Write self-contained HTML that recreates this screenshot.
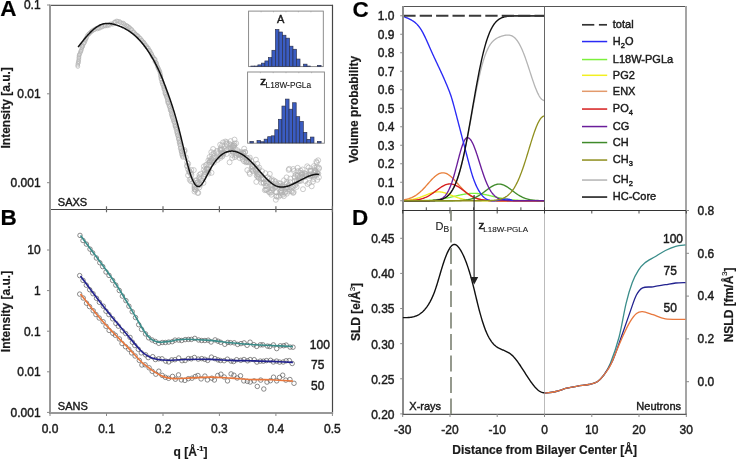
<!DOCTYPE html>
<html><head><meta charset="utf-8"><style>
html,body{margin:0;padding:0;background:#fff;width:736px;height:459px;overflow:hidden}
svg{display:block;font-family:"Liberation Sans",sans-serif}
text{stroke:#1a1a1a;stroke-width:0.42px}
text[font-weight="bold"]{stroke-width:0.2px}
.sm{stroke-width:0.12px}
</style></head><body>
<div style="will-change:transform;width:736px;height:459px"><svg width="736" height="459" viewBox="0 0 736 459">
<rect width="736" height="459" fill="#fff"/>
<circle cx="77.8" cy="66.5" r="1.9" fill="none" stroke="#b0b0b0" stroke-width="0.65"/>
<circle cx="77.7" cy="65.1" r="1.9" fill="none" stroke="#b0b0b0" stroke-width="0.65"/>
<circle cx="78.0" cy="63.4" r="1.9" fill="none" stroke="#b0b0b0" stroke-width="0.65"/>
<circle cx="78.6" cy="62.3" r="1.9" fill="none" stroke="#b0b0b0" stroke-width="0.65"/>
<circle cx="78.4" cy="61.2" r="1.9" fill="none" stroke="#b0b0b0" stroke-width="0.65"/>
<circle cx="78.8" cy="59.6" r="1.9" fill="none" stroke="#b0b0b0" stroke-width="0.65"/>
<circle cx="78.9" cy="58.0" r="1.9" fill="none" stroke="#b0b0b0" stroke-width="0.65"/>
<circle cx="79.0" cy="56.9" r="1.9" fill="none" stroke="#b0b0b0" stroke-width="0.65"/>
<circle cx="79.1" cy="55.3" r="1.9" fill="none" stroke="#b0b0b0" stroke-width="0.65"/>
<circle cx="79.4" cy="54.5" r="1.9" fill="none" stroke="#b0b0b0" stroke-width="0.65"/>
<circle cx="80.1" cy="53.2" r="1.9" fill="none" stroke="#b0b0b0" stroke-width="0.65"/>
<circle cx="80.6" cy="51.6" r="1.9" fill="none" stroke="#b0b0b0" stroke-width="0.65"/>
<circle cx="81.0" cy="51.0" r="1.9" fill="none" stroke="#b0b0b0" stroke-width="0.65"/>
<circle cx="81.6" cy="49.4" r="1.9" fill="none" stroke="#b0b0b0" stroke-width="0.65"/>
<circle cx="81.9" cy="47.7" r="1.9" fill="none" stroke="#b0b0b0" stroke-width="0.65"/>
<circle cx="82.3" cy="46.5" r="1.9" fill="none" stroke="#b0b0b0" stroke-width="0.65"/>
<circle cx="82.6" cy="46.4" r="1.9" fill="none" stroke="#b0b0b0" stroke-width="0.65"/>
<circle cx="82.9" cy="45.1" r="1.9" fill="none" stroke="#b0b0b0" stroke-width="0.65"/>
<circle cx="83.9" cy="43.5" r="1.9" fill="none" stroke="#b0b0b0" stroke-width="0.65"/>
<circle cx="84.4" cy="42.6" r="1.9" fill="none" stroke="#b0b0b0" stroke-width="0.65"/>
<circle cx="85.1" cy="41.1" r="1.9" fill="none" stroke="#b0b0b0" stroke-width="0.65"/>
<circle cx="85.3" cy="39.8" r="1.9" fill="none" stroke="#b0b0b0" stroke-width="0.65"/>
<circle cx="85.8" cy="38.9" r="1.9" fill="none" stroke="#b0b0b0" stroke-width="0.65"/>
<circle cx="86.5" cy="38.1" r="1.9" fill="none" stroke="#b0b0b0" stroke-width="0.65"/>
<circle cx="87.0" cy="36.3" r="1.9" fill="none" stroke="#b0b0b0" stroke-width="0.65"/>
<circle cx="87.9" cy="34.8" r="1.9" fill="none" stroke="#b0b0b0" stroke-width="0.65"/>
<circle cx="89.2" cy="33.7" r="1.9" fill="none" stroke="#b0b0b0" stroke-width="0.65"/>
<circle cx="89.6" cy="33.3" r="1.9" fill="none" stroke="#b0b0b0" stroke-width="0.65"/>
<circle cx="90.9" cy="31.9" r="1.9" fill="none" stroke="#b0b0b0" stroke-width="0.65"/>
<circle cx="91.7" cy="31.4" r="1.9" fill="none" stroke="#b0b0b0" stroke-width="0.65"/>
<circle cx="92.5" cy="30.7" r="1.9" fill="none" stroke="#b0b0b0" stroke-width="0.65"/>
<circle cx="93.7" cy="29.8" r="1.9" fill="none" stroke="#b0b0b0" stroke-width="0.65"/>
<circle cx="94.7" cy="29.7" r="1.9" fill="none" stroke="#b0b0b0" stroke-width="0.65"/>
<circle cx="96.3" cy="28.2" r="1.9" fill="none" stroke="#b0b0b0" stroke-width="0.65"/>
<circle cx="97.4" cy="28.9" r="1.9" fill="none" stroke="#b0b0b0" stroke-width="0.65"/>
<circle cx="98.3" cy="28.2" r="1.9" fill="none" stroke="#b0b0b0" stroke-width="0.65"/>
<circle cx="99.5" cy="28.3" r="1.9" fill="none" stroke="#b0b0b0" stroke-width="0.65"/>
<circle cx="100.9" cy="27.3" r="1.9" fill="none" stroke="#b0b0b0" stroke-width="0.65"/>
<circle cx="102.1" cy="27.0" r="1.9" fill="none" stroke="#b0b0b0" stroke-width="0.65"/>
<circle cx="103.4" cy="26.2" r="1.9" fill="none" stroke="#b0b0b0" stroke-width="0.65"/>
<circle cx="105.1" cy="25.3" r="1.9" fill="none" stroke="#b0b0b0" stroke-width="0.65"/>
<circle cx="105.2" cy="26.0" r="1.9" fill="none" stroke="#b0b0b0" stroke-width="0.65"/>
<circle cx="107.1" cy="25.9" r="1.9" fill="none" stroke="#b0b0b0" stroke-width="0.65"/>
<circle cx="108.3" cy="25.1" r="1.9" fill="none" stroke="#b0b0b0" stroke-width="0.65"/>
<circle cx="109.6" cy="25.3" r="1.9" fill="none" stroke="#b0b0b0" stroke-width="0.65"/>
<circle cx="110.6" cy="23.9" r="1.9" fill="none" stroke="#b0b0b0" stroke-width="0.65"/>
<circle cx="112.2" cy="23.8" r="1.9" fill="none" stroke="#b0b0b0" stroke-width="0.65"/>
<circle cx="112.8" cy="24.3" r="1.9" fill="none" stroke="#b0b0b0" stroke-width="0.65"/>
<circle cx="114.4" cy="22.0" r="1.9" fill="none" stroke="#b0b0b0" stroke-width="0.65"/>
<circle cx="115.2" cy="22.1" r="1.9" fill="none" stroke="#b0b0b0" stroke-width="0.65"/>
<circle cx="116.5" cy="21.0" r="1.9" fill="none" stroke="#b0b0b0" stroke-width="0.65"/>
<circle cx="117.7" cy="21.2" r="1.9" fill="none" stroke="#b0b0b0" stroke-width="0.65"/>
<circle cx="119.5" cy="21.4" r="1.9" fill="none" stroke="#b0b0b0" stroke-width="0.65"/>
<circle cx="120.2" cy="22.4" r="1.9" fill="none" stroke="#b0b0b0" stroke-width="0.65"/>
<circle cx="121.7" cy="23.0" r="1.9" fill="none" stroke="#b0b0b0" stroke-width="0.65"/>
<circle cx="123.1" cy="23.0" r="1.9" fill="none" stroke="#b0b0b0" stroke-width="0.65"/>
<circle cx="124.0" cy="23.7" r="1.9" fill="none" stroke="#b0b0b0" stroke-width="0.65"/>
<circle cx="124.8" cy="24.9" r="1.9" fill="none" stroke="#b0b0b0" stroke-width="0.65"/>
<circle cx="126.4" cy="25.4" r="1.9" fill="none" stroke="#b0b0b0" stroke-width="0.65"/>
<circle cx="127.1" cy="25.9" r="1.9" fill="none" stroke="#b0b0b0" stroke-width="0.65"/>
<circle cx="128.0" cy="26.4" r="1.9" fill="none" stroke="#b0b0b0" stroke-width="0.65"/>
<circle cx="129.0" cy="27.2" r="1.9" fill="none" stroke="#b0b0b0" stroke-width="0.65"/>
<circle cx="130.0" cy="28.0" r="1.9" fill="none" stroke="#b0b0b0" stroke-width="0.65"/>
<circle cx="131.1" cy="29.5" r="1.9" fill="none" stroke="#b0b0b0" stroke-width="0.65"/>
<circle cx="131.8" cy="29.5" r="1.9" fill="none" stroke="#b0b0b0" stroke-width="0.65"/>
<circle cx="133.0" cy="31.6" r="1.9" fill="none" stroke="#b0b0b0" stroke-width="0.65"/>
<circle cx="133.8" cy="31.9" r="1.9" fill="none" stroke="#b0b0b0" stroke-width="0.65"/>
<circle cx="134.8" cy="33.2" r="1.9" fill="none" stroke="#b0b0b0" stroke-width="0.65"/>
<circle cx="135.7" cy="34.2" r="1.9" fill="none" stroke="#b0b0b0" stroke-width="0.65"/>
<circle cx="136.7" cy="35.1" r="1.9" fill="none" stroke="#b0b0b0" stroke-width="0.65"/>
<circle cx="137.7" cy="35.6" r="1.9" fill="none" stroke="#b0b0b0" stroke-width="0.65"/>
<circle cx="138.3" cy="36.4" r="1.9" fill="none" stroke="#b0b0b0" stroke-width="0.65"/>
<circle cx="139.4" cy="37.8" r="1.9" fill="none" stroke="#b0b0b0" stroke-width="0.65"/>
<circle cx="140.4" cy="38.3" r="1.9" fill="none" stroke="#b0b0b0" stroke-width="0.65"/>
<circle cx="141.3" cy="39.9" r="1.9" fill="none" stroke="#b0b0b0" stroke-width="0.65"/>
<circle cx="142.0" cy="40.4" r="1.9" fill="none" stroke="#b0b0b0" stroke-width="0.65"/>
<circle cx="142.8" cy="41.8" r="1.9" fill="none" stroke="#b0b0b0" stroke-width="0.65"/>
<circle cx="143.8" cy="42.2" r="1.9" fill="none" stroke="#b0b0b0" stroke-width="0.65"/>
<circle cx="144.6" cy="43.4" r="1.9" fill="none" stroke="#b0b0b0" stroke-width="0.65"/>
<circle cx="145.1" cy="45.0" r="1.9" fill="none" stroke="#b0b0b0" stroke-width="0.65"/>
<circle cx="146.2" cy="45.4" r="1.9" fill="none" stroke="#b0b0b0" stroke-width="0.65"/>
<circle cx="146.8" cy="46.9" r="1.9" fill="none" stroke="#b0b0b0" stroke-width="0.65"/>
<circle cx="147.4" cy="47.7" r="1.9" fill="none" stroke="#b0b0b0" stroke-width="0.65"/>
<circle cx="148.4" cy="48.2" r="1.9" fill="none" stroke="#b0b0b0" stroke-width="0.65"/>
<circle cx="149.0" cy="50.2" r="1.9" fill="none" stroke="#b0b0b0" stroke-width="0.65"/>
<circle cx="149.8" cy="50.6" r="1.9" fill="none" stroke="#b0b0b0" stroke-width="0.65"/>
<circle cx="150.4" cy="51.9" r="1.9" fill="none" stroke="#b0b0b0" stroke-width="0.65"/>
<circle cx="151.1" cy="53.5" r="1.9" fill="none" stroke="#b0b0b0" stroke-width="0.65"/>
<circle cx="151.7" cy="54.1" r="1.9" fill="none" stroke="#b0b0b0" stroke-width="0.65"/>
<circle cx="152.2" cy="55.8" r="1.9" fill="none" stroke="#b0b0b0" stroke-width="0.65"/>
<circle cx="152.7" cy="56.8" r="1.9" fill="none" stroke="#b0b0b0" stroke-width="0.65"/>
<circle cx="153.6" cy="57.7" r="1.9" fill="none" stroke="#b0b0b0" stroke-width="0.65"/>
<circle cx="154.6" cy="59.0" r="1.9" fill="none" stroke="#b0b0b0" stroke-width="0.65"/>
<circle cx="155.2" cy="59.4" r="1.9" fill="none" stroke="#b0b0b0" stroke-width="0.65"/>
<circle cx="154.9" cy="61.6" r="1.9" fill="none" stroke="#b0b0b0" stroke-width="0.65"/>
<circle cx="156.0" cy="62.3" r="1.9" fill="none" stroke="#b0b0b0" stroke-width="0.65"/>
<circle cx="156.4" cy="63.0" r="1.9" fill="none" stroke="#b0b0b0" stroke-width="0.65"/>
<circle cx="156.8" cy="64.5" r="1.9" fill="none" stroke="#b0b0b0" stroke-width="0.65"/>
<circle cx="157.4" cy="66.3" r="1.9" fill="none" stroke="#b0b0b0" stroke-width="0.65"/>
<circle cx="157.9" cy="67.4" r="1.9" fill="none" stroke="#b0b0b0" stroke-width="0.65"/>
<circle cx="158.2" cy="68.3" r="1.9" fill="none" stroke="#b0b0b0" stroke-width="0.65"/>
<circle cx="158.8" cy="69.6" r="1.9" fill="none" stroke="#b0b0b0" stroke-width="0.65"/>
<circle cx="159.4" cy="70.6" r="1.9" fill="none" stroke="#b0b0b0" stroke-width="0.65"/>
<circle cx="159.9" cy="71.8" r="1.9" fill="none" stroke="#b0b0b0" stroke-width="0.65"/>
<circle cx="160.1" cy="73.2" r="1.9" fill="none" stroke="#b0b0b0" stroke-width="0.65"/>
<circle cx="160.6" cy="74.7" r="1.9" fill="none" stroke="#b0b0b0" stroke-width="0.65"/>
<circle cx="160.7" cy="76.2" r="1.9" fill="none" stroke="#b0b0b0" stroke-width="0.65"/>
<circle cx="160.8" cy="76.8" r="1.9" fill="none" stroke="#b0b0b0" stroke-width="0.65"/>
<circle cx="160.9" cy="78.9" r="1.9" fill="none" stroke="#b0b0b0" stroke-width="0.65"/>
<circle cx="161.4" cy="79.5" r="1.9" fill="none" stroke="#b0b0b0" stroke-width="0.65"/>
<circle cx="161.9" cy="81.7" r="1.9" fill="none" stroke="#b0b0b0" stroke-width="0.65"/>
<circle cx="161.9" cy="82.3" r="1.9" fill="none" stroke="#b0b0b0" stroke-width="0.65"/>
<circle cx="162.5" cy="83.7" r="1.9" fill="none" stroke="#b0b0b0" stroke-width="0.65"/>
<circle cx="162.5" cy="84.6" r="1.9" fill="none" stroke="#b0b0b0" stroke-width="0.65"/>
<circle cx="163.4" cy="86.5" r="1.9" fill="none" stroke="#b0b0b0" stroke-width="0.65"/>
<circle cx="163.9" cy="86.9" r="1.9" fill="none" stroke="#b0b0b0" stroke-width="0.65"/>
<circle cx="163.9" cy="88.5" r="1.9" fill="none" stroke="#b0b0b0" stroke-width="0.65"/>
<circle cx="164.0" cy="89.3" r="1.9" fill="none" stroke="#b0b0b0" stroke-width="0.65"/>
<circle cx="164.8" cy="91.1" r="1.9" fill="none" stroke="#b0b0b0" stroke-width="0.65"/>
<circle cx="164.9" cy="92.7" r="1.9" fill="none" stroke="#b0b0b0" stroke-width="0.65"/>
<circle cx="165.1" cy="93.7" r="1.9" fill="none" stroke="#b0b0b0" stroke-width="0.65"/>
<circle cx="165.7" cy="94.7" r="1.9" fill="none" stroke="#b0b0b0" stroke-width="0.65"/>
<circle cx="166.2" cy="96.1" r="1.9" fill="none" stroke="#b0b0b0" stroke-width="0.65"/>
<circle cx="166.5" cy="97.3" r="1.9" fill="none" stroke="#b0b0b0" stroke-width="0.65"/>
<circle cx="167.2" cy="98.4" r="1.9" fill="none" stroke="#b0b0b0" stroke-width="0.65"/>
<circle cx="167.4" cy="99.9" r="1.9" fill="none" stroke="#b0b0b0" stroke-width="0.65"/>
<circle cx="167.5" cy="101.3" r="1.9" fill="none" stroke="#b0b0b0" stroke-width="0.65"/>
<circle cx="167.8" cy="102.6" r="1.9" fill="none" stroke="#b0b0b0" stroke-width="0.65"/>
<circle cx="168.2" cy="103.3" r="1.9" fill="none" stroke="#b0b0b0" stroke-width="0.65"/>
<circle cx="168.8" cy="105.0" r="1.9" fill="none" stroke="#b0b0b0" stroke-width="0.65"/>
<circle cx="169.3" cy="106.3" r="1.9" fill="none" stroke="#b0b0b0" stroke-width="0.65"/>
<circle cx="169.5" cy="106.8" r="1.9" fill="none" stroke="#b0b0b0" stroke-width="0.65"/>
<circle cx="170.0" cy="108.5" r="1.9" fill="none" stroke="#b0b0b0" stroke-width="0.65"/>
<circle cx="170.1" cy="110.0" r="1.9" fill="none" stroke="#b0b0b0" stroke-width="0.65"/>
<circle cx="170.7" cy="110.6" r="1.9" fill="none" stroke="#b0b0b0" stroke-width="0.65"/>
<circle cx="171.1" cy="111.7" r="1.9" fill="none" stroke="#b0b0b0" stroke-width="0.65"/>
<circle cx="171.2" cy="113.5" r="1.9" fill="none" stroke="#b0b0b0" stroke-width="0.65"/>
<circle cx="171.5" cy="114.7" r="1.9" fill="none" stroke="#b0b0b0" stroke-width="0.65"/>
<circle cx="171.9" cy="116.1" r="1.9" fill="none" stroke="#b0b0b0" stroke-width="0.65"/>
<circle cx="172.4" cy="117.2" r="1.9" fill="none" stroke="#b0b0b0" stroke-width="0.65"/>
<circle cx="172.6" cy="118.3" r="1.9" fill="none" stroke="#b0b0b0" stroke-width="0.65"/>
<circle cx="173.5" cy="119.8" r="1.9" fill="none" stroke="#b0b0b0" stroke-width="0.65"/>
<circle cx="173.3" cy="121.2" r="1.9" fill="none" stroke="#b0b0b0" stroke-width="0.65"/>
<circle cx="174.2" cy="122.0" r="1.9" fill="none" stroke="#b0b0b0" stroke-width="0.65"/>
<circle cx="174.6" cy="123.0" r="1.9" fill="none" stroke="#b0b0b0" stroke-width="0.65"/>
<circle cx="174.7" cy="125.0" r="1.9" fill="none" stroke="#b0b0b0" stroke-width="0.65"/>
<circle cx="175.3" cy="126.3" r="1.9" fill="none" stroke="#b0b0b0" stroke-width="0.65"/>
<circle cx="175.2" cy="126.5" r="1.9" fill="none" stroke="#b0b0b0" stroke-width="0.65"/>
<circle cx="175.8" cy="127.9" r="1.9" fill="none" stroke="#b0b0b0" stroke-width="0.65"/>
<circle cx="176.0" cy="129.2" r="1.9" fill="none" stroke="#b0b0b0" stroke-width="0.65"/>
<circle cx="176.6" cy="131.2" r="1.9" fill="none" stroke="#b0b0b0" stroke-width="0.65"/>
<circle cx="176.8" cy="132.2" r="1.9" fill="none" stroke="#b0b0b0" stroke-width="0.65"/>
<circle cx="177.0" cy="133.3" r="1.9" fill="none" stroke="#b0b0b0" stroke-width="0.65"/>
<circle cx="177.4" cy="134.8" r="1.9" fill="none" stroke="#b0b0b0" stroke-width="0.65"/>
<circle cx="177.7" cy="135.8" r="1.9" fill="none" stroke="#b0b0b0" stroke-width="0.65"/>
<circle cx="178.3" cy="137.3" r="1.9" fill="none" stroke="#b0b0b0" stroke-width="0.65"/>
<circle cx="178.5" cy="138.9" r="1.9" fill="none" stroke="#b0b0b0" stroke-width="0.65"/>
<circle cx="178.4" cy="139.2" r="1.9" fill="none" stroke="#b0b0b0" stroke-width="0.65"/>
<circle cx="179.1" cy="140.9" r="1.9" fill="none" stroke="#b0b0b0" stroke-width="0.65"/>
<circle cx="179.1" cy="142.2" r="1.9" fill="none" stroke="#b0b0b0" stroke-width="0.65"/>
<circle cx="179.4" cy="143.1" r="1.9" fill="none" stroke="#b0b0b0" stroke-width="0.65"/>
<circle cx="179.7" cy="144.7" r="1.9" fill="none" stroke="#b0b0b0" stroke-width="0.65"/>
<circle cx="180.0" cy="145.3" r="1.9" fill="none" stroke="#b0b0b0" stroke-width="0.65"/>
<circle cx="180.4" cy="147.5" r="1.9" fill="none" stroke="#b0b0b0" stroke-width="0.65"/>
<circle cx="180.2" cy="148.4" r="1.9" fill="none" stroke="#b0b0b0" stroke-width="0.65"/>
<circle cx="180.9" cy="150.1" r="1.9" fill="none" stroke="#b0b0b0" stroke-width="0.65"/>
<circle cx="181.1" cy="151.6" r="1.9" fill="none" stroke="#b0b0b0" stroke-width="0.65"/>
<circle cx="181.4" cy="152.1" r="1.9" fill="none" stroke="#b0b0b0" stroke-width="0.65"/>
<circle cx="181.6" cy="153.9" r="1.9" fill="none" stroke="#b0b0b0" stroke-width="0.65"/>
<circle cx="181.9" cy="155.2" r="1.9" fill="none" stroke="#b0b0b0" stroke-width="0.65"/>
<circle cx="182.5" cy="156.4" r="1.9" fill="none" stroke="#b0b0b0" stroke-width="0.65"/>
<circle cx="182.8" cy="157.4" r="1.9" fill="none" stroke="#b0b0b0" stroke-width="0.65"/>
<circle cx="285.6" cy="191.6" r="2.5" fill="none" stroke="#b0b0b0" stroke-width="0.65"/>
<circle cx="286.8" cy="193.7" r="2.5" fill="none" stroke="#b0b0b0" stroke-width="0.65"/>
<circle cx="275.6" cy="181.6" r="2.5" fill="none" stroke="#b0b0b0" stroke-width="0.65"/>
<circle cx="271.4" cy="185.4" r="2.5" fill="none" stroke="#b0b0b0" stroke-width="0.65"/>
<circle cx="306.0" cy="175.9" r="2.5" fill="none" stroke="#b0b0b0" stroke-width="0.65"/>
<circle cx="285.7" cy="188.9" r="2.5" fill="none" stroke="#b0b0b0" stroke-width="0.65"/>
<circle cx="308.7" cy="167.6" r="2.5" fill="none" stroke="#b0b0b0" stroke-width="0.65"/>
<circle cx="281.8" cy="187.8" r="2.5" fill="none" stroke="#b0b0b0" stroke-width="0.65"/>
<circle cx="209.3" cy="162.6" r="2.5" fill="none" stroke="#b0b0b0" stroke-width="0.65"/>
<circle cx="263.6" cy="182.7" r="2.5" fill="none" stroke="#b0b0b0" stroke-width="0.65"/>
<circle cx="226.8" cy="150.2" r="2.5" fill="none" stroke="#b0b0b0" stroke-width="0.65"/>
<circle cx="313.7" cy="179.0" r="2.5" fill="none" stroke="#b0b0b0" stroke-width="0.65"/>
<circle cx="224.2" cy="148.7" r="2.5" fill="none" stroke="#b0b0b0" stroke-width="0.65"/>
<circle cx="300.1" cy="172.6" r="2.5" fill="none" stroke="#b0b0b0" stroke-width="0.65"/>
<circle cx="263.5" cy="178.5" r="2.5" fill="none" stroke="#b0b0b0" stroke-width="0.65"/>
<circle cx="187.1" cy="165.8" r="2.5" fill="none" stroke="#b0b0b0" stroke-width="0.65"/>
<circle cx="249.2" cy="161.5" r="2.5" fill="none" stroke="#b0b0b0" stroke-width="0.65"/>
<circle cx="233.0" cy="151.8" r="2.5" fill="none" stroke="#b0b0b0" stroke-width="0.65"/>
<circle cx="227.8" cy="149.4" r="2.5" fill="none" stroke="#b0b0b0" stroke-width="0.65"/>
<circle cx="318.8" cy="167.6" r="2.5" fill="none" stroke="#b0b0b0" stroke-width="0.65"/>
<circle cx="249.2" cy="159.2" r="2.5" fill="none" stroke="#b0b0b0" stroke-width="0.65"/>
<circle cx="297.5" cy="175.9" r="2.5" fill="none" stroke="#b0b0b0" stroke-width="0.65"/>
<circle cx="295.7" cy="174.7" r="2.5" fill="none" stroke="#b0b0b0" stroke-width="0.65"/>
<circle cx="282.0" cy="186.1" r="2.5" fill="none" stroke="#b0b0b0" stroke-width="0.65"/>
<circle cx="300.5" cy="170.6" r="2.5" fill="none" stroke="#b0b0b0" stroke-width="0.65"/>
<circle cx="314.6" cy="175.8" r="2.5" fill="none" stroke="#b0b0b0" stroke-width="0.65"/>
<circle cx="247.6" cy="162.2" r="2.5" fill="none" stroke="#b0b0b0" stroke-width="0.65"/>
<circle cx="281.6" cy="192.8" r="2.5" fill="none" stroke="#b0b0b0" stroke-width="0.65"/>
<circle cx="275.8" cy="199.8" r="2.5" fill="none" stroke="#b0b0b0" stroke-width="0.65"/>
<circle cx="216.9" cy="152.4" r="2.5" fill="none" stroke="#b0b0b0" stroke-width="0.65"/>
<circle cx="209.8" cy="162.2" r="2.5" fill="none" stroke="#b0b0b0" stroke-width="0.65"/>
<circle cx="279.8" cy="192.7" r="2.5" fill="none" stroke="#b0b0b0" stroke-width="0.65"/>
<circle cx="300.8" cy="180.9" r="2.5" fill="none" stroke="#b0b0b0" stroke-width="0.65"/>
<circle cx="301.7" cy="174.6" r="2.5" fill="none" stroke="#b0b0b0" stroke-width="0.65"/>
<circle cx="226.6" cy="142.2" r="2.5" fill="none" stroke="#b0b0b0" stroke-width="0.65"/>
<circle cx="195.7" cy="190.1" r="2.5" fill="none" stroke="#b0b0b0" stroke-width="0.65"/>
<circle cx="196.6" cy="187.7" r="2.5" fill="none" stroke="#b0b0b0" stroke-width="0.65"/>
<circle cx="232.5" cy="146.0" r="2.5" fill="none" stroke="#b0b0b0" stroke-width="0.65"/>
<circle cx="262.9" cy="177.9" r="2.5" fill="none" stroke="#b0b0b0" stroke-width="0.65"/>
<circle cx="229.5" cy="148.4" r="2.5" fill="none" stroke="#b0b0b0" stroke-width="0.65"/>
<circle cx="243.3" cy="153.6" r="2.5" fill="none" stroke="#b0b0b0" stroke-width="0.65"/>
<circle cx="263.6" cy="179.3" r="2.5" fill="none" stroke="#b0b0b0" stroke-width="0.65"/>
<circle cx="313.9" cy="166.1" r="2.5" fill="none" stroke="#b0b0b0" stroke-width="0.65"/>
<circle cx="200.2" cy="184.9" r="2.5" fill="none" stroke="#b0b0b0" stroke-width="0.65"/>
<circle cx="221.4" cy="150.2" r="2.5" fill="none" stroke="#b0b0b0" stroke-width="0.65"/>
<circle cx="304.7" cy="173.0" r="2.5" fill="none" stroke="#b0b0b0" stroke-width="0.65"/>
<circle cx="307.6" cy="184.0" r="2.5" fill="none" stroke="#b0b0b0" stroke-width="0.65"/>
<circle cx="234.9" cy="157.2" r="2.5" fill="none" stroke="#b0b0b0" stroke-width="0.65"/>
<circle cx="289.0" cy="185.3" r="2.5" fill="none" stroke="#b0b0b0" stroke-width="0.65"/>
<circle cx="275.9" cy="183.5" r="2.5" fill="none" stroke="#b0b0b0" stroke-width="0.65"/>
<circle cx="273.0" cy="188.7" r="2.5" fill="none" stroke="#b0b0b0" stroke-width="0.65"/>
<circle cx="286.6" cy="182.2" r="2.5" fill="none" stroke="#b0b0b0" stroke-width="0.65"/>
<circle cx="314.7" cy="167.9" r="2.5" fill="none" stroke="#b0b0b0" stroke-width="0.65"/>
<circle cx="199.4" cy="175.0" r="2.5" fill="none" stroke="#b0b0b0" stroke-width="0.65"/>
<circle cx="251.2" cy="161.0" r="2.5" fill="none" stroke="#b0b0b0" stroke-width="0.65"/>
<circle cx="276.3" cy="196.2" r="2.5" fill="none" stroke="#b0b0b0" stroke-width="0.65"/>
<circle cx="261.0" cy="179.4" r="2.5" fill="none" stroke="#b0b0b0" stroke-width="0.65"/>
<circle cx="269.8" cy="192.6" r="2.5" fill="none" stroke="#b0b0b0" stroke-width="0.65"/>
<circle cx="208.4" cy="169.3" r="2.5" fill="none" stroke="#b0b0b0" stroke-width="0.65"/>
<circle cx="200.7" cy="173.8" r="2.5" fill="none" stroke="#b0b0b0" stroke-width="0.65"/>
<circle cx="310.7" cy="175.2" r="2.5" fill="none" stroke="#b0b0b0" stroke-width="0.65"/>
<circle cx="282.0" cy="192.5" r="2.5" fill="none" stroke="#b0b0b0" stroke-width="0.65"/>
<circle cx="265.3" cy="173.2" r="2.5" fill="none" stroke="#b0b0b0" stroke-width="0.65"/>
<circle cx="246.2" cy="157.7" r="2.5" fill="none" stroke="#b0b0b0" stroke-width="0.65"/>
<circle cx="226.5" cy="150.2" r="2.5" fill="none" stroke="#b0b0b0" stroke-width="0.65"/>
<circle cx="281.4" cy="190.6" r="2.5" fill="none" stroke="#b0b0b0" stroke-width="0.65"/>
<circle cx="286.6" cy="177.4" r="2.5" fill="none" stroke="#b0b0b0" stroke-width="0.65"/>
<circle cx="232.9" cy="147.5" r="2.5" fill="none" stroke="#b0b0b0" stroke-width="0.65"/>
<circle cx="220.2" cy="144.7" r="2.5" fill="none" stroke="#b0b0b0" stroke-width="0.65"/>
<circle cx="189.7" cy="179.8" r="2.5" fill="none" stroke="#b0b0b0" stroke-width="0.65"/>
<circle cx="252.6" cy="167.4" r="2.5" fill="none" stroke="#b0b0b0" stroke-width="0.65"/>
<circle cx="232.2" cy="158.0" r="2.5" fill="none" stroke="#b0b0b0" stroke-width="0.65"/>
<circle cx="229.3" cy="143.8" r="2.5" fill="none" stroke="#b0b0b0" stroke-width="0.65"/>
<circle cx="289.0" cy="189.1" r="2.5" fill="none" stroke="#b0b0b0" stroke-width="0.65"/>
<circle cx="232.0" cy="150.8" r="2.5" fill="none" stroke="#b0b0b0" stroke-width="0.65"/>
<circle cx="220.8" cy="149.8" r="2.5" fill="none" stroke="#b0b0b0" stroke-width="0.65"/>
<circle cx="197.6" cy="192.8" r="2.5" fill="none" stroke="#b0b0b0" stroke-width="0.65"/>
<circle cx="282.9" cy="194.7" r="2.5" fill="none" stroke="#b0b0b0" stroke-width="0.65"/>
<circle cx="209.1" cy="164.9" r="2.5" fill="none" stroke="#b0b0b0" stroke-width="0.65"/>
<circle cx="285.1" cy="192.7" r="2.5" fill="none" stroke="#b0b0b0" stroke-width="0.65"/>
<circle cx="294.9" cy="181.0" r="2.5" fill="none" stroke="#b0b0b0" stroke-width="0.65"/>
<circle cx="203.9" cy="166.3" r="2.5" fill="none" stroke="#b0b0b0" stroke-width="0.65"/>
<circle cx="238.2" cy="154.5" r="2.5" fill="none" stroke="#b0b0b0" stroke-width="0.65"/>
<circle cx="261.3" cy="182.7" r="2.5" fill="none" stroke="#b0b0b0" stroke-width="0.65"/>
<circle cx="211.5" cy="160.3" r="2.5" fill="none" stroke="#b0b0b0" stroke-width="0.65"/>
<circle cx="188.1" cy="175.3" r="2.5" fill="none" stroke="#b0b0b0" stroke-width="0.65"/>
<circle cx="293.2" cy="192.9" r="2.5" fill="none" stroke="#b0b0b0" stroke-width="0.65"/>
<circle cx="236.1" cy="143.3" r="2.5" fill="none" stroke="#b0b0b0" stroke-width="0.65"/>
<circle cx="259.2" cy="167.5" r="2.5" fill="none" stroke="#b0b0b0" stroke-width="0.65"/>
<circle cx="316.9" cy="167.0" r="2.5" fill="none" stroke="#b0b0b0" stroke-width="0.65"/>
<circle cx="277.4" cy="185.2" r="2.5" fill="none" stroke="#b0b0b0" stroke-width="0.65"/>
<circle cx="249.8" cy="174.0" r="2.5" fill="none" stroke="#b0b0b0" stroke-width="0.65"/>
<circle cx="265.8" cy="181.3" r="2.5" fill="none" stroke="#b0b0b0" stroke-width="0.65"/>
<circle cx="288.8" cy="184.8" r="2.5" fill="none" stroke="#b0b0b0" stroke-width="0.65"/>
<circle cx="274.0" cy="180.5" r="2.5" fill="none" stroke="#b0b0b0" stroke-width="0.65"/>
<circle cx="246.6" cy="160.9" r="2.5" fill="none" stroke="#b0b0b0" stroke-width="0.65"/>
<circle cx="210.3" cy="160.4" r="2.5" fill="none" stroke="#b0b0b0" stroke-width="0.65"/>
<circle cx="252.1" cy="166.4" r="2.5" fill="none" stroke="#b0b0b0" stroke-width="0.65"/>
<circle cx="271.9" cy="179.3" r="2.5" fill="none" stroke="#b0b0b0" stroke-width="0.65"/>
<circle cx="314.4" cy="173.2" r="2.5" fill="none" stroke="#b0b0b0" stroke-width="0.65"/>
<circle cx="305.3" cy="181.1" r="2.5" fill="none" stroke="#b0b0b0" stroke-width="0.65"/>
<circle cx="268.8" cy="191.8" r="2.5" fill="none" stroke="#b0b0b0" stroke-width="0.65"/>
<circle cx="190.9" cy="173.2" r="2.5" fill="none" stroke="#b0b0b0" stroke-width="0.65"/>
<circle cx="194.6" cy="188.6" r="2.5" fill="none" stroke="#b0b0b0" stroke-width="0.65"/>
<circle cx="257.3" cy="176.3" r="2.5" fill="none" stroke="#b0b0b0" stroke-width="0.65"/>
<circle cx="302.4" cy="174.6" r="2.5" fill="none" stroke="#b0b0b0" stroke-width="0.65"/>
<circle cx="278.5" cy="196.7" r="2.5" fill="none" stroke="#b0b0b0" stroke-width="0.65"/>
<circle cx="265.8" cy="189.6" r="2.5" fill="none" stroke="#b0b0b0" stroke-width="0.65"/>
<circle cx="310.1" cy="170.8" r="2.5" fill="none" stroke="#b0b0b0" stroke-width="0.65"/>
<circle cx="230.7" cy="141.1" r="2.5" fill="none" stroke="#b0b0b0" stroke-width="0.65"/>
<circle cx="293.7" cy="192.1" r="2.5" fill="none" stroke="#b0b0b0" stroke-width="0.65"/>
<circle cx="243.4" cy="153.0" r="2.5" fill="none" stroke="#b0b0b0" stroke-width="0.65"/>
<circle cx="286.9" cy="183.5" r="2.5" fill="none" stroke="#b0b0b0" stroke-width="0.65"/>
<circle cx="189.8" cy="172.7" r="2.5" fill="none" stroke="#b0b0b0" stroke-width="0.65"/>
<circle cx="194.6" cy="186.0" r="2.5" fill="none" stroke="#b0b0b0" stroke-width="0.65"/>
<circle cx="251.6" cy="169.1" r="2.5" fill="none" stroke="#b0b0b0" stroke-width="0.65"/>
<circle cx="279.1" cy="183.0" r="2.5" fill="none" stroke="#b0b0b0" stroke-width="0.65"/>
<circle cx="272.3" cy="185.3" r="2.5" fill="none" stroke="#b0b0b0" stroke-width="0.65"/>
<circle cx="225.4" cy="141.5" r="2.5" fill="none" stroke="#b0b0b0" stroke-width="0.65"/>
<circle cx="238.6" cy="154.6" r="2.5" fill="none" stroke="#b0b0b0" stroke-width="0.65"/>
<circle cx="208.6" cy="169.8" r="2.5" fill="none" stroke="#b0b0b0" stroke-width="0.65"/>
<circle cx="233.9" cy="145.3" r="2.5" fill="none" stroke="#b0b0b0" stroke-width="0.65"/>
<circle cx="234.5" cy="143.6" r="2.5" fill="none" stroke="#b0b0b0" stroke-width="0.65"/>
<circle cx="214.4" cy="156.1" r="2.5" fill="none" stroke="#b0b0b0" stroke-width="0.65"/>
<circle cx="184.4" cy="151.5" r="2.5" fill="none" stroke="#b0b0b0" stroke-width="0.65"/>
<circle cx="203.5" cy="182.9" r="2.5" fill="none" stroke="#b0b0b0" stroke-width="0.65"/>
<circle cx="246.6" cy="161.7" r="2.5" fill="none" stroke="#b0b0b0" stroke-width="0.65"/>
<circle cx="207.2" cy="168.5" r="2.5" fill="none" stroke="#b0b0b0" stroke-width="0.65"/>
<circle cx="238.9" cy="153.5" r="2.5" fill="none" stroke="#b0b0b0" stroke-width="0.65"/>
<circle cx="199.0" cy="183.8" r="2.5" fill="none" stroke="#b0b0b0" stroke-width="0.65"/>
<circle cx="206.9" cy="164.6" r="2.5" fill="none" stroke="#b0b0b0" stroke-width="0.65"/>
<circle cx="187.1" cy="162.4" r="2.5" fill="none" stroke="#b0b0b0" stroke-width="0.65"/>
<circle cx="244.9" cy="152.2" r="2.5" fill="none" stroke="#b0b0b0" stroke-width="0.65"/>
<circle cx="191.0" cy="181.3" r="2.5" fill="none" stroke="#b0b0b0" stroke-width="0.65"/>
<circle cx="238.8" cy="152.0" r="2.5" fill="none" stroke="#b0b0b0" stroke-width="0.65"/>
<circle cx="315.3" cy="171.5" r="2.5" fill="none" stroke="#b0b0b0" stroke-width="0.65"/>
<circle cx="213.8" cy="162.6" r="2.5" fill="none" stroke="#b0b0b0" stroke-width="0.65"/>
<circle cx="206.4" cy="170.2" r="2.5" fill="none" stroke="#b0b0b0" stroke-width="0.65"/>
<circle cx="268.7" cy="182.4" r="2.5" fill="none" stroke="#b0b0b0" stroke-width="0.65"/>
<circle cx="191.1" cy="179.1" r="2.5" fill="none" stroke="#b0b0b0" stroke-width="0.65"/>
<circle cx="283.0" cy="186.5" r="2.5" fill="none" stroke="#b0b0b0" stroke-width="0.65"/>
<circle cx="247.3" cy="170.1" r="2.5" fill="none" stroke="#b0b0b0" stroke-width="0.65"/>
<circle cx="310.9" cy="171.0" r="2.5" fill="none" stroke="#b0b0b0" stroke-width="0.65"/>
<circle cx="220.2" cy="155.9" r="2.5" fill="none" stroke="#b0b0b0" stroke-width="0.65"/>
<circle cx="294.8" cy="177.7" r="2.5" fill="none" stroke="#b0b0b0" stroke-width="0.65"/>
<circle cx="196.7" cy="180.5" r="2.5" fill="none" stroke="#b0b0b0" stroke-width="0.65"/>
<circle cx="276.8" cy="196.6" r="2.5" fill="none" stroke="#b0b0b0" stroke-width="0.65"/>
<circle cx="184.5" cy="150.1" r="2.5" fill="none" stroke="#b0b0b0" stroke-width="0.65"/>
<circle cx="188.1" cy="169.2" r="2.5" fill="none" stroke="#b0b0b0" stroke-width="0.65"/>
<circle cx="189.0" cy="171.4" r="2.5" fill="none" stroke="#b0b0b0" stroke-width="0.65"/>
<circle cx="191.3" cy="170.0" r="2.5" fill="none" stroke="#b0b0b0" stroke-width="0.65"/>
<circle cx="211.3" cy="152.1" r="2.5" fill="none" stroke="#b0b0b0" stroke-width="0.65"/>
<circle cx="316.4" cy="161.5" r="2.5" fill="none" stroke="#b0b0b0" stroke-width="0.65"/>
<circle cx="308.8" cy="174.6" r="2.5" fill="none" stroke="#b0b0b0" stroke-width="0.65"/>
<circle cx="311.9" cy="176.1" r="2.5" fill="none" stroke="#b0b0b0" stroke-width="0.65"/>
<circle cx="266.5" cy="183.2" r="2.5" fill="none" stroke="#b0b0b0" stroke-width="0.65"/>
<circle cx="312.7" cy="175.1" r="2.5" fill="none" stroke="#b0b0b0" stroke-width="0.65"/>
<circle cx="299.6" cy="180.6" r="2.5" fill="none" stroke="#b0b0b0" stroke-width="0.65"/>
<circle cx="199.6" cy="177.1" r="2.5" fill="none" stroke="#b0b0b0" stroke-width="0.65"/>
<circle cx="276.5" cy="192.1" r="2.5" fill="none" stroke="#b0b0b0" stroke-width="0.65"/>
<circle cx="310.3" cy="176.4" r="2.5" fill="none" stroke="#b0b0b0" stroke-width="0.65"/>
<circle cx="283.8" cy="196.2" r="2.5" fill="none" stroke="#b0b0b0" stroke-width="0.65"/>
<circle cx="297.6" cy="167.8" r="2.5" fill="none" stroke="#b0b0b0" stroke-width="0.65"/>
<circle cx="233.3" cy="146.1" r="2.5" fill="none" stroke="#b0b0b0" stroke-width="0.65"/>
<circle cx="240.4" cy="155.4" r="2.5" fill="none" stroke="#b0b0b0" stroke-width="0.65"/>
<circle cx="249.4" cy="172.6" r="2.5" fill="none" stroke="#b0b0b0" stroke-width="0.65"/>
<circle cx="220.6" cy="155.8" r="2.5" fill="none" stroke="#b0b0b0" stroke-width="0.65"/>
<circle cx="266.4" cy="189.9" r="2.5" fill="none" stroke="#b0b0b0" stroke-width="0.65"/>
<circle cx="280.6" cy="183.7" r="2.5" fill="none" stroke="#b0b0b0" stroke-width="0.65"/>
<circle cx="204.9" cy="174.6" r="2.5" fill="none" stroke="#b0b0b0" stroke-width="0.65"/>
<circle cx="280.7" cy="195.3" r="2.5" fill="none" stroke="#b0b0b0" stroke-width="0.65"/>
<circle cx="287.1" cy="187.0" r="2.5" fill="none" stroke="#b0b0b0" stroke-width="0.65"/>
<circle cx="276.1" cy="192.2" r="2.5" fill="none" stroke="#b0b0b0" stroke-width="0.65"/>
<circle cx="298.7" cy="181.1" r="2.5" fill="none" stroke="#b0b0b0" stroke-width="0.65"/>
<circle cx="271.4" cy="194.7" r="2.5" fill="none" stroke="#b0b0b0" stroke-width="0.65"/>
<circle cx="245.2" cy="152.0" r="2.5" fill="none" stroke="#b0b0b0" stroke-width="0.65"/>
<circle cx="306.0" cy="174.1" r="2.5" fill="none" stroke="#b0b0b0" stroke-width="0.65"/>
<circle cx="234.3" cy="145.7" r="2.5" fill="none" stroke="#b0b0b0" stroke-width="0.65"/>
<circle cx="193.8" cy="170.1" r="2.5" fill="none" stroke="#b0b0b0" stroke-width="0.65"/>
<circle cx="198.3" cy="192.9" r="2.5" fill="none" stroke="#b0b0b0" stroke-width="0.65"/>
<circle cx="261.4" cy="178.2" r="2.5" fill="none" stroke="#b0b0b0" stroke-width="0.65"/>
<circle cx="272.3" cy="188.3" r="2.5" fill="none" stroke="#b0b0b0" stroke-width="0.65"/>
<circle cx="216.7" cy="157.8" r="2.5" fill="none" stroke="#b0b0b0" stroke-width="0.65"/>
<circle cx="271.7" cy="187.3" r="2.5" fill="none" stroke="#b0b0b0" stroke-width="0.65"/>
<circle cx="263.6" cy="183.0" r="2.5" fill="none" stroke="#b0b0b0" stroke-width="0.65"/>
<circle cx="315.5" cy="171.0" r="2.5" fill="none" stroke="#b0b0b0" stroke-width="0.65"/>
<circle cx="213.9" cy="153.0" r="2.5" fill="none" stroke="#b0b0b0" stroke-width="0.65"/>
<circle cx="290.2" cy="182.1" r="2.5" fill="none" stroke="#b0b0b0" stroke-width="0.65"/>
<circle cx="266.2" cy="183.5" r="2.5" fill="none" stroke="#b0b0b0" stroke-width="0.65"/>
<circle cx="209.6" cy="157.0" r="2.5" fill="none" stroke="#b0b0b0" stroke-width="0.65"/>
<circle cx="208.2" cy="171.9" r="2.5" fill="none" stroke="#b0b0b0" stroke-width="0.65"/>
<circle cx="199.3" cy="187.4" r="2.5" fill="none" stroke="#b0b0b0" stroke-width="0.65"/>
<circle cx="187.3" cy="166.2" r="2.5" fill="none" stroke="#b0b0b0" stroke-width="0.65"/>
<circle cx="305.5" cy="174.1" r="2.5" fill="none" stroke="#b0b0b0" stroke-width="0.65"/>
<circle cx="195.7" cy="180.4" r="2.5" fill="none" stroke="#b0b0b0" stroke-width="0.65"/>
<circle cx="296.8" cy="180.8" r="2.5" fill="none" stroke="#b0b0b0" stroke-width="0.65"/>
<circle cx="267.7" cy="177.2" r="2.5" fill="none" stroke="#b0b0b0" stroke-width="0.65"/>
<circle cx="302.6" cy="169.5" r="2.5" fill="none" stroke="#b0b0b0" stroke-width="0.65"/>
<circle cx="231.1" cy="144.9" r="2.5" fill="none" stroke="#b0b0b0" stroke-width="0.65"/>
<circle cx="199.1" cy="178.3" r="2.5" fill="none" stroke="#b0b0b0" stroke-width="0.65"/>
<circle cx="297.6" cy="171.2" r="2.5" fill="none" stroke="#b0b0b0" stroke-width="0.65"/>
<circle cx="212.0" cy="154.8" r="2.5" fill="none" stroke="#b0b0b0" stroke-width="0.65"/>
<circle cx="257.3" cy="163.8" r="2.5" fill="none" stroke="#b0b0b0" stroke-width="0.65"/>
<circle cx="194.5" cy="187.2" r="2.5" fill="none" stroke="#b0b0b0" stroke-width="0.65"/>
<circle cx="231.1" cy="147.3" r="2.5" fill="none" stroke="#b0b0b0" stroke-width="0.65"/>
<circle cx="259.2" cy="174.3" r="2.5" fill="none" stroke="#b0b0b0" stroke-width="0.65"/>
<circle cx="284.0" cy="180.3" r="2.5" fill="none" stroke="#b0b0b0" stroke-width="0.65"/>
<circle cx="266.4" cy="185.8" r="2.5" fill="none" stroke="#b0b0b0" stroke-width="0.65"/>
<circle cx="213.1" cy="149.0" r="2.5" fill="none" stroke="#b0b0b0" stroke-width="0.65"/>
<circle cx="229.6" cy="162.3" r="2.5" fill="none" stroke="#b0b0b0" stroke-width="0.65"/>
<circle cx="242.6" cy="159.3" r="2.5" fill="none" stroke="#b0b0b0" stroke-width="0.65"/>
<circle cx="206.5" cy="168.8" r="2.5" fill="none" stroke="#b0b0b0" stroke-width="0.65"/>
<circle cx="310.6" cy="170.8" r="2.5" fill="none" stroke="#b0b0b0" stroke-width="0.65"/>
<circle cx="318.2" cy="160.3" r="2.5" fill="none" stroke="#b0b0b0" stroke-width="0.65"/>
<circle cx="267.3" cy="189.2" r="2.5" fill="none" stroke="#b0b0b0" stroke-width="0.65"/>
<circle cx="240.9" cy="152.1" r="2.5" fill="none" stroke="#b0b0b0" stroke-width="0.65"/>
<circle cx="312.9" cy="181.7" r="2.5" fill="none" stroke="#b0b0b0" stroke-width="0.65"/>
<circle cx="249.8" cy="157.6" r="2.5" fill="none" stroke="#b0b0b0" stroke-width="0.65"/>
<circle cx="289.2" cy="168.8" r="2.5" fill="none" stroke="#b0b0b0" stroke-width="0.65"/>
<circle cx="309.2" cy="182.9" r="2.5" fill="none" stroke="#b0b0b0" stroke-width="0.65"/>
<circle cx="223.7" cy="153.3" r="2.5" fill="none" stroke="#b0b0b0" stroke-width="0.65"/>
<circle cx="197.0" cy="183.1" r="2.5" fill="none" stroke="#b0b0b0" stroke-width="0.65"/>
<circle cx="282.2" cy="186.4" r="2.5" fill="none" stroke="#b0b0b0" stroke-width="0.65"/>
<circle cx="270.9" cy="192.6" r="2.5" fill="none" stroke="#b0b0b0" stroke-width="0.65"/>
<circle cx="189.5" cy="171.3" r="2.5" fill="none" stroke="#b0b0b0" stroke-width="0.65"/>
<circle cx="242.8" cy="152.5" r="2.5" fill="none" stroke="#b0b0b0" stroke-width="0.65"/>
<circle cx="230.9" cy="148.8" r="2.5" fill="none" stroke="#b0b0b0" stroke-width="0.65"/>
<circle cx="223.1" cy="142.4" r="2.5" fill="none" stroke="#b0b0b0" stroke-width="0.65"/>
<circle cx="198.1" cy="181.9" r="2.5" fill="none" stroke="#b0b0b0" stroke-width="0.65"/>
<circle cx="194.5" cy="191.5" r="2.5" fill="none" stroke="#b0b0b0" stroke-width="0.65"/>
<circle cx="204.8" cy="171.7" r="2.5" fill="none" stroke="#b0b0b0" stroke-width="0.65"/>
<circle cx="316.8" cy="162.7" r="2.5" fill="none" stroke="#b0b0b0" stroke-width="0.65"/>
<circle cx="317.2" cy="174.0" r="2.5" fill="none" stroke="#b0b0b0" stroke-width="0.65"/>
<circle cx="205.9" cy="165.2" r="2.5" fill="none" stroke="#b0b0b0" stroke-width="0.65"/>
<circle cx="226.4" cy="143.5" r="2.5" fill="none" stroke="#b0b0b0" stroke-width="0.65"/>
<circle cx="257.7" cy="174.1" r="2.5" fill="none" stroke="#b0b0b0" stroke-width="0.65"/>
<circle cx="232.9" cy="152.2" r="2.5" fill="none" stroke="#b0b0b0" stroke-width="0.65"/>
<circle cx="247.0" cy="157.8" r="2.5" fill="none" stroke="#b0b0b0" stroke-width="0.65"/>
<circle cx="304.6" cy="176.9" r="2.5" fill="none" stroke="#b0b0b0" stroke-width="0.65"/>
<circle cx="217.0" cy="150.9" r="2.5" fill="none" stroke="#b0b0b0" stroke-width="0.65"/>
<circle cx="293.7" cy="185.0" r="2.5" fill="none" stroke="#b0b0b0" stroke-width="0.65"/>
<circle cx="256.2" cy="171.1" r="2.5" fill="none" stroke="#b0b0b0" stroke-width="0.65"/>
<circle cx="256.9" cy="172.5" r="2.5" fill="none" stroke="#b0b0b0" stroke-width="0.65"/>
<circle cx="211.7" cy="161.4" r="2.5" fill="none" stroke="#b0b0b0" stroke-width="0.65"/>
<circle cx="288.7" cy="169.9" r="2.5" fill="none" stroke="#b0b0b0" stroke-width="0.65"/>
<circle cx="290.8" cy="187.3" r="2.5" fill="none" stroke="#b0b0b0" stroke-width="0.65"/>
<circle cx="317.2" cy="173.7" r="2.5" fill="none" stroke="#b0b0b0" stroke-width="0.65"/>
<circle cx="185.8" cy="157.4" r="2.5" fill="none" stroke="#b0b0b0" stroke-width="0.65"/>
<circle cx="242.8" cy="155.7" r="2.5" fill="none" stroke="#b0b0b0" stroke-width="0.65"/>
<circle cx="258.3" cy="174.6" r="2.5" fill="none" stroke="#b0b0b0" stroke-width="0.65"/>
<circle cx="196.8" cy="183.0" r="2.5" fill="none" stroke="#b0b0b0" stroke-width="0.65"/>
<circle cx="293.1" cy="186.4" r="2.5" fill="none" stroke="#b0b0b0" stroke-width="0.65"/>
<circle cx="240.9" cy="154.6" r="2.5" fill="none" stroke="#b0b0b0" stroke-width="0.65"/>
<circle cx="242.4" cy="157.6" r="2.5" fill="none" stroke="#b0b0b0" stroke-width="0.65"/>
<circle cx="269.3" cy="178.8" r="2.5" fill="none" stroke="#b0b0b0" stroke-width="0.65"/>
<circle cx="294.0" cy="171.0" r="2.5" fill="none" stroke="#b0b0b0" stroke-width="0.65"/>
<circle cx="217.6" cy="159.8" r="2.5" fill="none" stroke="#b0b0b0" stroke-width="0.65"/>
<circle cx="291.4" cy="190.8" r="2.5" fill="none" stroke="#b0b0b0" stroke-width="0.65"/>
<circle cx="253.2" cy="170.9" r="2.5" fill="none" stroke="#b0b0b0" stroke-width="0.65"/>
<circle cx="222.0" cy="145.6" r="2.5" fill="none" stroke="#b0b0b0" stroke-width="0.65"/>
<circle cx="206.9" cy="172.5" r="2.5" fill="none" stroke="#b0b0b0" stroke-width="0.65"/>
<circle cx="306.0" cy="175.4" r="2.5" fill="none" stroke="#b0b0b0" stroke-width="0.65"/>
<circle cx="307.2" cy="166.3" r="2.5" fill="none" stroke="#b0b0b0" stroke-width="0.65"/>
<circle cx="310.3" cy="174.0" r="2.5" fill="none" stroke="#b0b0b0" stroke-width="0.65"/>
<circle cx="294.7" cy="176.7" r="2.5" fill="none" stroke="#b0b0b0" stroke-width="0.65"/>
<circle cx="254.5" cy="165.9" r="2.5" fill="none" stroke="#b0b0b0" stroke-width="0.65"/>
<circle cx="207.2" cy="168.4" r="2.5" fill="none" stroke="#b0b0b0" stroke-width="0.65"/>
<circle cx="318.9" cy="177.3" r="2.5" fill="none" stroke="#b0b0b0" stroke-width="0.65"/>
<circle cx="258.4" cy="169.1" r="2.5" fill="none" stroke="#b0b0b0" stroke-width="0.65"/>
<circle cx="245.9" cy="162.3" r="2.5" fill="none" stroke="#b0b0b0" stroke-width="0.65"/>
<circle cx="293.2" cy="169.0" r="2.5" fill="none" stroke="#b0b0b0" stroke-width="0.65"/>
<circle cx="205.1" cy="174.0" r="2.5" fill="none" stroke="#b0b0b0" stroke-width="0.65"/>
<circle cx="226.8" cy="144.2" r="2.5" fill="none" stroke="#b0b0b0" stroke-width="0.65"/>
<circle cx="299.7" cy="177.4" r="2.5" fill="none" stroke="#b0b0b0" stroke-width="0.65"/>
<circle cx="296.6" cy="186.9" r="2.5" fill="none" stroke="#b0b0b0" stroke-width="0.65"/>
<circle cx="188.2" cy="163.8" r="2.5" fill="none" stroke="#b0b0b0" stroke-width="0.65"/>
<circle cx="262.1" cy="171.3" r="2.5" fill="none" stroke="#b0b0b0" stroke-width="0.65"/>
<circle cx="222.1" cy="149.3" r="2.5" fill="none" stroke="#b0b0b0" stroke-width="0.65"/>
<circle cx="280.5" cy="191.1" r="2.5" fill="none" stroke="#b0b0b0" stroke-width="0.65"/>
<circle cx="274.9" cy="186.8" r="2.5" fill="none" stroke="#b0b0b0" stroke-width="0.65"/>
<circle cx="234.5" cy="139.6" r="2.5" fill="none" stroke="#b0b0b0" stroke-width="0.65"/>
<circle cx="314.6" cy="169.9" r="2.5" fill="none" stroke="#b0b0b0" stroke-width="0.65"/>
<circle cx="271.5" cy="190.7" r="2.5" fill="none" stroke="#b0b0b0" stroke-width="0.65"/>
<circle cx="208.6" cy="173.5" r="2.5" fill="none" stroke="#b0b0b0" stroke-width="0.65"/>
<circle cx="236.1" cy="153.1" r="2.5" fill="none" stroke="#b0b0b0" stroke-width="0.65"/>
<circle cx="220.8" cy="148.0" r="2.5" fill="none" stroke="#b0b0b0" stroke-width="0.65"/>
<circle cx="313.2" cy="175.5" r="2.5" fill="none" stroke="#b0b0b0" stroke-width="0.65"/>
<circle cx="237.4" cy="150.3" r="2.5" fill="none" stroke="#b0b0b0" stroke-width="0.65"/>
<circle cx="222.3" cy="153.5" r="2.5" fill="none" stroke="#b0b0b0" stroke-width="0.65"/>
<circle cx="317.3" cy="173.3" r="2.5" fill="none" stroke="#b0b0b0" stroke-width="0.65"/>
<circle cx="194.8" cy="185.4" r="2.5" fill="none" stroke="#b0b0b0" stroke-width="0.65"/>
<circle cx="194.8" cy="189.4" r="2.5" fill="none" stroke="#b0b0b0" stroke-width="0.65"/>
<circle cx="255.6" cy="169.8" r="2.5" fill="none" stroke="#b0b0b0" stroke-width="0.65"/>
<circle cx="269.8" cy="173.9" r="2.5" fill="none" stroke="#b0b0b0" stroke-width="0.65"/>
<circle cx="295.2" cy="185.4" r="2.5" fill="none" stroke="#b0b0b0" stroke-width="0.65"/>
<circle cx="314.7" cy="171.0" r="2.5" fill="none" stroke="#b0b0b0" stroke-width="0.65"/>
<circle cx="193.4" cy="182.3" r="2.5" fill="none" stroke="#b0b0b0" stroke-width="0.65"/>
<circle cx="220.4" cy="157.8" r="2.5" fill="none" stroke="#b0b0b0" stroke-width="0.65"/>
<circle cx="258.3" cy="176.9" r="2.5" fill="none" stroke="#b0b0b0" stroke-width="0.65"/>
<circle cx="314.2" cy="172.1" r="2.5" fill="none" stroke="#b0b0b0" stroke-width="0.65"/>
<circle cx="203.6" cy="176.6" r="2.5" fill="none" stroke="#b0b0b0" stroke-width="0.65"/>
<circle cx="319.0" cy="168.6" r="2.5" fill="none" stroke="#b0b0b0" stroke-width="0.65"/>
<circle cx="275.7" cy="186.5" r="2.5" fill="none" stroke="#b0b0b0" stroke-width="0.65"/>
<circle cx="191.4" cy="174.9" r="2.5" fill="none" stroke="#b0b0b0" stroke-width="0.65"/>
<circle cx="287.3" cy="187.7" r="2.5" fill="none" stroke="#b0b0b0" stroke-width="0.65"/>
<circle cx="295.9" cy="183.7" r="2.5" fill="none" stroke="#b0b0b0" stroke-width="0.65"/>
<circle cx="303.0" cy="189.2" r="2.5" fill="none" stroke="#b0b0b0" stroke-width="0.65"/>
<circle cx="256.7" cy="175.5" r="2.5" fill="none" stroke="#b0b0b0" stroke-width="0.65"/>
<circle cx="236.0" cy="154.8" r="2.5" fill="none" stroke="#b0b0b0" stroke-width="0.65"/>
<circle cx="318.3" cy="173.5" r="2.5" fill="none" stroke="#b0b0b0" stroke-width="0.65"/>
<circle cx="222.2" cy="152.9" r="2.5" fill="none" stroke="#b0b0b0" stroke-width="0.65"/>
<circle cx="201.3" cy="180.7" r="2.5" fill="none" stroke="#b0b0b0" stroke-width="0.65"/>
<circle cx="231.9" cy="151.1" r="2.5" fill="none" stroke="#b0b0b0" stroke-width="0.65"/>
<circle cx="210.1" cy="161.0" r="2.5" fill="none" stroke="#b0b0b0" stroke-width="0.65"/>
<circle cx="311.7" cy="186.3" r="2.5" fill="none" stroke="#b0b0b0" stroke-width="0.65"/>
<circle cx="217.4" cy="154.1" r="2.5" fill="none" stroke="#b0b0b0" stroke-width="0.65"/>
<circle cx="232.2" cy="155.0" r="2.5" fill="none" stroke="#b0b0b0" stroke-width="0.65"/>
<circle cx="279.7" cy="186.9" r="2.5" fill="none" stroke="#b0b0b0" stroke-width="0.65"/>
<circle cx="226.6" cy="153.9" r="2.5" fill="none" stroke="#b0b0b0" stroke-width="0.65"/>
<circle cx="285.8" cy="187.6" r="2.5" fill="none" stroke="#b0b0b0" stroke-width="0.65"/>
<circle cx="290.3" cy="178.6" r="2.5" fill="none" stroke="#b0b0b0" stroke-width="0.65"/>
<circle cx="257.2" cy="169.5" r="2.5" fill="none" stroke="#b0b0b0" stroke-width="0.65"/>
<circle cx="244.2" cy="148.7" r="2.5" fill="none" stroke="#b0b0b0" stroke-width="0.65"/>
<circle cx="211.3" cy="158.7" r="2.5" fill="none" stroke="#b0b0b0" stroke-width="0.65"/>
<circle cx="264.8" cy="190.2" r="2.5" fill="none" stroke="#b0b0b0" stroke-width="0.65"/>
<circle cx="208.4" cy="160.4" r="2.5" fill="none" stroke="#b0b0b0" stroke-width="0.65"/>
<circle cx="315.0" cy="172.5" r="2.5" fill="none" stroke="#b0b0b0" stroke-width="0.65"/>
<circle cx="220.2" cy="149.7" r="2.5" fill="none" stroke="#b0b0b0" stroke-width="0.65"/>
<circle cx="211.5" cy="172.8" r="2.5" fill="none" stroke="#b0b0b0" stroke-width="0.65"/>
<circle cx="239.7" cy="158.1" r="2.5" fill="none" stroke="#b0b0b0" stroke-width="0.65"/>
<circle cx="302.7" cy="177.1" r="2.5" fill="none" stroke="#b0b0b0" stroke-width="0.65"/>
<circle cx="302.3" cy="177.3" r="2.5" fill="none" stroke="#b0b0b0" stroke-width="0.65"/>
<circle cx="292.0" cy="191.7" r="2.5" fill="none" stroke="#b0b0b0" stroke-width="0.65"/>
<circle cx="255.4" cy="169.7" r="2.5" fill="none" stroke="#b0b0b0" stroke-width="0.65"/>
<circle cx="288.2" cy="191.5" r="2.5" fill="none" stroke="#b0b0b0" stroke-width="0.65"/>
<circle cx="244.0" cy="161.2" r="2.5" fill="none" stroke="#b0b0b0" stroke-width="0.65"/>
<circle cx="203.9" cy="169.5" r="2.5" fill="none" stroke="#b0b0b0" stroke-width="0.65"/>
<circle cx="252.9" cy="164.8" r="2.5" fill="none" stroke="#b0b0b0" stroke-width="0.65"/>
<circle cx="234.8" cy="148.4" r="2.5" fill="none" stroke="#b0b0b0" stroke-width="0.65"/>
<circle cx="265.7" cy="186.1" r="2.5" fill="none" stroke="#b0b0b0" stroke-width="0.65"/>
<circle cx="317.3" cy="179.8" r="2.5" fill="none" stroke="#b0b0b0" stroke-width="0.65"/>
<circle cx="297.6" cy="175.2" r="2.5" fill="none" stroke="#b0b0b0" stroke-width="0.65"/>
<circle cx="223.0" cy="154.6" r="2.5" fill="none" stroke="#b0b0b0" stroke-width="0.65"/>
<circle cx="200.8" cy="178.6" r="2.5" fill="none" stroke="#b0b0b0" stroke-width="0.65"/>
<circle cx="252.1" cy="166.2" r="2.5" fill="none" stroke="#b0b0b0" stroke-width="0.65"/>
<circle cx="271.8" cy="181.0" r="2.5" fill="none" stroke="#b0b0b0" stroke-width="0.65"/>
<circle cx="222.4" cy="156.3" r="2.5" fill="none" stroke="#b0b0b0" stroke-width="0.65"/>
<circle cx="249.0" cy="162.3" r="2.5" fill="none" stroke="#b0b0b0" stroke-width="0.65"/>
<circle cx="256.3" cy="181.9" r="2.5" fill="none" stroke="#b0b0b0" stroke-width="0.65"/>
<circle cx="255.9" cy="159.7" r="2.5" fill="none" stroke="#b0b0b0" stroke-width="0.65"/>
<circle cx="244.1" cy="156.4" r="2.5" fill="none" stroke="#b0b0b0" stroke-width="0.65"/>
<circle cx="241.9" cy="154.3" r="2.5" fill="none" stroke="#b0b0b0" stroke-width="0.65"/>
<circle cx="299.3" cy="178.8" r="2.5" fill="none" stroke="#b0b0b0" stroke-width="0.65"/>
<circle cx="300.2" cy="176.1" r="2.5" fill="none" stroke="#b0b0b0" stroke-width="0.65"/>
<circle cx="236.2" cy="155.8" r="2.5" fill="none" stroke="#b0b0b0" stroke-width="0.65"/>
<circle cx="213.2" cy="157.9" r="2.5" fill="none" stroke="#b0b0b0" stroke-width="0.65"/>
<circle cx="258.6" cy="177.8" r="2.5" fill="none" stroke="#b0b0b0" stroke-width="0.65"/>
<circle cx="302.0" cy="173.1" r="2.5" fill="none" stroke="#b0b0b0" stroke-width="0.65"/>
<circle cx="280.7" cy="185.6" r="2.5" fill="none" stroke="#b0b0b0" stroke-width="0.65"/>
<circle cx="252.7" cy="170.6" r="2.5" fill="none" stroke="#b0b0b0" stroke-width="0.65"/>
<path d="M78.10,47.10 L78.60,46.44 L79.10,45.78 L79.60,45.12 L80.10,44.47 L80.60,43.82 L81.10,43.17 L81.60,42.53 L82.10,41.90 L82.60,41.26 L83.10,40.64 L83.60,40.02 L84.10,39.40 L84.60,38.80 L85.10,38.20 L85.60,37.60 L86.10,37.02 L86.60,36.44 L87.10,35.87 L87.60,35.31 L88.10,34.75 L88.60,34.21 L89.10,33.68 L89.60,33.15 L90.10,32.64 L90.60,32.13 L91.10,31.64 L91.60,31.16 L92.10,30.69 L92.60,30.23 L93.10,29.78 L93.60,29.35 L94.10,28.93 L94.60,28.52 L95.10,28.13 L95.60,27.75 L96.10,27.38 L96.60,27.03 L97.10,26.70 L97.60,26.37 L98.10,26.07 L98.60,25.78 L99.10,25.51 L99.60,25.25 L100.10,25.01 L100.60,24.79 L101.10,24.58 L101.60,24.39 L102.10,24.23 L102.60,24.07 L103.10,23.94 L103.60,23.82 L104.10,23.72 L104.60,23.63 L105.10,23.56 L105.60,23.51 L106.10,23.47 L106.60,23.44 L107.10,23.43 L107.60,23.42 L108.10,23.44 L108.60,23.46 L109.10,23.50 L109.60,23.54 L110.10,23.60 L110.60,23.67 L111.10,23.74 L111.60,23.83 L112.10,23.93 L112.60,24.03 L113.10,24.14 L113.60,24.26 L114.10,24.39 L114.60,24.53 L115.10,24.67 L115.60,24.81 L116.10,24.96 L116.60,25.12 L117.10,25.28 L117.60,25.45 L118.10,25.63 L118.60,25.80 L119.10,25.99 L119.60,26.18 L120.10,26.38 L120.60,26.58 L121.10,26.79 L121.60,27.01 L122.10,27.23 L122.60,27.46 L123.10,27.70 L123.60,27.94 L124.10,28.19 L124.60,28.45 L125.10,28.72 L125.60,28.99 L126.10,29.27 L126.60,29.56 L127.10,29.86 L127.60,30.16 L128.10,30.47 L128.60,30.79 L129.10,31.12 L129.60,31.46 L130.10,31.81 L130.60,32.16 L131.10,32.53 L131.60,32.90 L132.10,33.28 L132.60,33.68 L133.10,34.08 L133.60,34.49 L134.10,34.91 L134.60,35.34 L135.10,35.78 L135.60,36.23 L136.10,36.69 L136.60,37.16 L137.10,37.64 L137.60,38.13 L138.10,38.63 L138.60,39.14 L139.10,39.67 L139.60,40.20 L140.10,40.75 L140.60,41.30 L141.10,41.87 L141.60,42.45 L142.10,43.04 L142.60,43.65 L143.10,44.26 L143.60,44.89 L144.10,45.53 L144.60,46.18 L145.10,46.84 L145.60,47.52 L146.10,48.21 L146.60,48.91 L147.10,49.62 L147.60,50.35 L148.10,51.09 L148.60,51.85 L149.10,52.62 L149.60,53.40 L150.10,54.19 L150.60,55.00 L151.10,55.82 L151.60,56.66 L152.10,57.51 L152.60,58.37 L153.10,59.25 L153.60,60.15 L154.10,61.05 L154.60,61.98 L155.10,62.92 L155.60,63.87 L156.10,64.84 L156.60,65.83 L157.10,66.84 L157.60,67.86 L158.10,68.91 L158.60,69.97 L159.10,71.06 L159.60,72.17 L160.10,73.31 L160.60,74.47 L161.10,75.65 L161.60,76.86 L162.10,78.09 L162.60,79.34 L163.10,80.61 L163.60,81.89 L164.10,83.19 L164.60,84.50 L165.10,85.82 L165.60,87.14 L166.10,88.47 L166.60,89.81 L167.10,91.15 L167.60,92.51 L168.10,93.88 L168.60,95.26 L169.10,96.66 L169.60,98.08 L170.10,99.51 L170.60,100.97 L171.10,102.45 L171.60,103.95 L172.10,105.48 L172.60,107.03 L173.10,108.61 L173.60,110.21 L174.10,111.84 L174.60,113.50 L175.10,115.19 L175.60,116.90 L176.10,118.64 L176.60,120.41 L177.10,122.21 L177.60,124.04 L178.10,125.90 L178.60,127.79 L179.10,129.72 L179.60,131.67 L180.10,133.66 L180.60,135.68 L181.10,137.74 L181.60,139.82 L182.10,141.92 L182.60,144.03 L183.10,146.15 L183.60,148.28 L184.10,150.40 L184.60,152.50 L185.10,154.59 L185.60,156.66 L186.10,158.70 L186.60,160.70 L187.10,162.66 L187.60,164.57 L188.10,166.43 L188.60,168.23 L189.10,169.96 L189.60,171.61 L190.10,173.20 L190.60,174.70 L191.10,176.13 L191.60,177.47 L192.10,178.73 L192.60,179.91 L193.10,180.99 L193.60,181.99 L194.10,182.90 L194.60,183.71 L195.10,184.43 L195.60,185.05 L196.10,185.56 L196.60,185.98 L197.10,186.29 L197.60,186.50 L198.10,186.59 L198.60,186.58 L199.10,186.46 L199.60,186.24 L200.10,185.93 L200.60,185.53 L201.10,185.05 L201.60,184.50 L202.10,183.87 L202.60,183.18 L203.10,182.44 L203.60,181.65 L204.10,180.81 L204.60,179.94 L205.10,179.03 L205.60,178.10 L206.10,177.15 L206.60,176.19 L207.10,175.22 L207.60,174.25 L208.10,173.29 L208.60,172.34 L209.10,171.40 L209.60,170.48 L210.10,169.58 L210.60,168.69 L211.10,167.82 L211.60,166.97 L212.10,166.14 L212.60,165.33 L213.10,164.54 L213.60,163.77 L214.10,163.03 L214.60,162.31 L215.10,161.62 L215.60,160.95 L216.10,160.31 L216.60,159.69 L217.10,159.10 L217.60,158.52 L218.10,157.98 L218.60,157.45 L219.10,156.95 L219.60,156.47 L220.10,156.01 L220.60,155.58 L221.10,155.17 L221.60,154.77 L222.10,154.40 L222.60,154.06 L223.10,153.73 L223.60,153.42 L224.10,153.13 L224.60,152.87 L225.10,152.62 L225.60,152.39 L226.10,152.18 L226.60,151.99 L227.10,151.82 L227.60,151.67 L228.10,151.54 L228.60,151.42 L229.10,151.32 L229.60,151.24 L230.10,151.18 L230.60,151.13 L231.10,151.11 L231.60,151.10 L232.10,151.10 L232.60,151.12 L233.10,151.16 L233.60,151.22 L234.10,151.29 L234.60,151.37 L235.10,151.48 L235.60,151.59 L236.10,151.72 L236.60,151.87 L237.10,152.03 L237.60,152.21 L238.10,152.40 L238.60,152.61 L239.10,152.82 L239.60,153.06 L240.10,153.30 L240.60,153.56 L241.10,153.83 L241.60,154.12 L242.10,154.42 L242.60,154.73 L243.10,155.05 L243.60,155.38 L244.10,155.73 L244.60,156.09 L245.10,156.46 L245.60,156.84 L246.10,157.23 L246.60,157.63 L247.10,158.04 L247.60,158.47 L248.10,158.90 L248.60,159.34 L249.10,159.80 L249.60,160.26 L250.10,160.73 L250.60,161.22 L251.10,161.71 L251.60,162.21 L252.10,162.71 L252.60,163.23 L253.10,163.76 L253.60,164.29 L254.10,164.83 L254.60,165.37 L255.10,165.93 L255.60,166.48 L256.10,167.04 L256.60,167.61 L257.10,168.18 L257.60,168.75 L258.10,169.33 L258.60,169.90 L259.10,170.48 L259.60,171.05 L260.10,171.63 L260.60,172.20 L261.10,172.78 L261.60,173.35 L262.10,173.91 L262.60,174.48 L263.10,175.03 L263.60,175.59 L264.10,176.14 L264.60,176.68 L265.10,177.21 L265.60,177.74 L266.10,178.26 L266.60,178.77 L267.10,179.27 L267.60,179.76 L268.10,180.24 L268.60,180.71 L269.10,181.17 L269.60,181.61 L270.10,182.04 L270.60,182.46 L271.10,182.86 L271.60,183.25 L272.10,183.62 L272.60,183.97 L273.10,184.31 L273.60,184.63 L274.10,184.93 L274.60,185.21 L275.10,185.47 L275.60,185.71 L276.10,185.93 L276.60,186.13 L277.10,186.31 L277.60,186.47 L278.10,186.61 L278.60,186.73 L279.10,186.83 L279.60,186.92 L280.10,186.98 L280.60,187.03 L281.10,187.06 L281.60,187.08 L282.10,187.08 L282.60,187.06 L283.10,187.03 L283.60,186.98 L284.10,186.92 L284.60,186.85 L285.10,186.77 L285.60,186.67 L286.10,186.56 L286.60,186.43 L287.10,186.30 L287.60,186.16 L288.10,186.00 L288.60,185.84 L289.10,185.67 L289.60,185.48 L290.10,185.29 L290.60,185.10 L291.10,184.89 L291.60,184.68 L292.10,184.46 L292.60,184.23 L293.10,184.00 L293.60,183.77 L294.10,183.53 L294.60,183.28 L295.10,183.03 L295.60,182.78 L296.10,182.52 L296.60,182.26 L297.10,182.00 L297.60,181.74 L298.10,181.47 L298.60,181.21 L299.10,180.94 L299.60,180.67 L300.10,180.40 L300.60,180.14 L301.10,179.87 L301.60,179.60 L302.10,179.34 L302.60,179.08 L303.10,178.82 L303.60,178.56 L304.10,178.31 L304.60,178.06 L305.10,177.82 L305.60,177.58 L306.10,177.34 L306.60,177.11 L307.10,176.89 L307.60,176.67 L308.10,176.46 L308.60,176.25 L309.10,176.05 L309.60,175.86 L310.10,175.68 L310.60,175.51 L311.10,175.35 L311.60,175.19 L312.10,175.05 L312.60,174.91 L313.10,174.79 L313.60,174.68 L314.10,174.57 L314.60,174.48 L315.10,174.41 L315.60,174.34 L316.10,174.29 L316.60,174.25 L317.10,174.23 L317.60,174.22 L318.10,174.23 L318.60,174.25 L319.10,174.28" fill="none" stroke="#111" stroke-width="1.5"/>
<rect x="248.6" y="11.1" width="74.70000000000002" height="55.49999999999999" fill="#fff" stroke="#808080" stroke-width="0.9"/>
<line x1="261.1" y1="11.1" x2="261.1" y2="12.299999999999999" stroke="#999" stroke-width="0.6"/>
<line x1="273.5" y1="11.1" x2="273.5" y2="12.299999999999999" stroke="#999" stroke-width="0.6"/>
<line x1="285.9" y1="11.1" x2="285.9" y2="12.299999999999999" stroke="#999" stroke-width="0.6"/>
<line x1="298.4" y1="11.1" x2="298.4" y2="12.299999999999999" stroke="#999" stroke-width="0.6"/>
<line x1="310.9" y1="11.1" x2="310.9" y2="12.299999999999999" stroke="#999" stroke-width="0.6"/>
<rect x="250.84" y="66.05" width="3.51" height="0.25" fill="#3a5cc2" stroke="#2a2f48" stroke-width="0.65"/>
<rect x="254.35" y="66.05" width="3.51" height="0.25" fill="#3a5cc2" stroke="#2a2f48" stroke-width="0.65"/>
<rect x="257.87" y="64.88" width="3.51" height="1.42" fill="#3a5cc2" stroke="#2a2f48" stroke-width="0.65"/>
<rect x="261.38" y="63.13" width="3.51" height="3.17" fill="#3a5cc2" stroke="#2a2f48" stroke-width="0.65"/>
<rect x="264.89" y="60.94" width="3.51" height="5.36" fill="#3a5cc2" stroke="#2a2f48" stroke-width="0.65"/>
<rect x="268.40" y="57.58" width="3.51" height="8.72" fill="#3a5cc2" stroke="#2a2f48" stroke-width="0.65"/>
<rect x="271.92" y="50.28" width="3.51" height="16.02" fill="#3a5cc2" stroke="#2a2f48" stroke-width="0.65"/>
<rect x="275.43" y="29.54" width="3.51" height="36.76" fill="#3a5cc2" stroke="#2a2f48" stroke-width="0.65"/>
<rect x="278.94" y="32.02" width="3.51" height="34.28" fill="#3a5cc2" stroke="#2a2f48" stroke-width="0.65"/>
<rect x="282.45" y="35.23" width="3.51" height="31.07" fill="#3a5cc2" stroke="#2a2f48" stroke-width="0.65"/>
<rect x="285.97" y="38.15" width="3.51" height="28.15" fill="#3a5cc2" stroke="#2a2f48" stroke-width="0.65"/>
<rect x="289.48" y="46.19" width="3.51" height="20.11" fill="#3a5cc2" stroke="#2a2f48" stroke-width="0.65"/>
<rect x="292.99" y="49.25" width="3.51" height="17.05" fill="#3a5cc2" stroke="#2a2f48" stroke-width="0.65"/>
<rect x="296.50" y="59.04" width="3.51" height="7.26" fill="#3a5cc2" stroke="#2a2f48" stroke-width="0.65"/>
<rect x="303.53" y="64.15" width="3.51" height="2.15" fill="#3a5cc2" stroke="#2a2f48" stroke-width="0.65"/>
<rect x="307.04" y="66.05" width="3.51" height="0.25" fill="#3a5cc2" stroke="#2a2f48" stroke-width="0.65"/>
<rect x="317.58" y="65.32" width="3.51" height="0.98" fill="#3a5cc2" stroke="#2a2f48" stroke-width="0.65"/>
<text x="280.7" y="22.6" font-size="11" text-anchor="middle" fill="#1a1a1a">A</text>
<rect x="247.6" y="72.0" width="76.79999999999998" height="71.19999999999999" fill="#fff" stroke="#808080" stroke-width="0.9"/>
<line x1="260.4" y1="72.0" x2="260.4" y2="73.2" stroke="#999" stroke-width="0.6"/>
<line x1="273.2" y1="72.0" x2="273.2" y2="73.2" stroke="#999" stroke-width="0.6"/>
<line x1="286.0" y1="72.0" x2="286.0" y2="73.2" stroke="#999" stroke-width="0.6"/>
<line x1="298.8" y1="72.0" x2="298.8" y2="73.2" stroke="#999" stroke-width="0.6"/>
<line x1="311.6" y1="72.0" x2="311.6" y2="73.2" stroke="#999" stroke-width="0.6"/>
<rect x="249.88" y="141.42" width="3.56" height="1.48" fill="#3a5cc2" stroke="#2a2f48" stroke-width="0.65"/>
<rect x="257.00" y="140.55" width="3.56" height="2.35" fill="#3a5cc2" stroke="#2a2f48" stroke-width="0.65"/>
<rect x="260.56" y="141.76" width="3.56" height="1.14" fill="#3a5cc2" stroke="#2a2f48" stroke-width="0.65"/>
<rect x="264.13" y="139.15" width="3.56" height="3.75" fill="#3a5cc2" stroke="#2a2f48" stroke-width="0.65"/>
<rect x="267.69" y="136.71" width="3.56" height="6.19" fill="#3a5cc2" stroke="#2a2f48" stroke-width="0.65"/>
<rect x="271.25" y="135.84" width="3.56" height="7.06" fill="#3a5cc2" stroke="#2a2f48" stroke-width="0.65"/>
<rect x="274.81" y="129.75" width="3.56" height="13.15" fill="#3a5cc2" stroke="#2a2f48" stroke-width="0.65"/>
<rect x="278.37" y="119.29" width="3.56" height="23.61" fill="#3a5cc2" stroke="#2a2f48" stroke-width="0.65"/>
<rect x="281.94" y="106.06" width="3.56" height="36.84" fill="#3a5cc2" stroke="#2a2f48" stroke-width="0.65"/>
<rect x="285.50" y="99.09" width="3.56" height="43.81" fill="#3a5cc2" stroke="#2a2f48" stroke-width="0.65"/>
<rect x="289.06" y="109.19" width="3.56" height="33.71" fill="#3a5cc2" stroke="#2a2f48" stroke-width="0.65"/>
<rect x="292.62" y="102.75" width="3.56" height="40.15" fill="#3a5cc2" stroke="#2a2f48" stroke-width="0.65"/>
<rect x="296.18" y="116.68" width="3.56" height="26.22" fill="#3a5cc2" stroke="#2a2f48" stroke-width="0.65"/>
<rect x="299.75" y="121.38" width="3.56" height="21.52" fill="#3a5cc2" stroke="#2a2f48" stroke-width="0.65"/>
<rect x="303.31" y="132.36" width="3.56" height="10.54" fill="#3a5cc2" stroke="#2a2f48" stroke-width="0.65"/>
<rect x="306.87" y="139.33" width="3.56" height="3.57" fill="#3a5cc2" stroke="#2a2f48" stroke-width="0.65"/>
<rect x="310.43" y="137.06" width="3.56" height="5.84" fill="#3a5cc2" stroke="#2a2f48" stroke-width="0.65"/>
<rect x="317.56" y="141.42" width="3.56" height="1.48" fill="#3a5cc2" stroke="#2a2f48" stroke-width="0.65"/>
<text x="260.3" y="84.9" font-size="11.5" fill="#1a1a1a" style="stroke-width:0.7px">z</text>
<text x="265.6" y="88.3" font-size="8.3" fill="#1a1a1a" class="sm">L18W-PGLa</text>
<circle cx="80.0" cy="235.4" r="2.25" fill="none" stroke="#5a5a5a" stroke-width="0.7"/>
<circle cx="83.0" cy="240.5" r="2.25" fill="none" stroke="#5a5a5a" stroke-width="0.7"/>
<circle cx="86.4" cy="244.1" r="2.25" fill="none" stroke="#5a5a5a" stroke-width="0.7"/>
<circle cx="90.0" cy="249.1" r="2.25" fill="none" stroke="#5a5a5a" stroke-width="0.7"/>
<circle cx="92.6" cy="252.9" r="2.25" fill="none" stroke="#5a5a5a" stroke-width="0.7"/>
<circle cx="96.4" cy="258.0" r="2.25" fill="none" stroke="#5a5a5a" stroke-width="0.7"/>
<circle cx="99.8" cy="262.7" r="2.25" fill="none" stroke="#5a5a5a" stroke-width="0.7"/>
<circle cx="102.7" cy="266.6" r="2.25" fill="none" stroke="#5a5a5a" stroke-width="0.7"/>
<circle cx="106.0" cy="272.0" r="2.25" fill="none" stroke="#5a5a5a" stroke-width="0.7"/>
<circle cx="109.0" cy="275.4" r="2.25" fill="none" stroke="#5a5a5a" stroke-width="0.7"/>
<circle cx="112.6" cy="280.4" r="2.25" fill="none" stroke="#5a5a5a" stroke-width="0.7"/>
<circle cx="115.8" cy="285.1" r="2.25" fill="none" stroke="#5a5a5a" stroke-width="0.7"/>
<circle cx="119.3" cy="290.5" r="2.25" fill="none" stroke="#5a5a5a" stroke-width="0.7"/>
<circle cx="122.4" cy="296.1" r="2.25" fill="none" stroke="#5a5a5a" stroke-width="0.7"/>
<circle cx="125.9" cy="300.6" r="2.25" fill="none" stroke="#5a5a5a" stroke-width="0.7"/>
<circle cx="128.9" cy="306.2" r="2.25" fill="none" stroke="#5a5a5a" stroke-width="0.7"/>
<circle cx="132.2" cy="311.7" r="2.25" fill="none" stroke="#5a5a5a" stroke-width="0.7"/>
<circle cx="135.5" cy="317.5" r="2.25" fill="none" stroke="#5a5a5a" stroke-width="0.7"/>
<circle cx="138.7" cy="324.7" r="2.25" fill="none" stroke="#5a5a5a" stroke-width="0.7"/>
<circle cx="141.6" cy="329.4" r="2.25" fill="none" stroke="#5a5a5a" stroke-width="0.7"/>
<circle cx="145.5" cy="333.9" r="2.25" fill="none" stroke="#5a5a5a" stroke-width="0.7"/>
<circle cx="148.6" cy="337.8" r="2.25" fill="none" stroke="#5a5a5a" stroke-width="0.7"/>
<circle cx="152.1" cy="340.0" r="2.25" fill="none" stroke="#5a5a5a" stroke-width="0.7"/>
<circle cx="155.4" cy="341.5" r="2.25" fill="none" stroke="#5a5a5a" stroke-width="0.7"/>
<circle cx="158.8" cy="343.3" r="2.25" fill="none" stroke="#5a5a5a" stroke-width="0.7"/>
<circle cx="162.2" cy="342.5" r="2.25" fill="none" stroke="#5a5a5a" stroke-width="0.7"/>
<circle cx="165.3" cy="342.5" r="2.25" fill="none" stroke="#5a5a5a" stroke-width="0.7"/>
<circle cx="168.7" cy="342.1" r="2.25" fill="none" stroke="#5a5a5a" stroke-width="0.7"/>
<circle cx="172.2" cy="341.7" r="2.25" fill="none" stroke="#5a5a5a" stroke-width="0.7"/>
<circle cx="175.0" cy="340.1" r="2.25" fill="none" stroke="#5a5a5a" stroke-width="0.7"/>
<circle cx="178.7" cy="340.1" r="2.25" fill="none" stroke="#5a5a5a" stroke-width="0.7"/>
<circle cx="181.7" cy="340.5" r="2.25" fill="none" stroke="#5a5a5a" stroke-width="0.7"/>
<circle cx="185.2" cy="339.6" r="2.25" fill="none" stroke="#5a5a5a" stroke-width="0.7"/>
<circle cx="188.4" cy="339.4" r="2.25" fill="none" stroke="#5a5a5a" stroke-width="0.7"/>
<circle cx="191.4" cy="339.4" r="2.25" fill="none" stroke="#5a5a5a" stroke-width="0.7"/>
<circle cx="194.8" cy="338.4" r="2.25" fill="none" stroke="#5a5a5a" stroke-width="0.7"/>
<circle cx="198.6" cy="340.0" r="2.25" fill="none" stroke="#5a5a5a" stroke-width="0.7"/>
<circle cx="201.7" cy="340.5" r="2.25" fill="none" stroke="#5a5a5a" stroke-width="0.7"/>
<circle cx="204.9" cy="340.5" r="2.25" fill="none" stroke="#5a5a5a" stroke-width="0.7"/>
<circle cx="208.2" cy="340.2" r="2.25" fill="none" stroke="#5a5a5a" stroke-width="0.7"/>
<circle cx="211.1" cy="342.0" r="2.25" fill="none" stroke="#5a5a5a" stroke-width="0.7"/>
<circle cx="215.1" cy="339.9" r="2.25" fill="none" stroke="#5a5a5a" stroke-width="0.7"/>
<circle cx="218.0" cy="341.2" r="2.25" fill="none" stroke="#5a5a5a" stroke-width="0.7"/>
<circle cx="220.7" cy="342.3" r="2.25" fill="none" stroke="#5a5a5a" stroke-width="0.7"/>
<circle cx="224.8" cy="344.3" r="2.25" fill="none" stroke="#5a5a5a" stroke-width="0.7"/>
<circle cx="227.8" cy="342.4" r="2.25" fill="none" stroke="#5a5a5a" stroke-width="0.7"/>
<circle cx="230.5" cy="342.7" r="2.25" fill="none" stroke="#5a5a5a" stroke-width="0.7"/>
<circle cx="234.2" cy="342.8" r="2.25" fill="none" stroke="#5a5a5a" stroke-width="0.7"/>
<circle cx="237.6" cy="344.4" r="2.25" fill="none" stroke="#5a5a5a" stroke-width="0.7"/>
<circle cx="241.0" cy="343.6" r="2.25" fill="none" stroke="#5a5a5a" stroke-width="0.7"/>
<circle cx="244.1" cy="342.9" r="2.25" fill="none" stroke="#5a5a5a" stroke-width="0.7"/>
<circle cx="247.1" cy="345.3" r="2.25" fill="none" stroke="#5a5a5a" stroke-width="0.7"/>
<circle cx="250.1" cy="342.2" r="2.25" fill="none" stroke="#5a5a5a" stroke-width="0.7"/>
<circle cx="253.8" cy="344.7" r="2.25" fill="none" stroke="#5a5a5a" stroke-width="0.7"/>
<circle cx="256.7" cy="346.4" r="2.25" fill="none" stroke="#5a5a5a" stroke-width="0.7"/>
<circle cx="260.4" cy="344.8" r="2.25" fill="none" stroke="#5a5a5a" stroke-width="0.7"/>
<circle cx="262.8" cy="344.8" r="2.25" fill="none" stroke="#5a5a5a" stroke-width="0.7"/>
<circle cx="267.5" cy="346.1" r="2.25" fill="none" stroke="#5a5a5a" stroke-width="0.7"/>
<circle cx="269.8" cy="346.5" r="2.25" fill="none" stroke="#5a5a5a" stroke-width="0.7"/>
<circle cx="273.4" cy="344.9" r="2.25" fill="none" stroke="#5a5a5a" stroke-width="0.7"/>
<circle cx="276.7" cy="348.6" r="2.25" fill="none" stroke="#5a5a5a" stroke-width="0.7"/>
<circle cx="280.3" cy="345.8" r="2.25" fill="none" stroke="#5a5a5a" stroke-width="0.7"/>
<circle cx="283.7" cy="345.7" r="2.25" fill="none" stroke="#5a5a5a" stroke-width="0.7"/>
<circle cx="286.2" cy="345.1" r="2.25" fill="none" stroke="#5a5a5a" stroke-width="0.7"/>
<circle cx="290.1" cy="347.1" r="2.25" fill="none" stroke="#5a5a5a" stroke-width="0.7"/>
<circle cx="293.0" cy="347.2" r="2.25" fill="none" stroke="#5a5a5a" stroke-width="0.7"/>
<circle cx="79.7" cy="275.6" r="2.25" fill="none" stroke="#5a5a5a" stroke-width="0.7"/>
<circle cx="83.0" cy="280.4" r="2.25" fill="none" stroke="#5a5a5a" stroke-width="0.7"/>
<circle cx="86.3" cy="285.2" r="2.25" fill="none" stroke="#5a5a5a" stroke-width="0.7"/>
<circle cx="89.7" cy="289.7" r="2.25" fill="none" stroke="#5a5a5a" stroke-width="0.7"/>
<circle cx="93.0" cy="293.7" r="2.25" fill="none" stroke="#5a5a5a" stroke-width="0.7"/>
<circle cx="96.5" cy="298.3" r="2.25" fill="none" stroke="#5a5a5a" stroke-width="0.7"/>
<circle cx="99.4" cy="302.3" r="2.25" fill="none" stroke="#5a5a5a" stroke-width="0.7"/>
<circle cx="103.3" cy="306.2" r="2.25" fill="none" stroke="#5a5a5a" stroke-width="0.7"/>
<circle cx="106.0" cy="311.2" r="2.25" fill="none" stroke="#5a5a5a" stroke-width="0.7"/>
<circle cx="108.9" cy="314.6" r="2.25" fill="none" stroke="#5a5a5a" stroke-width="0.7"/>
<circle cx="112.6" cy="318.8" r="2.25" fill="none" stroke="#5a5a5a" stroke-width="0.7"/>
<circle cx="115.9" cy="323.4" r="2.25" fill="none" stroke="#5a5a5a" stroke-width="0.7"/>
<circle cx="118.4" cy="326.2" r="2.25" fill="none" stroke="#5a5a5a" stroke-width="0.7"/>
<circle cx="122.4" cy="330.8" r="2.25" fill="none" stroke="#5a5a5a" stroke-width="0.7"/>
<circle cx="125.7" cy="333.5" r="2.25" fill="none" stroke="#5a5a5a" stroke-width="0.7"/>
<circle cx="130.0" cy="337.4" r="2.25" fill="none" stroke="#5a5a5a" stroke-width="0.7"/>
<circle cx="132.4" cy="342.2" r="2.25" fill="none" stroke="#5a5a5a" stroke-width="0.7"/>
<circle cx="134.8" cy="345.5" r="2.25" fill="none" stroke="#5a5a5a" stroke-width="0.7"/>
<circle cx="138.3" cy="349.3" r="2.25" fill="none" stroke="#5a5a5a" stroke-width="0.7"/>
<circle cx="141.3" cy="352.9" r="2.25" fill="none" stroke="#5a5a5a" stroke-width="0.7"/>
<circle cx="145.6" cy="354.8" r="2.25" fill="none" stroke="#5a5a5a" stroke-width="0.7"/>
<circle cx="148.2" cy="357.6" r="2.25" fill="none" stroke="#5a5a5a" stroke-width="0.7"/>
<circle cx="152.7" cy="356.7" r="2.25" fill="none" stroke="#5a5a5a" stroke-width="0.7"/>
<circle cx="155.4" cy="359.5" r="2.25" fill="none" stroke="#5a5a5a" stroke-width="0.7"/>
<circle cx="158.7" cy="358.8" r="2.25" fill="none" stroke="#5a5a5a" stroke-width="0.7"/>
<circle cx="162.0" cy="358.8" r="2.25" fill="none" stroke="#5a5a5a" stroke-width="0.7"/>
<circle cx="165.7" cy="361.1" r="2.25" fill="none" stroke="#5a5a5a" stroke-width="0.7"/>
<circle cx="168.7" cy="361.9" r="2.25" fill="none" stroke="#5a5a5a" stroke-width="0.7"/>
<circle cx="171.7" cy="359.9" r="2.25" fill="none" stroke="#5a5a5a" stroke-width="0.7"/>
<circle cx="174.9" cy="359.7" r="2.25" fill="none" stroke="#5a5a5a" stroke-width="0.7"/>
<circle cx="178.7" cy="358.0" r="2.25" fill="none" stroke="#5a5a5a" stroke-width="0.7"/>
<circle cx="182.0" cy="360.7" r="2.25" fill="none" stroke="#5a5a5a" stroke-width="0.7"/>
<circle cx="185.1" cy="360.5" r="2.25" fill="none" stroke="#5a5a5a" stroke-width="0.7"/>
<circle cx="188.4" cy="358.6" r="2.25" fill="none" stroke="#5a5a5a" stroke-width="0.7"/>
<circle cx="191.3" cy="358.8" r="2.25" fill="none" stroke="#5a5a5a" stroke-width="0.7"/>
<circle cx="194.4" cy="357.5" r="2.25" fill="none" stroke="#5a5a5a" stroke-width="0.7"/>
<circle cx="198.2" cy="359.1" r="2.25" fill="none" stroke="#5a5a5a" stroke-width="0.7"/>
<circle cx="201.8" cy="358.6" r="2.25" fill="none" stroke="#5a5a5a" stroke-width="0.7"/>
<circle cx="204.8" cy="359.3" r="2.25" fill="none" stroke="#5a5a5a" stroke-width="0.7"/>
<circle cx="207.7" cy="360.4" r="2.25" fill="none" stroke="#5a5a5a" stroke-width="0.7"/>
<circle cx="211.4" cy="357.1" r="2.25" fill="none" stroke="#5a5a5a" stroke-width="0.7"/>
<circle cx="214.9" cy="358.6" r="2.25" fill="none" stroke="#5a5a5a" stroke-width="0.7"/>
<circle cx="218.0" cy="359.9" r="2.25" fill="none" stroke="#5a5a5a" stroke-width="0.7"/>
<circle cx="220.4" cy="360.5" r="2.25" fill="none" stroke="#5a5a5a" stroke-width="0.7"/>
<circle cx="224.1" cy="360.7" r="2.25" fill="none" stroke="#5a5a5a" stroke-width="0.7"/>
<circle cx="227.4" cy="359.2" r="2.25" fill="none" stroke="#5a5a5a" stroke-width="0.7"/>
<circle cx="231.1" cy="361.1" r="2.25" fill="none" stroke="#5a5a5a" stroke-width="0.7"/>
<circle cx="233.6" cy="361.5" r="2.25" fill="none" stroke="#5a5a5a" stroke-width="0.7"/>
<circle cx="236.6" cy="359.7" r="2.25" fill="none" stroke="#5a5a5a" stroke-width="0.7"/>
<circle cx="240.8" cy="360.3" r="2.25" fill="none" stroke="#5a5a5a" stroke-width="0.7"/>
<circle cx="244.0" cy="359.5" r="2.25" fill="none" stroke="#5a5a5a" stroke-width="0.7"/>
<circle cx="247.5" cy="360.8" r="2.25" fill="none" stroke="#5a5a5a" stroke-width="0.7"/>
<circle cx="250.2" cy="359.6" r="2.25" fill="none" stroke="#5a5a5a" stroke-width="0.7"/>
<circle cx="254.2" cy="359.7" r="2.25" fill="none" stroke="#5a5a5a" stroke-width="0.7"/>
<circle cx="256.9" cy="362.1" r="2.25" fill="none" stroke="#5a5a5a" stroke-width="0.7"/>
<circle cx="260.3" cy="361.1" r="2.25" fill="none" stroke="#5a5a5a" stroke-width="0.7"/>
<circle cx="263.4" cy="361.2" r="2.25" fill="none" stroke="#5a5a5a" stroke-width="0.7"/>
<circle cx="266.4" cy="360.6" r="2.25" fill="none" stroke="#5a5a5a" stroke-width="0.7"/>
<circle cx="270.5" cy="360.3" r="2.25" fill="none" stroke="#5a5a5a" stroke-width="0.7"/>
<circle cx="273.3" cy="362.0" r="2.25" fill="none" stroke="#5a5a5a" stroke-width="0.7"/>
<circle cx="276.6" cy="361.1" r="2.25" fill="none" stroke="#5a5a5a" stroke-width="0.7"/>
<circle cx="279.6" cy="362.1" r="2.25" fill="none" stroke="#5a5a5a" stroke-width="0.7"/>
<circle cx="283.2" cy="362.0" r="2.25" fill="none" stroke="#5a5a5a" stroke-width="0.7"/>
<circle cx="286.1" cy="360.8" r="2.25" fill="none" stroke="#5a5a5a" stroke-width="0.7"/>
<circle cx="289.3" cy="360.6" r="2.25" fill="none" stroke="#5a5a5a" stroke-width="0.7"/>
<circle cx="292.2" cy="363.5" r="2.25" fill="none" stroke="#5a5a5a" stroke-width="0.7"/>
<circle cx="79.7" cy="294.1" r="2.25" fill="none" stroke="#5a5a5a" stroke-width="0.7"/>
<circle cx="83.2" cy="298.0" r="2.25" fill="none" stroke="#5a5a5a" stroke-width="0.7"/>
<circle cx="86.5" cy="303.2" r="2.25" fill="none" stroke="#5a5a5a" stroke-width="0.7"/>
<circle cx="89.5" cy="306.6" r="2.25" fill="none" stroke="#5a5a5a" stroke-width="0.7"/>
<circle cx="93.2" cy="310.7" r="2.25" fill="none" stroke="#5a5a5a" stroke-width="0.7"/>
<circle cx="95.9" cy="314.5" r="2.25" fill="none" stroke="#5a5a5a" stroke-width="0.7"/>
<circle cx="99.2" cy="318.0" r="2.25" fill="none" stroke="#5a5a5a" stroke-width="0.7"/>
<circle cx="103.1" cy="321.7" r="2.25" fill="none" stroke="#5a5a5a" stroke-width="0.7"/>
<circle cx="106.0" cy="326.3" r="2.25" fill="none" stroke="#5a5a5a" stroke-width="0.7"/>
<circle cx="109.1" cy="330.4" r="2.25" fill="none" stroke="#5a5a5a" stroke-width="0.7"/>
<circle cx="112.8" cy="333.3" r="2.25" fill="none" stroke="#5a5a5a" stroke-width="0.7"/>
<circle cx="115.4" cy="335.3" r="2.25" fill="none" stroke="#5a5a5a" stroke-width="0.7"/>
<circle cx="119.4" cy="338.9" r="2.25" fill="none" stroke="#5a5a5a" stroke-width="0.7"/>
<circle cx="122.0" cy="343.5" r="2.25" fill="none" stroke="#5a5a5a" stroke-width="0.7"/>
<circle cx="125.5" cy="346.7" r="2.25" fill="none" stroke="#5a5a5a" stroke-width="0.7"/>
<circle cx="128.8" cy="349.3" r="2.25" fill="none" stroke="#5a5a5a" stroke-width="0.7"/>
<circle cx="131.6" cy="352.9" r="2.25" fill="none" stroke="#5a5a5a" stroke-width="0.7"/>
<circle cx="135.1" cy="356.0" r="2.25" fill="none" stroke="#5a5a5a" stroke-width="0.7"/>
<circle cx="139.3" cy="360.4" r="2.25" fill="none" stroke="#5a5a5a" stroke-width="0.7"/>
<circle cx="141.9" cy="365.0" r="2.25" fill="none" stroke="#5a5a5a" stroke-width="0.7"/>
<circle cx="145.1" cy="364.8" r="2.25" fill="none" stroke="#5a5a5a" stroke-width="0.7"/>
<circle cx="149.1" cy="367.8" r="2.25" fill="none" stroke="#5a5a5a" stroke-width="0.7"/>
<circle cx="152.2" cy="371.3" r="2.25" fill="none" stroke="#5a5a5a" stroke-width="0.7"/>
<circle cx="155.8" cy="374.2" r="2.25" fill="none" stroke="#5a5a5a" stroke-width="0.7"/>
<circle cx="158.8" cy="371.2" r="2.25" fill="none" stroke="#5a5a5a" stroke-width="0.7"/>
<circle cx="162.2" cy="375.4" r="2.25" fill="none" stroke="#5a5a5a" stroke-width="0.7"/>
<circle cx="165.4" cy="377.3" r="2.25" fill="none" stroke="#5a5a5a" stroke-width="0.7"/>
<circle cx="168.6" cy="378.3" r="2.25" fill="none" stroke="#5a5a5a" stroke-width="0.7"/>
<circle cx="172.5" cy="376.4" r="2.25" fill="none" stroke="#5a5a5a" stroke-width="0.7"/>
<circle cx="175.4" cy="379.2" r="2.25" fill="none" stroke="#5a5a5a" stroke-width="0.7"/>
<circle cx="178.5" cy="374.9" r="2.25" fill="none" stroke="#5a5a5a" stroke-width="0.7"/>
<circle cx="181.4" cy="379.9" r="2.25" fill="none" stroke="#5a5a5a" stroke-width="0.7"/>
<circle cx="184.9" cy="380.4" r="2.25" fill="none" stroke="#5a5a5a" stroke-width="0.7"/>
<circle cx="188.3" cy="378.7" r="2.25" fill="none" stroke="#5a5a5a" stroke-width="0.7"/>
<circle cx="192.0" cy="378.2" r="2.25" fill="none" stroke="#5a5a5a" stroke-width="0.7"/>
<circle cx="195.3" cy="376.5" r="2.25" fill="none" stroke="#5a5a5a" stroke-width="0.7"/>
<circle cx="197.9" cy="375.5" r="2.25" fill="none" stroke="#5a5a5a" stroke-width="0.7"/>
<circle cx="201.1" cy="378.9" r="2.25" fill="none" stroke="#5a5a5a" stroke-width="0.7"/>
<circle cx="204.9" cy="376.1" r="2.25" fill="none" stroke="#5a5a5a" stroke-width="0.7"/>
<circle cx="207.4" cy="379.9" r="2.25" fill="none" stroke="#5a5a5a" stroke-width="0.7"/>
<circle cx="211.8" cy="378.2" r="2.25" fill="none" stroke="#5a5a5a" stroke-width="0.7"/>
<circle cx="214.4" cy="380.0" r="2.25" fill="none" stroke="#5a5a5a" stroke-width="0.7"/>
<circle cx="217.7" cy="375.5" r="2.25" fill="none" stroke="#5a5a5a" stroke-width="0.7"/>
<circle cx="220.9" cy="374.2" r="2.25" fill="none" stroke="#5a5a5a" stroke-width="0.7"/>
<circle cx="224.2" cy="377.0" r="2.25" fill="none" stroke="#5a5a5a" stroke-width="0.7"/>
<circle cx="227.5" cy="380.9" r="2.25" fill="none" stroke="#5a5a5a" stroke-width="0.7"/>
<circle cx="231.1" cy="373.9" r="2.25" fill="none" stroke="#5a5a5a" stroke-width="0.7"/>
<circle cx="233.9" cy="375.2" r="2.25" fill="none" stroke="#5a5a5a" stroke-width="0.7"/>
<circle cx="237.2" cy="378.0" r="2.25" fill="none" stroke="#5a5a5a" stroke-width="0.7"/>
<circle cx="240.5" cy="375.8" r="2.25" fill="none" stroke="#5a5a5a" stroke-width="0.7"/>
<circle cx="243.8" cy="380.9" r="2.25" fill="none" stroke="#5a5a5a" stroke-width="0.7"/>
<circle cx="247.4" cy="381.3" r="2.25" fill="none" stroke="#5a5a5a" stroke-width="0.7"/>
<circle cx="250.2" cy="382.0" r="2.25" fill="none" stroke="#5a5a5a" stroke-width="0.7"/>
<circle cx="254.1" cy="380.9" r="2.25" fill="none" stroke="#5a5a5a" stroke-width="0.7"/>
<circle cx="257.3" cy="386.4" r="2.25" fill="none" stroke="#5a5a5a" stroke-width="0.7"/>
<circle cx="260.7" cy="380.1" r="2.25" fill="none" stroke="#5a5a5a" stroke-width="0.7"/>
<circle cx="263.8" cy="389.0" r="2.25" fill="none" stroke="#5a5a5a" stroke-width="0.7"/>
<circle cx="267.0" cy="382.1" r="2.25" fill="none" stroke="#5a5a5a" stroke-width="0.7"/>
<circle cx="270.4" cy="380.7" r="2.25" fill="none" stroke="#5a5a5a" stroke-width="0.7"/>
<circle cx="273.5" cy="377.2" r="2.25" fill="none" stroke="#5a5a5a" stroke-width="0.7"/>
<circle cx="276.7" cy="380.9" r="2.25" fill="none" stroke="#5a5a5a" stroke-width="0.7"/>
<circle cx="279.5" cy="377.4" r="2.25" fill="none" stroke="#5a5a5a" stroke-width="0.7"/>
<circle cx="282.7" cy="375.2" r="2.25" fill="none" stroke="#5a5a5a" stroke-width="0.7"/>
<circle cx="285.8" cy="380.1" r="2.25" fill="none" stroke="#5a5a5a" stroke-width="0.7"/>
<circle cx="289.9" cy="379.5" r="2.25" fill="none" stroke="#5a5a5a" stroke-width="0.7"/>
<circle cx="294.0" cy="383.3" r="2.25" fill="none" stroke="#5a5a5a" stroke-width="0.7"/>
<path d="M80.50,235.50 C83.42,239.42 92.13,250.95 98.00,259.00 C103.87,267.05 109.92,275.00 115.70,283.80 C121.48,292.60 127.98,303.93 132.70,311.80 C137.42,319.67 141.05,326.52 144.00,331.00 C146.95,335.48 148.42,336.97 150.40,338.70 C152.38,340.43 154.08,340.82 155.90,341.40 C157.72,341.98 159.03,342.20 161.30,342.20 C163.57,342.20 166.78,341.80 169.50,341.40 C172.22,341.00 174.67,340.15 177.60,339.80 C180.53,339.45 181.63,339.20 187.10,339.30 C192.57,339.40 203.12,339.82 210.40,340.40 C217.68,340.98 224.02,342.12 230.80,342.80 C237.58,343.48 244.32,344.05 251.10,344.50 C257.88,344.95 264.53,345.17 271.50,345.50 C278.47,345.83 289.33,346.33 292.90,346.50" fill="none" stroke="#3a8d8a" stroke-width="1.6"/>
<path d="M80.50,275.90 C83.75,280.25 94.57,294.93 100.00,302.00 C105.43,309.07 108.75,313.03 113.10,318.30 C117.45,323.57 121.62,328.35 126.10,333.60 C130.58,338.85 136.85,346.37 140.00,349.80 C143.15,353.23 143.32,352.97 145.00,354.20 C146.68,355.43 148.18,356.37 150.10,357.20 C152.02,358.03 153.53,358.68 156.50,359.20 C159.47,359.72 163.15,360.25 167.90,360.30 C172.65,360.35 177.92,359.65 185.00,359.50 C192.08,359.35 202.77,359.25 210.40,359.40 C218.03,359.55 224.02,360.17 230.80,360.40 C237.58,360.63 244.32,360.63 251.10,360.80 C257.88,360.97 264.53,361.13 271.50,361.40 C278.47,361.67 289.33,362.23 292.90,362.40" fill="none" stroke="#22228f" stroke-width="1.6"/>
<path d="M80.50,294.00 C83.75,298.05 94.57,311.88 100.00,318.30 C105.43,324.72 108.75,327.95 113.10,332.50 C117.45,337.05 121.62,340.93 126.10,345.60 C130.58,350.27 136.85,357.28 140.00,360.50 C143.15,363.72 142.90,363.22 145.00,364.90 C147.10,366.58 150.05,368.88 152.60,370.60 C155.15,372.32 157.75,373.98 160.30,375.20 C162.85,376.42 165.37,377.33 167.90,377.90 C170.43,378.47 172.65,378.55 175.50,378.60 C178.35,378.65 179.18,378.45 185.00,378.20 C190.82,377.95 202.77,377.12 210.40,377.10 C218.03,377.08 224.02,377.70 230.80,378.10 C237.58,378.50 244.32,379.23 251.10,379.50 C257.88,379.77 264.53,379.43 271.50,379.70 C278.47,379.97 289.33,380.87 292.90,381.10" fill="none" stroke="#e8783e" stroke-width="1.6"/>
<line x1="49" y1="5.3" x2="332.5" y2="5.3" stroke="#5a5a5a" stroke-width="1.3"/>
<line x1="332.5" y1="4.7" x2="332.5" y2="414" stroke="#454545" stroke-width="1.2"/>
<line x1="49" y1="209.5" x2="332.5" y2="209.5" stroke="#454545" stroke-width="1.1"/>
<line x1="49" y1="413" x2="333" y2="413" stroke="#989898" stroke-width="2"/>
<line x1="50" y1="5" x2="50" y2="414" stroke="#989898" stroke-width="2"/>
<line x1="106.5" y1="206.3" x2="106.5" y2="212.3" stroke="#666" stroke-width="1.2"/>
<line x1="163.0" y1="206.3" x2="163.0" y2="212.3" stroke="#666" stroke-width="1.2"/>
<line x1="219.4" y1="206.3" x2="219.4" y2="212.3" stroke="#666" stroke-width="1.2"/>
<line x1="275.9" y1="206.3" x2="275.9" y2="212.3" stroke="#666" stroke-width="1.2"/>
<line x1="332.4" y1="206.3" x2="332.4" y2="212.3" stroke="#666" stroke-width="1.2"/>
<line x1="50.0" y1="413" x2="50.0" y2="416" stroke="#8a8a8a" stroke-width="1"/>
<text x="50.0" y="432.5" font-size="12" text-anchor="middle" fill="#1a1a1a">0.0</text>
<line x1="106.5" y1="413" x2="106.5" y2="416" stroke="#8a8a8a" stroke-width="1"/>
<text x="106.5" y="432.5" font-size="12" text-anchor="middle" fill="#1a1a1a">0.1</text>
<line x1="163.0" y1="413" x2="163.0" y2="416" stroke="#8a8a8a" stroke-width="1"/>
<text x="163.0" y="432.5" font-size="12" text-anchor="middle" fill="#1a1a1a">0.2</text>
<line x1="219.4" y1="413" x2="219.4" y2="416" stroke="#8a8a8a" stroke-width="1"/>
<text x="219.4" y="432.5" font-size="12" text-anchor="middle" fill="#1a1a1a">0.3</text>
<line x1="275.9" y1="413" x2="275.9" y2="416" stroke="#8a8a8a" stroke-width="1"/>
<text x="275.9" y="432.5" font-size="12" text-anchor="middle" fill="#1a1a1a">0.4</text>
<line x1="332.4" y1="413" x2="332.4" y2="416" stroke="#8a8a8a" stroke-width="1"/>
<text x="332.4" y="432.5" font-size="12" text-anchor="middle" fill="#1a1a1a">0.5</text>
<line x1="47" y1="5.0" x2="50" y2="5.0" stroke="#8a8a8a" stroke-width="1"/>
<text x="40.6" y="9.3" font-size="12" text-anchor="end" fill="#1a1a1a">0.1</text>
<line x1="47" y1="93.8" x2="50" y2="93.8" stroke="#8a8a8a" stroke-width="1"/>
<text x="40.6" y="98.1" font-size="12" text-anchor="end" fill="#1a1a1a">0.01</text>
<line x1="47" y1="182.7" x2="50" y2="182.7" stroke="#8a8a8a" stroke-width="1"/>
<text x="40.6" y="187.0" font-size="12" text-anchor="end" fill="#1a1a1a">0.001</text>
<line x1="47" y1="250.0" x2="50" y2="250.0" stroke="#8a8a8a" stroke-width="1"/>
<text x="40.6" y="254.3" font-size="12" text-anchor="end" fill="#1a1a1a">10</text>
<line x1="47" y1="290.6" x2="50" y2="290.6" stroke="#8a8a8a" stroke-width="1"/>
<text x="40.6" y="294.9" font-size="12" text-anchor="end" fill="#1a1a1a">1</text>
<line x1="47" y1="331.2" x2="50" y2="331.2" stroke="#8a8a8a" stroke-width="1"/>
<text x="40.6" y="335.5" font-size="12" text-anchor="end" fill="#1a1a1a">0.1</text>
<line x1="47" y1="371.8" x2="50" y2="371.8" stroke="#8a8a8a" stroke-width="1"/>
<text x="40.6" y="376.1" font-size="12" text-anchor="end" fill="#1a1a1a">0.01</text>
<line x1="47" y1="412.4" x2="50" y2="412.4" stroke="#8a8a8a" stroke-width="1"/>
<text x="40.6" y="416.7" font-size="12" text-anchor="end" fill="#1a1a1a">0.001</text>
<text x="57.8" y="205.8" font-size="11" fill="#1a1a1a">SAXS</text>
<text x="57.8" y="409.8" font-size="11" fill="#1a1a1a">SANS</text>
<text x="309.8" y="349.0" font-size="12" fill="#1a1a1a">100</text>
<text x="311" y="368.5" font-size="12" fill="#1a1a1a">75</text>
<text x="311" y="389.5" font-size="12" fill="#1a1a1a">50</text>
<text transform="translate(9.9,148.5) rotate(-90)" font-size="12" font-weight="bold" fill="#1a1a1a">Intensity [a.u.]</text>
<text transform="translate(9.9,352.2) rotate(-90)" font-size="12" font-weight="bold" fill="#1a1a1a">Intensity [a.u.]</text>
<text x="173.5" y="456" font-size="12" font-weight="bold" fill="#1a1a1a">q [Å<tspan font-size="7.5" dy="-5.5">-1</tspan><tspan dy="5.5">]</tspan></text>
<text x="0.3" y="16.2" font-size="22.5" font-weight="bold" fill="#000">A</text>
<text x="0.6" y="225.3" font-size="22.5" font-weight="bold" fill="#000">B</text>
<defs><clipPath id="cc"><rect x="402.7" y="6.5" width="141.8" height="203.5"/></clipPath></defs>
<g clip-path="url(#cc)">
<path d="M402.70,200.75 L403.17,200.75 L403.64,200.75 L404.12,200.75 L404.59,200.75 L405.06,200.75 L405.54,200.75 L406.01,200.75 L406.48,200.75 L406.95,200.75 L407.43,200.75 L407.90,200.75 L408.37,200.75 L408.84,200.75 L409.32,200.75 L409.79,200.75 L410.26,200.75 L410.73,200.75 L411.21,200.75 L411.68,200.75 L412.15,200.75 L412.63,200.75 L413.10,200.75 L413.57,200.75 L414.04,200.75 L414.52,200.75 L414.99,200.75 L415.46,200.75 L415.93,200.75 L416.41,200.75 L416.88,200.75 L417.35,200.75 L417.82,200.75 L418.30,200.75 L418.77,200.75 L419.24,200.75 L419.72,200.75 L420.19,200.75 L420.66,200.75 L421.13,200.74 L421.61,200.74 L422.08,200.74 L422.55,200.74 L423.02,200.74 L423.50,200.74 L423.97,200.74 L424.44,200.73 L424.91,200.73 L425.39,200.73 L425.86,200.73 L426.33,200.72 L426.81,200.72 L427.28,200.71 L427.75,200.71 L428.22,200.70 L428.70,200.69 L429.17,200.69 L429.64,200.68 L430.11,200.67 L430.59,200.65 L431.06,200.64 L431.53,200.63 L432.00,200.61 L432.48,200.59 L432.95,200.57 L433.42,200.54 L433.90,200.52 L434.37,200.49 L434.84,200.45 L435.31,200.42 L435.79,200.37 L436.26,200.33 L436.73,200.28 L437.20,200.22 L437.68,200.16 L438.15,200.09 L438.62,200.01 L439.09,199.92 L439.57,199.83 L440.04,199.73 L440.51,199.61 L440.99,199.49 L441.46,199.35 L441.93,199.20 L442.40,199.04 L442.88,198.86 L443.35,198.67 L443.82,198.46 L444.29,198.23 L444.77,197.98 L445.24,197.72 L445.71,197.42 L446.18,197.11 L446.66,196.77 L447.13,196.41 L447.60,196.01 L448.08,195.59 L448.55,195.14 L449.02,194.65 L449.49,194.13 L449.97,193.58 L450.44,192.98 L450.91,192.35 L451.38,191.68 L451.86,190.97 L452.33,190.21 L452.80,189.41 L453.27,188.56 L453.75,187.66 L454.22,186.71 L454.69,185.71 L455.17,184.66 L455.64,183.55 L456.11,182.39 L456.58,181.17 L457.06,179.90 L457.53,178.57 L458.00,177.18 L458.47,175.74 L458.95,174.23 L459.42,172.66 L459.89,171.04 L460.36,169.35 L460.84,167.61 L461.31,165.81 L461.78,163.95 L462.26,162.04 L462.73,160.06 L463.20,158.04 L463.67,155.96 L464.15,153.83 L464.62,151.65 L465.09,149.42 L465.56,147.15 L466.04,144.84 L466.51,142.48 L466.98,140.09 L467.45,137.66 L467.93,135.20 L468.40,132.72 L468.87,130.21 L469.35,127.68 L469.82,125.13 L470.29,122.57 L470.76,119.99 L471.24,117.42 L471.71,114.84 L472.18,112.26 L472.65,109.69 L473.13,107.12 L473.60,104.58 L474.07,102.04 L474.54,99.53 L475.02,97.05 L475.49,94.59 L475.96,92.17 L476.44,89.78 L476.91,87.43 L477.38,85.13 L477.85,82.87 L478.33,80.65 L478.80,78.49 L479.27,76.38 L479.74,74.33 L480.22,72.33 L480.69,70.39 L481.16,68.52 L481.63,66.70 L482.11,64.95 L482.58,63.26 L483.05,61.63 L483.53,60.07 L484.00,58.58 L484.47,57.15 L484.94,55.78 L485.42,54.48 L485.89,53.24 L486.36,52.06 L486.83,50.94 L487.31,49.88 L487.78,48.88 L488.25,47.94 L488.72,47.05 L489.20,46.21 L489.67,45.43 L490.14,44.69 L490.62,44.00 L491.09,43.35 L491.56,42.75 L492.03,42.19 L492.51,41.66 L492.98,41.17 L493.45,40.71 L493.92,40.29 L494.40,39.89 L494.87,39.52 L495.34,39.18 L495.81,38.85 L496.29,38.55 L496.76,38.27 L497.23,38.00 L497.71,37.75 L498.18,37.52 L498.65,37.29 L499.12,37.08 L499.60,36.89 L500.07,36.70 L500.54,36.52 L501.01,36.35 L501.49,36.19 L501.96,36.04 L502.43,35.90 L502.91,35.76 L503.38,35.64 L503.85,35.53 L504.32,35.42 L504.80,35.33 L505.27,35.24 L505.74,35.17 L506.21,35.11 L506.69,35.07 L507.16,35.04 L507.63,35.03 L508.10,35.04 L508.58,35.07 L509.05,35.11 L509.52,35.18 L510.00,35.28 L510.47,35.40 L510.94,35.54 L511.41,35.72 L511.89,35.92 L512.36,36.16 L512.83,36.42 L513.30,36.73 L513.78,37.06 L514.25,37.44 L514.72,37.85 L515.19,38.30 L515.67,38.79 L516.14,39.32 L516.61,39.89 L517.09,40.51 L517.56,41.16 L518.03,41.86 L518.50,42.61 L518.98,43.39 L519.45,44.22 L519.92,45.10 L520.39,46.01 L520.87,46.97 L521.34,47.97 L521.81,49.01 L522.28,50.09 L522.76,51.21 L523.23,52.37 L523.70,53.56 L524.18,54.78 L524.65,56.04 L525.12,57.33 L525.59,58.65 L526.07,59.99 L526.54,61.36 L527.01,62.75 L527.48,64.16 L527.96,65.58 L528.43,67.02 L528.90,68.47 L529.37,69.92 L529.85,71.38 L530.32,72.84 L530.79,74.29 L531.27,75.74 L531.74,77.18 L532.21,78.60 L532.68,80.01 L533.16,81.40 L533.63,82.77 L534.10,84.10 L534.57,85.41 L535.05,86.68 L535.52,87.92 L535.99,89.11 L536.46,90.26 L536.94,91.37 L537.41,92.42 L537.88,93.42 L538.36,94.36 L538.83,95.24 L539.30,96.07 L539.77,96.83 L540.25,97.52 L540.72,98.15 L541.19,98.70 L541.66,99.19 L542.14,99.60 L542.61,99.94 L543.08,100.20 L543.55,100.38 L544.03,100.49 L544.50,100.53" fill="none" stroke="#b4b4b4" stroke-width="1.3"/>
<path d="M402.70,200.74 L403.17,200.74 L403.64,200.74 L404.12,200.74 L404.59,200.74 L405.06,200.74 L405.54,200.74 L406.01,200.74 L406.48,200.74 L406.95,200.74 L407.43,200.73 L407.90,200.73 L408.37,200.73 L408.84,200.73 L409.32,200.73 L409.79,200.73 L410.26,200.72 L410.73,200.72 L411.21,200.72 L411.68,200.72 L412.15,200.71 L412.63,200.71 L413.10,200.71 L413.57,200.70 L414.04,200.70 L414.52,200.69 L414.99,200.69 L415.46,200.68 L415.93,200.68 L416.41,200.67 L416.88,200.67 L417.35,200.66 L417.82,200.65 L418.30,200.65 L418.77,200.64 L419.24,200.63 L419.72,200.62 L420.19,200.61 L420.66,200.60 L421.13,200.59 L421.61,200.58 L422.08,200.57 L422.55,200.56 L423.02,200.54 L423.50,200.53 L423.97,200.51 L424.44,200.50 L424.91,200.48 L425.39,200.46 L425.86,200.44 L426.33,200.42 L426.81,200.40 L427.28,200.38 L427.75,200.36 L428.22,200.33 L428.70,200.31 L429.17,200.28 L429.64,200.25 L430.11,200.22 L430.59,200.19 L431.06,200.16 L431.53,200.13 L432.00,200.09 L432.48,200.05 L432.95,200.02 L433.42,199.98 L433.90,199.93 L434.37,199.89 L434.84,199.84 L435.31,199.80 L435.79,199.75 L436.26,199.70 L436.73,199.64 L437.20,199.59 L437.68,199.53 L438.15,199.47 L438.62,199.41 L439.09,199.35 L439.57,199.29 L440.04,199.22 L440.51,199.15 L440.99,199.08 L441.46,199.01 L441.93,198.93 L442.40,198.85 L442.88,198.77 L443.35,198.69 L443.82,198.61 L444.29,198.52 L444.77,198.44 L445.24,198.35 L445.71,198.26 L446.18,198.16 L446.66,198.07 L447.13,197.97 L447.60,197.87 L448.08,197.78 L448.55,197.67 L449.02,197.57 L449.49,197.47 L449.97,197.36 L450.44,197.26 L450.91,197.15 L451.38,197.04 L451.86,196.93 L452.33,196.82 L452.80,196.71 L453.27,196.60 L453.75,196.49 L454.22,196.37 L454.69,196.26 L455.17,196.15 L455.64,196.04 L456.11,195.93 L456.58,195.81 L457.06,195.70 L457.53,195.59 L458.00,195.48 L458.47,195.38 L458.95,195.27 L459.42,195.16 L459.89,195.06 L460.36,194.96 L460.84,194.86 L461.31,194.76 L461.78,194.66 L462.26,194.57 L462.73,194.48 L463.20,194.39 L463.67,194.30 L464.15,194.22 L464.62,194.14 L465.09,194.06 L465.56,193.99 L466.04,193.92 L466.51,193.85 L466.98,193.79 L467.45,193.73 L467.93,193.68 L468.40,193.62 L468.87,193.58 L469.35,193.53 L469.82,193.50 L470.29,193.46 L470.76,193.43 L471.24,193.41 L471.71,193.39 L472.18,193.37 L472.65,193.36 L473.13,193.35 L473.60,193.35 L474.07,193.35 L474.54,193.36 L475.02,193.37 L475.49,193.39 L475.96,193.41 L476.44,193.43 L476.91,193.46 L477.38,193.50 L477.85,193.53 L478.33,193.58 L478.80,193.62 L479.27,193.68 L479.74,193.73 L480.22,193.79 L480.69,193.85 L481.16,193.92 L481.63,193.99 L482.11,194.06 L482.58,194.14 L483.05,194.22 L483.53,194.30 L484.00,194.39 L484.47,194.48 L484.94,194.57 L485.42,194.66 L485.89,194.76 L486.36,194.86 L486.83,194.96 L487.31,195.06 L487.78,195.16 L488.25,195.27 L488.72,195.38 L489.20,195.48 L489.67,195.59 L490.14,195.70 L490.62,195.81 L491.09,195.93 L491.56,196.04 L492.03,196.15 L492.51,196.26 L492.98,196.37 L493.45,196.49 L493.92,196.60 L494.40,196.71 L494.87,196.82 L495.34,196.93 L495.81,197.04 L496.29,197.15 L496.76,197.26 L497.23,197.36 L497.71,197.47 L498.18,197.57 L498.65,197.67 L499.12,197.78 L499.60,197.87 L500.07,197.97 L500.54,198.07 L501.01,198.16 L501.49,198.26 L501.96,198.35 L502.43,198.44 L502.91,198.52 L503.38,198.61 L503.85,198.69 L504.32,198.77 L504.80,198.85 L505.27,198.93 L505.74,199.01 L506.21,199.08 L506.69,199.15 L507.16,199.22 L507.63,199.29 L508.10,199.35 L508.58,199.41 L509.05,199.47 L509.52,199.53 L510.00,199.59 L510.47,199.64 L510.94,199.70 L511.41,199.75 L511.89,199.80 L512.36,199.84 L512.83,199.89 L513.30,199.93 L513.78,199.98 L514.25,200.02 L514.72,200.05 L515.19,200.09 L515.67,200.13 L516.14,200.16 L516.61,200.19 L517.09,200.22 L517.56,200.25 L518.03,200.28 L518.50,200.31 L518.98,200.33 L519.45,200.36 L519.92,200.38 L520.39,200.40 L520.87,200.42 L521.34,200.44 L521.81,200.46 L522.28,200.48 L522.76,200.50 L523.23,200.51 L523.70,200.53 L524.18,200.54 L524.65,200.56 L525.12,200.57 L525.59,200.58 L526.07,200.59 L526.54,200.60 L527.01,200.61 L527.48,200.62 L527.96,200.63 L528.43,200.64 L528.90,200.65 L529.37,200.65 L529.85,200.66 L530.32,200.67 L530.79,200.67 L531.27,200.68 L531.74,200.68 L532.21,200.69 L532.68,200.69 L533.16,200.70 L533.63,200.70 L534.10,200.71 L534.57,200.71 L535.05,200.71 L535.52,200.72 L535.99,200.72 L536.46,200.72 L536.94,200.72 L537.41,200.73 L537.88,200.73 L538.36,200.73 L538.83,200.73 L539.30,200.73 L539.77,200.73 L540.25,200.74 L540.72,200.74 L541.19,200.74 L541.66,200.74 L542.14,200.74 L542.61,200.74 L543.08,200.74 L543.55,200.74 L544.03,200.74 L544.50,200.74" fill="none" stroke="#7cf03c" stroke-width="1.35"/>
<path d="M402.70,200.52 L403.17,200.49 L403.64,200.47 L404.12,200.44 L404.59,200.41 L405.06,200.38 L405.54,200.34 L406.01,200.30 L406.48,200.26 L406.95,200.22 L407.43,200.17 L407.90,200.12 L408.37,200.07 L408.84,200.01 L409.32,199.95 L409.79,199.89 L410.26,199.82 L410.73,199.75 L411.21,199.67 L411.68,199.59 L412.15,199.50 L412.63,199.41 L413.10,199.32 L413.57,199.22 L414.04,199.11 L414.52,199.00 L414.99,198.89 L415.46,198.77 L415.93,198.64 L416.41,198.51 L416.88,198.38 L417.35,198.24 L417.82,198.09 L418.30,197.94 L418.77,197.79 L419.24,197.63 L419.72,197.47 L420.19,197.30 L420.66,197.13 L421.13,196.95 L421.61,196.77 L422.08,196.59 L422.55,196.41 L423.02,196.22 L423.50,196.03 L423.97,195.84 L424.44,195.65 L424.91,195.46 L425.39,195.27 L425.86,195.08 L426.33,194.88 L426.81,194.69 L427.28,194.51 L427.75,194.32 L428.22,194.14 L428.70,193.96 L429.17,193.78 L429.64,193.61 L430.11,193.45 L430.59,193.29 L431.06,193.13 L431.53,192.98 L432.00,192.84 L432.48,192.71 L432.95,192.59 L433.42,192.47 L433.90,192.37 L434.37,192.27 L434.84,192.18 L435.31,192.11 L435.79,192.04 L436.26,191.98 L436.73,191.94 L437.20,191.91 L437.68,191.88 L438.15,191.87 L438.62,191.87 L439.09,191.88 L439.57,191.91 L440.04,191.94 L440.51,191.98 L440.99,192.04 L441.46,192.11 L441.93,192.18 L442.40,192.27 L442.88,192.37 L443.35,192.47 L443.82,192.59 L444.29,192.71 L444.77,192.84 L445.24,192.98 L445.71,193.13 L446.18,193.29 L446.66,193.45 L447.13,193.61 L447.60,193.78 L448.08,193.96 L448.55,194.14 L449.02,194.32 L449.49,194.51 L449.97,194.69 L450.44,194.88 L450.91,195.08 L451.38,195.27 L451.86,195.46 L452.33,195.65 L452.80,195.84 L453.27,196.03 L453.75,196.22 L454.22,196.41 L454.69,196.59 L455.17,196.77 L455.64,196.95 L456.11,197.13 L456.58,197.30 L457.06,197.47 L457.53,197.63 L458.00,197.79 L458.47,197.94 L458.95,198.09 L459.42,198.24 L459.89,198.38 L460.36,198.51 L460.84,198.64 L461.31,198.77 L461.78,198.89 L462.26,199.00 L462.73,199.11 L463.20,199.22 L463.67,199.32 L464.15,199.41 L464.62,199.50 L465.09,199.59 L465.56,199.67 L466.04,199.75 L466.51,199.82 L466.98,199.89 L467.45,199.95 L467.93,200.01 L468.40,200.07 L468.87,200.12 L469.35,200.17 L469.82,200.22 L470.29,200.26 L470.76,200.30 L471.24,200.34 L471.71,200.38 L472.18,200.41 L472.65,200.44 L473.13,200.47 L473.60,200.49 L474.07,200.52 L474.54,200.54 L475.02,200.56 L475.49,200.58 L475.96,200.59 L476.44,200.61 L476.91,200.62 L477.38,200.63 L477.85,200.65 L478.33,200.66 L478.80,200.67 L479.27,200.67 L479.74,200.68 L480.22,200.69 L480.69,200.70 L481.16,200.70 L481.63,200.71 L482.11,200.71 L482.58,200.72 L483.05,200.72 L483.53,200.72 L484.00,200.73 L484.47,200.73 L484.94,200.73 L485.42,200.73 L485.89,200.74 L486.36,200.74 L486.83,200.74 L487.31,200.74 L487.78,200.74 L488.25,200.74 L488.72,200.74 L489.20,200.74 L489.67,200.75 L490.14,200.75 L490.62,200.75 L491.09,200.75 L491.56,200.75 L492.03,200.75 L492.51,200.75 L492.98,200.75 L493.45,200.75 L493.92,200.75 L494.40,200.75 L494.87,200.75 L495.34,200.75 L495.81,200.75 L496.29,200.75 L496.76,200.75 L497.23,200.75 L497.71,200.75 L498.18,200.75 L498.65,200.75 L499.12,200.75 L499.60,200.75 L500.07,200.75 L500.54,200.75 L501.01,200.75 L501.49,200.75 L501.96,200.75 L502.43,200.75 L502.91,200.75 L503.38,200.75 L503.85,200.75 L504.32,200.75 L504.80,200.75 L505.27,200.75 L505.74,200.75 L506.21,200.75 L506.69,200.75 L507.16,200.75 L507.63,200.75 L508.10,200.75 L508.58,200.75 L509.05,200.75 L509.52,200.75 L510.00,200.75 L510.47,200.75 L510.94,200.75 L511.41,200.75 L511.89,200.75 L512.36,200.75 L512.83,200.75 L513.30,200.75 L513.78,200.75 L514.25,200.75 L514.72,200.75 L515.19,200.75 L515.67,200.75 L516.14,200.75 L516.61,200.75 L517.09,200.75 L517.56,200.75 L518.03,200.75 L518.50,200.75 L518.98,200.75 L519.45,200.75 L519.92,200.75 L520.39,200.75 L520.87,200.75 L521.34,200.75 L521.81,200.75 L522.28,200.75 L522.76,200.75 L523.23,200.75 L523.70,200.75 L524.18,200.75 L524.65,200.75 L525.12,200.75 L525.59,200.75 L526.07,200.75 L526.54,200.75 L527.01,200.75 L527.48,200.75 L527.96,200.75 L528.43,200.75 L528.90,200.75 L529.37,200.75 L529.85,200.75 L530.32,200.75 L530.79,200.75 L531.27,200.75 L531.74,200.75 L532.21,200.75 L532.68,200.75 L533.16,200.75 L533.63,200.75 L534.10,200.75 L534.57,200.75 L535.05,200.75 L535.52,200.75 L535.99,200.75 L536.46,200.75 L536.94,200.75 L537.41,200.75 L537.88,200.75 L538.36,200.75 L538.83,200.75 L539.30,200.75 L539.77,200.75 L540.25,200.75 L540.72,200.75 L541.19,200.75 L541.66,200.75 L542.14,200.75 L542.61,200.75 L543.08,200.75 L543.55,200.75 L544.03,200.75 L544.50,200.75" fill="none" stroke="#f2ef22" stroke-width="1.35"/>
<path d="M402.70,200.00 L403.17,199.93 L403.64,199.86 L404.12,199.79 L404.59,199.70 L405.06,199.62 L405.54,199.52 L406.01,199.42 L406.48,199.32 L406.95,199.20 L407.43,199.08 L407.90,198.95 L408.37,198.81 L408.84,198.67 L409.32,198.51 L409.79,198.35 L410.26,198.17 L410.73,197.99 L411.21,197.80 L411.68,197.60 L412.15,197.38 L412.63,197.16 L413.10,196.92 L413.57,196.67 L414.04,196.42 L414.52,196.14 L414.99,195.86 L415.46,195.57 L415.93,195.26 L416.41,194.94 L416.88,194.61 L417.35,194.26 L417.82,193.91 L418.30,193.54 L418.77,193.15 L419.24,192.76 L419.72,192.35 L420.19,191.94 L420.66,191.51 L421.13,191.07 L421.61,190.62 L422.08,190.15 L422.55,189.68 L423.02,189.20 L423.50,188.71 L423.97,188.21 L424.44,187.71 L424.91,187.19 L425.39,186.68 L425.86,186.15 L426.33,185.62 L426.81,185.09 L427.28,184.56 L427.75,184.02 L428.22,183.48 L428.70,182.95 L429.17,182.42 L429.64,181.88 L430.11,181.36 L430.59,180.84 L431.06,180.32 L431.53,179.81 L432.00,179.32 L432.48,178.83 L432.95,178.35 L433.42,177.89 L433.90,177.43 L434.37,177.00 L434.84,176.58 L435.31,176.18 L435.79,175.79 L436.26,175.43 L436.73,175.08 L437.20,174.76 L437.68,174.46 L438.15,174.18 L438.62,173.93 L439.09,173.70 L439.57,173.49 L440.04,173.31 L440.51,173.16 L440.99,173.04 L441.46,172.94 L441.93,172.87 L442.40,172.83 L442.88,172.81 L443.35,172.83 L443.82,172.87 L444.29,172.94 L444.77,173.04 L445.24,173.16 L445.71,173.31 L446.18,173.49 L446.66,173.70 L447.13,173.93 L447.60,174.18 L448.08,174.46 L448.55,174.76 L449.02,175.08 L449.49,175.43 L449.97,175.79 L450.44,176.18 L450.91,176.58 L451.38,177.00 L451.86,177.43 L452.33,177.89 L452.80,178.35 L453.27,178.83 L453.75,179.32 L454.22,179.81 L454.69,180.32 L455.17,180.84 L455.64,181.36 L456.11,181.88 L456.58,182.42 L457.06,182.95 L457.53,183.48 L458.00,184.02 L458.47,184.56 L458.95,185.09 L459.42,185.62 L459.89,186.15 L460.36,186.68 L460.84,187.19 L461.31,187.71 L461.78,188.21 L462.26,188.71 L462.73,189.20 L463.20,189.68 L463.67,190.15 L464.15,190.62 L464.62,191.07 L465.09,191.51 L465.56,191.94 L466.04,192.35 L466.51,192.76 L466.98,193.15 L467.45,193.54 L467.93,193.91 L468.40,194.26 L468.87,194.61 L469.35,194.94 L469.82,195.26 L470.29,195.57 L470.76,195.86 L471.24,196.14 L471.71,196.42 L472.18,196.67 L472.65,196.92 L473.13,197.16 L473.60,197.38 L474.07,197.60 L474.54,197.80 L475.02,197.99 L475.49,198.17 L475.96,198.35 L476.44,198.51 L476.91,198.67 L477.38,198.81 L477.85,198.95 L478.33,199.08 L478.80,199.20 L479.27,199.32 L479.74,199.42 L480.22,199.52 L480.69,199.62 L481.16,199.70 L481.63,199.79 L482.11,199.86 L482.58,199.93 L483.05,200.00 L483.53,200.06 L484.00,200.12 L484.47,200.17 L484.94,200.22 L485.42,200.27 L485.89,200.31 L486.36,200.35 L486.83,200.38 L487.31,200.42 L487.78,200.45 L488.25,200.47 L488.72,200.50 L489.20,200.52 L489.67,200.54 L490.14,200.56 L490.62,200.58 L491.09,200.60 L491.56,200.61 L492.03,200.63 L492.51,200.64 L492.98,200.65 L493.45,200.66 L493.92,200.67 L494.40,200.68 L494.87,200.68 L495.34,200.69 L495.81,200.70 L496.29,200.70 L496.76,200.71 L497.23,200.71 L497.71,200.72 L498.18,200.72 L498.65,200.72 L499.12,200.73 L499.60,200.73 L500.07,200.73 L500.54,200.73 L501.01,200.74 L501.49,200.74 L501.96,200.74 L502.43,200.74 L502.91,200.74 L503.38,200.74 L503.85,200.74 L504.32,200.74 L504.80,200.74 L505.27,200.75 L505.74,200.75 L506.21,200.75 L506.69,200.75 L507.16,200.75 L507.63,200.75 L508.10,200.75 L508.58,200.75 L509.05,200.75 L509.52,200.75 L510.00,200.75 L510.47,200.75 L510.94,200.75 L511.41,200.75 L511.89,200.75 L512.36,200.75 L512.83,200.75 L513.30,200.75 L513.78,200.75 L514.25,200.75 L514.72,200.75 L515.19,200.75 L515.67,200.75 L516.14,200.75 L516.61,200.75 L517.09,200.75 L517.56,200.75 L518.03,200.75 L518.50,200.75 L518.98,200.75 L519.45,200.75 L519.92,200.75 L520.39,200.75 L520.87,200.75 L521.34,200.75 L521.81,200.75 L522.28,200.75 L522.76,200.75 L523.23,200.75 L523.70,200.75 L524.18,200.75 L524.65,200.75 L525.12,200.75 L525.59,200.75 L526.07,200.75 L526.54,200.75 L527.01,200.75 L527.48,200.75 L527.96,200.75 L528.43,200.75 L528.90,200.75 L529.37,200.75 L529.85,200.75 L530.32,200.75 L530.79,200.75 L531.27,200.75 L531.74,200.75 L532.21,200.75 L532.68,200.75 L533.16,200.75 L533.63,200.75 L534.10,200.75 L534.57,200.75 L535.05,200.75 L535.52,200.75 L535.99,200.75 L536.46,200.75 L536.94,200.75 L537.41,200.75 L537.88,200.75 L538.36,200.75 L538.83,200.75 L539.30,200.75 L539.77,200.75 L540.25,200.75 L540.72,200.75 L541.19,200.75 L541.66,200.75 L542.14,200.75 L542.61,200.75 L543.08,200.75 L543.55,200.75 L544.03,200.75 L544.50,200.75" fill="none" stroke="#e8803c" stroke-width="1.35"/>
<path d="M402.70,200.71 L403.17,200.71 L403.64,200.70 L404.12,200.69 L404.59,200.69 L405.06,200.68 L405.54,200.67 L406.01,200.66 L406.48,200.65 L406.95,200.64 L407.43,200.63 L407.90,200.61 L408.37,200.60 L408.84,200.58 L409.32,200.56 L409.79,200.54 L410.26,200.52 L410.73,200.49 L411.21,200.47 L411.68,200.44 L412.15,200.40 L412.63,200.37 L413.10,200.33 L413.57,200.29 L414.04,200.24 L414.52,200.20 L414.99,200.14 L415.46,200.09 L415.93,200.03 L416.41,199.96 L416.88,199.89 L417.35,199.81 L417.82,199.73 L418.30,199.65 L418.77,199.55 L419.24,199.45 L419.72,199.35 L420.19,199.24 L420.66,199.12 L421.13,198.99 L421.61,198.86 L422.08,198.72 L422.55,198.57 L423.02,198.41 L423.50,198.24 L423.97,198.07 L424.44,197.88 L424.91,197.69 L425.39,197.49 L425.86,197.28 L426.33,197.06 L426.81,196.83 L427.28,196.59 L427.75,196.35 L428.22,196.09 L428.70,195.83 L429.17,195.55 L429.64,195.27 L430.11,194.98 L430.59,194.68 L431.06,194.38 L431.53,194.06 L432.00,193.74 L432.48,193.42 L432.95,193.08 L433.42,192.75 L433.90,192.40 L434.37,192.06 L434.84,191.71 L435.31,191.36 L435.79,191.00 L436.26,190.65 L436.73,190.29 L437.20,189.93 L437.68,189.58 L438.15,189.23 L438.62,188.88 L439.09,188.54 L439.57,188.20 L440.04,187.87 L440.51,187.54 L440.99,187.23 L441.46,186.92 L441.93,186.62 L442.40,186.34 L442.88,186.06 L443.35,185.80 L443.82,185.56 L444.29,185.32 L444.77,185.11 L445.24,184.91 L445.71,184.72 L446.18,184.56 L446.66,184.41 L447.13,184.28 L447.60,184.17 L448.08,184.08 L448.55,184.01 L449.02,183.96 L449.49,183.93 L449.97,183.91 L450.44,183.93 L450.91,183.96 L451.38,184.01 L451.86,184.08 L452.33,184.17 L452.80,184.28 L453.27,184.41 L453.75,184.56 L454.22,184.72 L454.69,184.91 L455.17,185.11 L455.64,185.32 L456.11,185.56 L456.58,185.80 L457.06,186.06 L457.53,186.34 L458.00,186.62 L458.47,186.92 L458.95,187.23 L459.42,187.54 L459.89,187.87 L460.36,188.20 L460.84,188.54 L461.31,188.88 L461.78,189.23 L462.26,189.58 L462.73,189.93 L463.20,190.29 L463.67,190.65 L464.15,191.00 L464.62,191.36 L465.09,191.71 L465.56,192.06 L466.04,192.40 L466.51,192.75 L466.98,193.08 L467.45,193.42 L467.93,193.74 L468.40,194.06 L468.87,194.38 L469.35,194.68 L469.82,194.98 L470.29,195.27 L470.76,195.55 L471.24,195.83 L471.71,196.09 L472.18,196.35 L472.65,196.59 L473.13,196.83 L473.60,197.06 L474.07,197.28 L474.54,197.49 L475.02,197.69 L475.49,197.88 L475.96,198.07 L476.44,198.24 L476.91,198.41 L477.38,198.57 L477.85,198.72 L478.33,198.86 L478.80,198.99 L479.27,199.12 L479.74,199.24 L480.22,199.35 L480.69,199.45 L481.16,199.55 L481.63,199.65 L482.11,199.73 L482.58,199.81 L483.05,199.89 L483.53,199.96 L484.00,200.03 L484.47,200.09 L484.94,200.14 L485.42,200.20 L485.89,200.24 L486.36,200.29 L486.83,200.33 L487.31,200.37 L487.78,200.40 L488.25,200.44 L488.72,200.47 L489.20,200.49 L489.67,200.52 L490.14,200.54 L490.62,200.56 L491.09,200.58 L491.56,200.60 L492.03,200.61 L492.51,200.63 L492.98,200.64 L493.45,200.65 L493.92,200.66 L494.40,200.67 L494.87,200.68 L495.34,200.69 L495.81,200.69 L496.29,200.70 L496.76,200.71 L497.23,200.71 L497.71,200.72 L498.18,200.72 L498.65,200.72 L499.12,200.73 L499.60,200.73 L500.07,200.73 L500.54,200.73 L501.01,200.74 L501.49,200.74 L501.96,200.74 L502.43,200.74 L502.91,200.74 L503.38,200.74 L503.85,200.74 L504.32,200.74 L504.80,200.75 L505.27,200.75 L505.74,200.75 L506.21,200.75 L506.69,200.75 L507.16,200.75 L507.63,200.75 L508.10,200.75 L508.58,200.75 L509.05,200.75 L509.52,200.75 L510.00,200.75 L510.47,200.75 L510.94,200.75 L511.41,200.75 L511.89,200.75 L512.36,200.75 L512.83,200.75 L513.30,200.75 L513.78,200.75 L514.25,200.75 L514.72,200.75 L515.19,200.75 L515.67,200.75 L516.14,200.75 L516.61,200.75 L517.09,200.75 L517.56,200.75 L518.03,200.75 L518.50,200.75 L518.98,200.75 L519.45,200.75 L519.92,200.75 L520.39,200.75 L520.87,200.75 L521.34,200.75 L521.81,200.75 L522.28,200.75 L522.76,200.75 L523.23,200.75 L523.70,200.75 L524.18,200.75 L524.65,200.75 L525.12,200.75 L525.59,200.75 L526.07,200.75 L526.54,200.75 L527.01,200.75 L527.48,200.75 L527.96,200.75 L528.43,200.75 L528.90,200.75 L529.37,200.75 L529.85,200.75 L530.32,200.75 L530.79,200.75 L531.27,200.75 L531.74,200.75 L532.21,200.75 L532.68,200.75 L533.16,200.75 L533.63,200.75 L534.10,200.75 L534.57,200.75 L535.05,200.75 L535.52,200.75 L535.99,200.75 L536.46,200.75 L536.94,200.75 L537.41,200.75 L537.88,200.75 L538.36,200.75 L538.83,200.75 L539.30,200.75 L539.77,200.75 L540.25,200.75 L540.72,200.75 L541.19,200.75 L541.66,200.75 L542.14,200.75 L542.61,200.75 L543.08,200.75 L543.55,200.75 L544.03,200.75 L544.50,200.75" fill="none" stroke="#d61e1e" stroke-width="1.35"/>
<path d="M402.70,200.75 L403.17,200.75 L403.64,200.75 L404.12,200.75 L404.59,200.75 L405.06,200.75 L405.54,200.75 L406.01,200.75 L406.48,200.75 L406.95,200.75 L407.43,200.75 L407.90,200.75 L408.37,200.75 L408.84,200.75 L409.32,200.75 L409.79,200.75 L410.26,200.75 L410.73,200.75 L411.21,200.75 L411.68,200.75 L412.15,200.75 L412.63,200.75 L413.10,200.75 L413.57,200.75 L414.04,200.75 L414.52,200.75 L414.99,200.75 L415.46,200.75 L415.93,200.75 L416.41,200.75 L416.88,200.75 L417.35,200.75 L417.82,200.75 L418.30,200.75 L418.77,200.75 L419.24,200.75 L419.72,200.75 L420.19,200.75 L420.66,200.75 L421.13,200.75 L421.61,200.75 L422.08,200.75 L422.55,200.75 L423.02,200.75 L423.50,200.75 L423.97,200.75 L424.44,200.75 L424.91,200.75 L425.39,200.75 L425.86,200.75 L426.33,200.75 L426.81,200.75 L427.28,200.75 L427.75,200.75 L428.22,200.75 L428.70,200.75 L429.17,200.75 L429.64,200.75 L430.11,200.75 L430.59,200.75 L431.06,200.75 L431.53,200.75 L432.00,200.75 L432.48,200.75 L432.95,200.75 L433.42,200.75 L433.90,200.75 L434.37,200.75 L434.84,200.75 L435.31,200.75 L435.79,200.75 L436.26,200.75 L436.73,200.75 L437.20,200.75 L437.68,200.75 L438.15,200.75 L438.62,200.75 L439.09,200.75 L439.57,200.75 L440.04,200.75 L440.51,200.75 L440.99,200.75 L441.46,200.75 L441.93,200.75 L442.40,200.75 L442.88,200.75 L443.35,200.75 L443.82,200.75 L444.29,200.75 L444.77,200.75 L445.24,200.75 L445.71,200.75 L446.18,200.74 L446.66,200.74 L447.13,200.74 L447.60,200.74 L448.08,200.74 L448.55,200.74 L449.02,200.74 L449.49,200.74 L449.97,200.73 L450.44,200.73 L450.91,200.73 L451.38,200.73 L451.86,200.72 L452.33,200.72 L452.80,200.71 L453.27,200.71 L453.75,200.70 L454.22,200.70 L454.69,200.69 L455.17,200.68 L455.64,200.67 L456.11,200.67 L456.58,200.65 L457.06,200.64 L457.53,200.63 L458.00,200.62 L458.47,200.60 L458.95,200.58 L459.42,200.57 L459.89,200.54 L460.36,200.52 L460.84,200.50 L461.31,200.47 L461.78,200.44 L462.26,200.41 L462.73,200.37 L463.20,200.33 L463.67,200.29 L464.15,200.24 L464.62,200.19 L465.09,200.14 L465.56,200.08 L466.04,200.02 L466.51,199.95 L466.98,199.88 L467.45,199.80 L467.93,199.72 L468.40,199.62 L468.87,199.53 L469.35,199.43 L469.82,199.32 L470.29,199.20 L470.76,199.07 L471.24,198.94 L471.71,198.80 L472.18,198.65 L472.65,198.50 L473.13,198.33 L473.60,198.16 L474.07,197.97 L474.54,197.78 L475.02,197.58 L475.49,197.37 L475.96,197.15 L476.44,196.92 L476.91,196.68 L477.38,196.43 L477.85,196.17 L478.33,195.91 L478.80,195.63 L479.27,195.34 L479.74,195.05 L480.22,194.75 L480.69,194.44 L481.16,194.12 L481.63,193.80 L482.11,193.46 L482.58,193.13 L483.05,192.78 L483.53,192.44 L484.00,192.08 L484.47,191.73 L484.94,191.37 L485.42,191.01 L485.89,190.65 L486.36,190.29 L486.83,189.93 L487.31,189.57 L487.78,189.22 L488.25,188.87 L488.72,188.52 L489.20,188.18 L489.67,187.85 L490.14,187.52 L490.62,187.21 L491.09,186.90 L491.56,186.61 L492.03,186.33 L492.51,186.06 L492.98,185.80 L493.45,185.56 L493.92,185.34 L494.40,185.13 L494.87,184.94 L495.34,184.77 L495.81,184.61 L496.29,184.48 L496.76,184.36 L497.23,184.27 L497.71,184.20 L498.18,184.14 L498.65,184.11 L499.12,184.10 L499.60,184.11 L500.07,184.14 L500.54,184.20 L501.01,184.27 L501.49,184.36 L501.96,184.48 L502.43,184.61 L502.91,184.77 L503.38,184.94 L503.85,185.13 L504.32,185.34 L504.80,185.56 L505.27,185.80 L505.74,186.06 L506.21,186.33 L506.69,186.61 L507.16,186.90 L507.63,187.21 L508.10,187.52 L508.58,187.85 L509.05,188.18 L509.52,188.52 L510.00,188.87 L510.47,189.22 L510.94,189.57 L511.41,189.93 L511.89,190.29 L512.36,190.65 L512.83,191.01 L513.30,191.37 L513.78,191.73 L514.25,192.08 L514.72,192.44 L515.19,192.78 L515.67,193.13 L516.14,193.46 L516.61,193.80 L517.09,194.12 L517.56,194.44 L518.03,194.75 L518.50,195.05 L518.98,195.34 L519.45,195.63 L519.92,195.91 L520.39,196.17 L520.87,196.43 L521.34,196.68 L521.81,196.92 L522.28,197.15 L522.76,197.37 L523.23,197.58 L523.70,197.78 L524.18,197.97 L524.65,198.16 L525.12,198.33 L525.59,198.50 L526.07,198.65 L526.54,198.80 L527.01,198.94 L527.48,199.07 L527.96,199.20 L528.43,199.32 L528.90,199.43 L529.37,199.53 L529.85,199.62 L530.32,199.72 L530.79,199.80 L531.27,199.88 L531.74,199.95 L532.21,200.02 L532.68,200.08 L533.16,200.14 L533.63,200.19 L534.10,200.24 L534.57,200.29 L535.05,200.33 L535.52,200.37 L535.99,200.41 L536.46,200.44 L536.94,200.47 L537.41,200.50 L537.88,200.52 L538.36,200.54 L538.83,200.57 L539.30,200.58 L539.77,200.60 L540.25,200.62 L540.72,200.63 L541.19,200.64 L541.66,200.65 L542.14,200.67 L542.61,200.67 L543.08,200.68 L543.55,200.69 L544.03,200.70 L544.50,200.70" fill="none" stroke="#3f8a2a" stroke-width="1.35"/>
<path d="M402.70,200.75 L403.17,200.75 L403.64,200.75 L404.12,200.75 L404.59,200.75 L405.06,200.75 L405.54,200.75 L406.01,200.75 L406.48,200.75 L406.95,200.75 L407.43,200.75 L407.90,200.75 L408.37,200.75 L408.84,200.75 L409.32,200.75 L409.79,200.75 L410.26,200.75 L410.73,200.75 L411.21,200.75 L411.68,200.75 L412.15,200.75 L412.63,200.75 L413.10,200.75 L413.57,200.75 L414.04,200.75 L414.52,200.75 L414.99,200.75 L415.46,200.75 L415.93,200.75 L416.41,200.75 L416.88,200.75 L417.35,200.75 L417.82,200.75 L418.30,200.75 L418.77,200.75 L419.24,200.75 L419.72,200.75 L420.19,200.75 L420.66,200.75 L421.13,200.75 L421.61,200.75 L422.08,200.75 L422.55,200.75 L423.02,200.75 L423.50,200.75 L423.97,200.75 L424.44,200.74 L424.91,200.74 L425.39,200.74 L425.86,200.74 L426.33,200.74 L426.81,200.74 L427.28,200.73 L427.75,200.73 L428.22,200.72 L428.70,200.72 L429.17,200.71 L429.64,200.71 L430.11,200.70 L430.59,200.69 L431.06,200.67 L431.53,200.66 L432.00,200.64 L432.48,200.62 L432.95,200.60 L433.42,200.57 L433.90,200.54 L434.37,200.51 L434.84,200.46 L435.31,200.42 L435.79,200.36 L436.26,200.30 L436.73,200.23 L437.20,200.14 L437.68,200.05 L438.15,199.94 L438.62,199.82 L439.09,199.69 L439.57,199.53 L440.04,199.36 L440.51,199.16 L440.99,198.95 L441.46,198.71 L441.93,198.44 L442.40,198.14 L442.88,197.81 L443.35,197.44 L443.82,197.04 L444.29,196.60 L444.77,196.12 L445.24,195.60 L445.71,195.02 L446.18,194.40 L446.66,193.73 L447.13,193.00 L447.60,192.21 L448.08,191.37 L448.55,190.47 L449.02,189.50 L449.49,188.48 L449.97,187.39 L450.44,186.24 L450.91,185.02 L451.38,183.74 L451.86,182.40 L452.33,180.99 L452.80,179.53 L453.27,178.01 L453.75,176.44 L454.22,174.81 L454.69,173.15 L455.17,171.44 L455.64,169.69 L456.11,167.92 L456.58,166.12 L457.06,164.31 L457.53,162.49 L458.00,160.67 L458.47,158.85 L458.95,157.06 L459.42,155.29 L459.89,153.56 L460.36,151.87 L460.84,150.24 L461.31,148.67 L461.78,147.17 L462.26,145.75 L462.73,144.43 L463.20,143.20 L463.67,142.08 L464.15,141.07 L464.62,140.19 L465.09,139.43 L465.56,138.80 L466.04,138.31 L466.51,137.95 L466.98,137.74 L467.45,137.66 L467.93,137.71 L468.40,137.86 L468.87,138.10 L469.35,138.44 L469.82,138.87 L470.29,139.39 L470.76,140.00 L471.24,140.69 L471.71,141.47 L472.18,142.33 L472.65,143.27 L473.13,144.28 L473.60,145.35 L474.07,146.49 L474.54,147.69 L475.02,148.94 L475.49,150.24 L475.96,151.58 L476.44,152.96 L476.91,154.37 L477.38,155.81 L477.85,157.27 L478.33,158.75 L478.80,160.24 L479.27,161.74 L479.74,163.24 L480.22,164.74 L480.69,166.23 L481.16,167.71 L481.63,169.17 L482.11,170.62 L482.58,172.04 L483.05,173.44 L483.53,174.81 L484.00,176.16 L484.47,177.46 L484.94,178.73 L485.42,179.97 L485.89,181.16 L486.36,182.32 L486.83,183.43 L487.31,184.50 L487.78,185.53 L488.25,186.51 L488.72,187.45 L489.20,188.35 L489.67,189.21 L490.14,190.02 L490.62,190.79 L491.09,191.52 L491.56,192.21 L492.03,192.86 L492.51,193.47 L492.98,194.05 L493.45,194.59 L493.92,195.09 L494.40,195.56 L494.87,196.00 L495.34,196.41 L495.81,196.79 L496.29,197.14 L496.76,197.47 L497.23,197.77 L497.71,198.05 L498.18,198.30 L498.65,198.54 L499.12,198.75 L499.60,198.95 L500.07,199.13 L500.54,199.29 L501.01,199.44 L501.49,199.58 L501.96,199.70 L502.43,199.81 L502.91,199.92 L503.38,200.01 L503.85,200.09 L504.32,200.16 L504.80,200.23 L505.27,200.29 L505.74,200.34 L506.21,200.39 L506.69,200.43 L507.16,200.47 L507.63,200.51 L508.10,200.54 L508.58,200.56 L509.05,200.59 L509.52,200.61 L510.00,200.63 L510.47,200.64 L510.94,200.66 L511.41,200.67 L511.89,200.68 L512.36,200.69 L512.83,200.70 L513.30,200.70 L513.78,200.71 L514.25,200.72 L514.72,200.72 L515.19,200.73 L515.67,200.73 L516.14,200.73 L516.61,200.73 L517.09,200.74 L517.56,200.74 L518.03,200.74 L518.50,200.74 L518.98,200.74 L519.45,200.74 L519.92,200.75 L520.39,200.75 L520.87,200.75 L521.34,200.75 L521.81,200.75 L522.28,200.75 L522.76,200.75 L523.23,200.75 L523.70,200.75 L524.18,200.75 L524.65,200.75 L525.12,200.75 L525.59,200.75 L526.07,200.75 L526.54,200.75 L527.01,200.75 L527.48,200.75 L527.96,200.75 L528.43,200.75 L528.90,200.75 L529.37,200.75 L529.85,200.75 L530.32,200.75 L530.79,200.75 L531.27,200.75 L531.74,200.75 L532.21,200.75 L532.68,200.75 L533.16,200.75 L533.63,200.75 L534.10,200.75 L534.57,200.75 L535.05,200.75 L535.52,200.75 L535.99,200.75 L536.46,200.75 L536.94,200.75 L537.41,200.75 L537.88,200.75 L538.36,200.75 L538.83,200.75 L539.30,200.75 L539.77,200.75 L540.25,200.75 L540.72,200.75 L541.19,200.75 L541.66,200.75 L542.14,200.75 L542.61,200.75 L543.08,200.75 L543.55,200.75 L544.03,200.75 L544.50,200.75" fill="none" stroke="#6a1d9a" stroke-width="1.35"/>
<path d="M402.60,15.75 L403.10,16.03 L403.60,16.31 L404.10,16.57 L404.60,16.83 L405.10,17.07 L405.60,17.31 L406.10,17.54 L406.60,17.77 L407.10,17.99 L407.60,18.22 L408.10,18.44 L408.60,18.67 L409.10,18.90 L409.60,19.14 L410.10,19.38 L410.60,19.64 L411.10,19.90 L411.60,20.17 L412.10,20.46 L412.60,20.76 L413.10,21.08 L413.60,21.41 L414.10,21.77 L414.60,22.14 L415.10,22.54 L415.60,22.96 L416.10,23.41 L416.60,23.88 L417.10,24.38 L417.60,24.92 L418.10,25.48 L418.60,26.07 L419.10,26.71 L419.60,27.37 L420.10,28.08 L420.60,28.82 L421.10,29.61 L421.60,30.43 L422.10,31.29 L422.60,32.19 L423.10,33.13 L423.60,34.09 L424.10,35.08 L424.60,36.10 L425.10,37.14 L425.60,38.20 L426.10,39.28 L426.60,40.38 L427.10,41.49 L427.60,42.61 L428.10,43.74 L428.60,44.88 L429.10,46.02 L429.60,47.16 L430.10,48.30 L430.60,49.44 L431.10,50.57 L431.60,51.69 L432.10,52.80 L432.60,53.91 L433.10,55.00 L433.60,56.09 L434.10,57.17 L434.60,58.25 L435.10,59.32 L435.60,60.39 L436.10,61.46 L436.60,62.52 L437.10,63.58 L437.60,64.64 L438.10,65.70 L438.60,66.77 L439.10,67.83 L439.60,68.90 L440.10,69.97 L440.60,71.04 L441.10,72.12 L441.60,73.21 L442.10,74.30 L442.60,75.40 L443.10,76.51 L443.60,77.63 L444.10,78.76 L444.60,79.90 L445.10,81.05 L445.60,82.22 L446.10,83.40 L446.60,84.59 L447.10,85.80 L447.60,87.02 L448.10,88.26 L448.60,89.52 L449.10,90.79 L449.60,92.10 L450.10,93.45 L450.60,94.85 L451.10,96.33 L451.60,97.89 L452.10,99.53 L452.60,101.24 L453.10,103.00 L453.60,104.82 L454.10,106.67 L454.60,108.55 L455.10,110.45 L455.60,112.35 L456.10,114.26 L456.60,116.18 L457.10,118.09 L457.60,120.01 L458.10,121.93 L458.60,123.85 L459.10,125.77 L459.60,127.69 L460.10,129.61 L460.60,131.53 L461.10,133.46 L461.60,135.38 L462.10,137.30 L462.60,139.22 L463.10,141.14 L463.60,143.06 L464.10,144.98 L464.60,146.90 L465.10,148.81 L465.60,150.72 L466.10,152.63 L466.60,154.54 L467.10,156.45 L467.60,158.35 L468.10,160.24 L468.60,162.14 L469.10,164.03 L469.60,165.90 L470.10,167.74 L470.60,169.55 L471.10,171.31 L471.60,173.01 L472.10,174.65 L472.60,176.21 L473.10,177.70 L473.60,179.12 L474.10,180.48 L474.60,181.78 L475.10,183.03 L475.60,184.22 L476.10,185.36 L476.60,186.45 L477.10,187.49 L477.60,188.48 L478.10,189.42 L478.60,190.31 L479.10,191.16 L479.60,191.97 L480.10,192.73 L480.60,193.45 L481.10,194.13 L481.60,194.77 L482.10,195.37 L482.60,195.93 L483.10,196.45 L483.60,196.94 L484.10,197.40 L484.60,197.82 L485.10,198.20 L485.60,198.56 L486.10,198.88 L486.60,199.18 L487.10,199.45 L487.60,199.69 L488.10,199.90 L488.60,200.09 L489.10,200.25 L489.60,200.39 L490.10,200.51 L490.60,200.61 L491.10,200.69 L491.60,200.75 L492.10,200.75 L492.60,200.75 L493.10,200.75 L493.60,200.75 L494.10,200.75 L494.60,200.75 L495.10,200.74 L495.60,200.68 L496.10,200.62 L496.60,200.55 L497.10,200.48 L497.60,200.40 L498.10,200.31 L498.60,200.22 L499.10,200.13 L499.60,200.04 L500.10,199.94 L500.60,199.85 L501.10,199.75 L501.60,199.66 L502.10,199.58 L502.60,199.50 L503.10,199.42 L503.60,199.35 L504.10,199.29 L504.60,199.24 L505.10,199.20 L505.60,199.17 L506.10,199.16 L506.60,199.15 L507.10,199.16 L507.60,199.19 L508.10,199.23 L508.60,199.30 L509.10,199.37 L509.60,199.47 L510.10,199.60 L510.60,199.74 L511.10,199.90 L511.60,200.09 L512.10,200.31 L512.60,200.55" fill="none" stroke="#2a2af5" stroke-width="1.35"/>
<path d="M402.70,200.75 L403.17,200.75 L403.64,200.75 L404.12,200.75 L404.59,200.75 L405.06,200.75 L405.54,200.75 L406.01,200.75 L406.48,200.75 L406.95,200.75 L407.43,200.75 L407.90,200.75 L408.37,200.75 L408.84,200.75 L409.32,200.75 L409.79,200.75 L410.26,200.75 L410.73,200.75 L411.21,200.75 L411.68,200.75 L412.15,200.75 L412.63,200.75 L413.10,200.75 L413.57,200.75 L414.04,200.75 L414.52,200.75 L414.99,200.75 L415.46,200.75 L415.93,200.75 L416.41,200.75 L416.88,200.75 L417.35,200.75 L417.82,200.75 L418.30,200.75 L418.77,200.75 L419.24,200.75 L419.72,200.75 L420.19,200.75 L420.66,200.75 L421.13,200.74 L421.61,200.74 L422.08,200.74 L422.55,200.74 L423.02,200.74 L423.50,200.74 L423.97,200.74 L424.44,200.73 L424.91,200.73 L425.39,200.73 L425.86,200.73 L426.33,200.72 L426.81,200.72 L427.28,200.71 L427.75,200.71 L428.22,200.70 L428.70,200.69 L429.17,200.69 L429.64,200.68 L430.11,200.67 L430.59,200.65 L431.06,200.64 L431.53,200.63 L432.00,200.61 L432.48,200.59 L432.95,200.57 L433.42,200.54 L433.90,200.52 L434.37,200.49 L434.84,200.45 L435.31,200.42 L435.79,200.37 L436.26,200.33 L436.73,200.28 L437.20,200.22 L437.68,200.16 L438.15,200.09 L438.62,200.01 L439.09,199.92 L439.57,199.83 L440.04,199.73 L440.51,199.61 L440.99,199.49 L441.46,199.35 L441.93,199.20 L442.40,199.04 L442.88,198.86 L443.35,198.67 L443.82,198.46 L444.29,198.23 L444.77,197.98 L445.24,197.71 L445.71,197.42 L446.18,197.10 L446.66,196.77 L447.13,196.40 L447.60,196.00 L448.08,195.58 L448.55,195.13 L449.02,194.64 L449.49,194.12 L449.97,193.56 L450.44,192.97 L450.91,192.33 L451.38,191.66 L451.86,190.94 L452.33,190.18 L452.80,189.37 L453.27,188.51 L453.75,187.61 L454.22,186.66 L454.69,185.65 L455.17,184.59 L455.64,183.48 L456.11,182.31 L456.58,181.08 L457.06,179.80 L457.53,178.45 L458.00,177.05 L458.47,175.59 L458.95,174.06 L459.42,172.48 L459.89,170.83 L460.36,169.13 L460.84,167.36 L461.31,165.53 L461.78,163.64 L462.26,161.69 L462.73,159.68 L463.20,157.62 L463.67,155.50 L464.15,153.32 L464.62,151.09 L465.09,148.81 L465.56,146.48 L466.04,144.10 L466.51,141.68 L466.98,139.22 L467.45,136.71 L467.93,134.17 L468.40,131.59 L468.87,128.99 L469.35,126.35 L469.82,123.69 L470.29,121.01 L470.76,118.32 L471.24,115.61 L471.71,112.89 L472.18,110.16 L472.65,107.43 L473.13,104.70 L473.60,101.98 L474.07,99.27 L474.54,96.56 L475.02,93.88 L475.49,91.21 L475.96,88.56 L476.44,85.95 L476.91,83.36 L477.38,80.80 L477.85,78.28 L478.33,75.80 L478.80,73.36 L479.27,70.96 L479.74,68.61 L480.22,66.31 L480.69,64.06 L481.16,61.87 L481.63,59.72 L482.11,57.63 L482.58,55.60 L483.05,53.63 L483.53,51.72 L484.00,49.87 L484.47,48.07 L484.94,46.34 L485.42,44.67 L485.89,43.06 L486.36,41.52 L486.83,40.03 L487.31,38.60 L487.78,37.24 L488.25,35.93 L488.72,34.68 L489.20,33.49 L489.67,32.35 L490.14,31.27 L490.62,30.24 L491.09,29.27 L491.56,28.34 L492.03,27.47 L492.51,26.64 L492.98,25.86 L493.45,25.13 L493.92,24.43 L494.40,23.78 L494.87,23.17 L495.34,22.60 L495.81,22.06 L496.29,21.56 L496.76,21.10 L497.23,20.66 L497.71,20.26 L498.18,19.88 L498.65,19.53 L499.12,19.20 L499.60,18.90 L500.07,18.62 L500.54,18.37 L501.01,18.13 L501.49,17.91 L501.96,17.71 L502.43,17.53 L502.91,17.36 L503.38,17.21 L503.85,17.06 L504.32,16.94 L504.80,16.82 L505.27,16.71 L505.74,16.61 L506.21,16.52 L506.69,16.44 L507.16,16.37 L507.63,16.31 L508.10,16.25 L508.58,16.19 L509.05,16.14 L509.52,16.10 L510.00,16.06 L510.47,16.03 L510.94,15.99 L511.41,15.97 L511.89,15.94 L512.36,15.92 L512.83,15.90 L513.30,15.88 L513.78,15.87 L514.25,15.85 L514.72,15.84 L515.19,15.83 L515.67,15.82 L516.14,15.81 L516.61,15.80 L517.09,15.80 L517.56,15.79 L518.03,15.78 L518.50,15.78 L518.98,15.78 L519.45,15.77 L519.92,15.77 L520.39,15.77 L520.87,15.76 L521.34,15.76 L521.81,15.76 L522.28,15.76 L522.76,15.76 L523.23,15.76 L523.70,15.76 L524.18,15.75 L524.65,15.75 L525.12,15.75 L525.59,15.75 L526.07,15.75 L526.54,15.75 L527.01,15.75 L527.48,15.75 L527.96,15.75 L528.43,15.75 L528.90,15.75 L529.37,15.75 L529.85,15.75 L530.32,15.75 L530.79,15.75 L531.27,15.75 L531.74,15.75 L532.21,15.75 L532.68,15.75 L533.16,15.75 L533.63,15.75 L534.10,15.75 L534.57,15.75 L535.05,15.75 L535.52,15.75 L535.99,15.75 L536.46,15.75 L536.94,15.75 L537.41,15.75 L537.88,15.75 L538.36,15.75 L538.83,15.75 L539.30,15.75 L539.77,15.75 L540.25,15.75 L540.72,15.75 L541.19,15.75 L541.66,15.75 L542.14,15.75 L542.61,15.75 L543.08,15.75 L543.55,15.75 L544.03,15.75 L544.50,15.75" fill="none" stroke="#111" stroke-width="1.4"/>
<path d="M402.70,200.75 L403.17,200.75 L403.64,200.75 L404.12,200.75 L404.59,200.75 L405.06,200.75 L405.54,200.75 L406.01,200.75 L406.48,200.75 L406.95,200.75 L407.43,200.75 L407.90,200.75 L408.37,200.75 L408.84,200.75 L409.32,200.75 L409.79,200.75 L410.26,200.75 L410.73,200.75 L411.21,200.75 L411.68,200.75 L412.15,200.75 L412.63,200.75 L413.10,200.75 L413.57,200.75 L414.04,200.75 L414.52,200.75 L414.99,200.75 L415.46,200.75 L415.93,200.75 L416.41,200.75 L416.88,200.75 L417.35,200.75 L417.82,200.75 L418.30,200.75 L418.77,200.75 L419.24,200.75 L419.72,200.75 L420.19,200.75 L420.66,200.75 L421.13,200.75 L421.61,200.75 L422.08,200.75 L422.55,200.75 L423.02,200.75 L423.50,200.75 L423.97,200.75 L424.44,200.75 L424.91,200.75 L425.39,200.75 L425.86,200.75 L426.33,200.75 L426.81,200.75 L427.28,200.75 L427.75,200.75 L428.22,200.75 L428.70,200.75 L429.17,200.75 L429.64,200.75 L430.11,200.75 L430.59,200.75 L431.06,200.75 L431.53,200.75 L432.00,200.75 L432.48,200.75 L432.95,200.75 L433.42,200.75 L433.90,200.75 L434.37,200.75 L434.84,200.75 L435.31,200.75 L435.79,200.75 L436.26,200.75 L436.73,200.75 L437.20,200.75 L437.68,200.75 L438.15,200.75 L438.62,200.75 L439.09,200.75 L439.57,200.75 L440.04,200.75 L440.51,200.75 L440.99,200.75 L441.46,200.75 L441.93,200.75 L442.40,200.75 L442.88,200.75 L443.35,200.75 L443.82,200.75 L444.29,200.75 L444.77,200.75 L445.24,200.75 L445.71,200.75 L446.18,200.75 L446.66,200.75 L447.13,200.75 L447.60,200.75 L448.08,200.75 L448.55,200.75 L449.02,200.75 L449.49,200.75 L449.97,200.75 L450.44,200.75 L450.91,200.75 L451.38,200.75 L451.86,200.75 L452.33,200.75 L452.80,200.75 L453.27,200.75 L453.75,200.75 L454.22,200.75 L454.69,200.75 L455.17,200.75 L455.64,200.75 L456.11,200.75 L456.58,200.75 L457.06,200.75 L457.53,200.75 L458.00,200.75 L458.47,200.75 L458.95,200.75 L459.42,200.75 L459.89,200.75 L460.36,200.75 L460.84,200.75 L461.31,200.75 L461.78,200.75 L462.26,200.75 L462.73,200.75 L463.20,200.75 L463.67,200.75 L464.15,200.75 L464.62,200.75 L465.09,200.75 L465.56,200.75 L466.04,200.75 L466.51,200.75 L466.98,200.75 L467.45,200.75 L467.93,200.75 L468.40,200.75 L468.87,200.75 L469.35,200.75 L469.82,200.75 L470.29,200.75 L470.76,200.75 L471.24,200.75 L471.71,200.75 L472.18,200.75 L472.65,200.75 L473.13,200.75 L473.60,200.75 L474.07,200.75 L474.54,200.75 L475.02,200.75 L475.49,200.75 L475.96,200.74 L476.44,200.74 L476.91,200.74 L477.38,200.74 L477.85,200.74 L478.33,200.74 L478.80,200.74 L479.27,200.74 L479.74,200.73 L480.22,200.73 L480.69,200.73 L481.16,200.73 L481.63,200.72 L482.11,200.72 L482.58,200.72 L483.05,200.71 L483.53,200.71 L484.00,200.70 L484.47,200.70 L484.94,200.69 L485.42,200.69 L485.89,200.68 L486.36,200.67 L486.83,200.66 L487.31,200.65 L487.78,200.64 L488.25,200.62 L488.72,200.61 L489.20,200.59 L489.67,200.57 L490.14,200.55 L490.62,200.53 L491.09,200.51 L491.56,200.48 L492.03,200.45 L492.51,200.42 L492.98,200.39 L493.45,200.35 L493.92,200.31 L494.40,200.26 L494.87,200.21 L495.34,200.16 L495.81,200.10 L496.29,200.04 L496.76,199.97 L497.23,199.89 L497.71,199.81 L498.18,199.72 L498.65,199.62 L499.12,199.52 L499.60,199.41 L500.07,199.28 L500.54,199.15 L501.01,199.01 L501.49,198.86 L501.96,198.69 L502.43,198.52 L502.91,198.33 L503.38,198.13 L503.85,197.91 L504.32,197.68 L504.80,197.43 L505.27,197.17 L505.74,196.88 L506.21,196.58 L506.69,196.26 L507.16,195.92 L507.63,195.56 L508.10,195.18 L508.58,194.78 L509.05,194.35 L509.52,193.89 L510.00,193.41 L510.47,192.91 L510.94,192.38 L511.41,191.82 L511.89,191.23 L512.36,190.61 L512.83,189.96 L513.30,189.28 L513.78,188.57 L514.25,187.83 L514.72,187.05 L515.19,186.24 L515.67,185.40 L516.14,184.52 L516.61,183.61 L517.09,182.67 L517.56,181.69 L518.03,180.67 L518.50,179.62 L518.98,178.54 L519.45,177.42 L519.92,176.27 L520.39,175.08 L520.87,173.86 L521.34,172.61 L521.81,171.33 L522.28,170.02 L522.76,168.68 L523.23,167.31 L523.70,165.92 L524.18,164.50 L524.65,163.05 L525.12,161.59 L525.59,160.11 L526.07,158.60 L526.54,157.09 L527.01,155.56 L527.48,154.02 L527.96,152.47 L528.43,150.92 L528.90,149.36 L529.37,147.80 L529.85,146.25 L530.32,144.70 L530.79,143.16 L531.27,141.63 L531.74,140.12 L532.21,138.63 L532.68,137.16 L533.16,135.71 L533.63,134.29 L534.10,132.90 L534.57,131.55 L535.05,130.24 L535.52,128.96 L535.99,127.73 L536.46,126.55 L536.94,125.42 L537.41,124.34 L537.88,123.31 L538.36,122.35 L538.83,121.44 L539.30,120.60 L539.77,119.82 L540.25,119.11 L540.72,118.47 L541.19,117.90 L541.66,117.41 L542.14,116.99 L542.61,116.64 L543.08,116.37 L543.55,116.18 L544.03,116.06 L544.50,116.02" fill="none" stroke="#8f8f1e" stroke-width="1.3"/>
</g>
<line x1="403.3" y1="15.75" x2="544.5" y2="15.75" stroke="#3a3a3a" stroke-width="1.9" stroke-dasharray="12.3,4.1"/>
<line x1="502" y1="15.75" x2="544.5" y2="15.75" stroke="#333" stroke-width="1.6"/>
<line x1="402" y1="6.5" x2="687" y2="6.5" stroke="#555" stroke-width="1.1"/>
<line x1="403" y1="6" x2="403" y2="415" stroke="#8c8c8c" stroke-width="2"/>
<line x1="686" y1="6" x2="686" y2="415" stroke="#a5a5a5" stroke-width="2"/>
<line x1="544.5" y1="6.5" x2="544.5" y2="210.5" stroke="#666" stroke-width="1"/>
<line x1="544.5" y1="210.5" x2="544.5" y2="414" stroke="#bbb" stroke-width="1"/>
<line x1="402" y1="210.5" x2="687" y2="210.5" stroke="#333" stroke-width="1.2"/>
<line x1="402" y1="414.3" x2="687" y2="414.3" stroke="#555" stroke-width="1.2"/>
<line x1="400.2" y1="200.75" x2="402.7" y2="200.75" stroke="#8a8a8a" stroke-width="1"/>
<text x="394.5" y="205.05" font-size="12" text-anchor="end" fill="#1a1a1a">0.0</text>
<line x1="400.2" y1="182.25" x2="402.7" y2="182.25" stroke="#8a8a8a" stroke-width="1"/>
<text x="394.5" y="186.55" font-size="12" text-anchor="end" fill="#1a1a1a">0.1</text>
<line x1="400.2" y1="163.75" x2="402.7" y2="163.75" stroke="#8a8a8a" stroke-width="1"/>
<text x="394.5" y="168.05" font-size="12" text-anchor="end" fill="#1a1a1a">0.2</text>
<line x1="400.2" y1="145.25" x2="402.7" y2="145.25" stroke="#8a8a8a" stroke-width="1"/>
<text x="394.5" y="149.55" font-size="12" text-anchor="end" fill="#1a1a1a">0.3</text>
<line x1="400.2" y1="126.75" x2="402.7" y2="126.75" stroke="#8a8a8a" stroke-width="1"/>
<text x="394.5" y="131.05" font-size="12" text-anchor="end" fill="#1a1a1a">0.4</text>
<line x1="400.2" y1="108.25" x2="402.7" y2="108.25" stroke="#8a8a8a" stroke-width="1"/>
<text x="394.5" y="112.55" font-size="12" text-anchor="end" fill="#1a1a1a">0.5</text>
<line x1="400.2" y1="89.75" x2="402.7" y2="89.75" stroke="#8a8a8a" stroke-width="1"/>
<text x="394.5" y="94.05" font-size="12" text-anchor="end" fill="#1a1a1a">0.6</text>
<line x1="400.2" y1="71.25" x2="402.7" y2="71.25" stroke="#8a8a8a" stroke-width="1"/>
<text x="394.5" y="75.55" font-size="12" text-anchor="end" fill="#1a1a1a">0.7</text>
<line x1="400.2" y1="52.75" x2="402.7" y2="52.75" stroke="#8a8a8a" stroke-width="1"/>
<text x="394.5" y="57.05" font-size="12" text-anchor="end" fill="#1a1a1a">0.8</text>
<line x1="400.2" y1="34.25" x2="402.7" y2="34.25" stroke="#8a8a8a" stroke-width="1"/>
<text x="394.5" y="38.55" font-size="12" text-anchor="end" fill="#1a1a1a">0.9</text>
<line x1="400.2" y1="15.75" x2="402.7" y2="15.75" stroke="#8a8a8a" stroke-width="1"/>
<text x="394.5" y="20.05" font-size="12" text-anchor="end" fill="#1a1a1a">1.0</text>
<line x1="426.3" y1="207.3" x2="426.3" y2="210.5" stroke="#333" stroke-width="0.9"/>
<line x1="450.0" y1="207.3" x2="450.0" y2="210.5" stroke="#333" stroke-width="0.9"/>
<line x1="473.6" y1="207.3" x2="473.6" y2="210.5" stroke="#333" stroke-width="0.9"/>
<line x1="497.2" y1="207.3" x2="497.2" y2="210.5" stroke="#333" stroke-width="0.9"/>
<line x1="520.9" y1="207.3" x2="520.9" y2="210.5" stroke="#333" stroke-width="0.9"/>
<line x1="544.5" y1="207.3" x2="544.5" y2="210.5" stroke="#333" stroke-width="0.9"/>
<line x1="402.7" y1="210.5" x2="402.7" y2="213.5" stroke="#333" stroke-width="0.9"/>
<line x1="402.7" y1="414" x2="402.7" y2="417" stroke="#8a8a8a" stroke-width="1"/>
<text x="402.7" y="434" font-size="12" text-anchor="middle" fill="#1a1a1a">-30</text>
<line x1="450.0" y1="210.5" x2="450.0" y2="213.5" stroke="#333" stroke-width="0.9"/>
<line x1="450.0" y1="414" x2="450.0" y2="417" stroke="#8a8a8a" stroke-width="1"/>
<text x="450.0" y="434" font-size="12" text-anchor="middle" fill="#1a1a1a">-20</text>
<line x1="497.2" y1="210.5" x2="497.2" y2="213.5" stroke="#333" stroke-width="0.9"/>
<line x1="497.2" y1="414" x2="497.2" y2="417" stroke="#8a8a8a" stroke-width="1"/>
<text x="497.2" y="434" font-size="12" text-anchor="middle" fill="#1a1a1a">-10</text>
<line x1="544.5" y1="210.5" x2="544.5" y2="213.5" stroke="#333" stroke-width="0.9"/>
<line x1="544.5" y1="414" x2="544.5" y2="417" stroke="#8a8a8a" stroke-width="1"/>
<text x="544.5" y="434" font-size="12" text-anchor="middle" fill="#1a1a1a">0</text>
<line x1="591.8" y1="210.5" x2="591.8" y2="213.5" stroke="#333" stroke-width="0.9"/>
<line x1="591.8" y1="414" x2="591.8" y2="417" stroke="#8a8a8a" stroke-width="1"/>
<text x="591.8" y="434" font-size="12" text-anchor="middle" fill="#1a1a1a">10</text>
<line x1="639.0" y1="210.5" x2="639.0" y2="213.5" stroke="#333" stroke-width="0.9"/>
<line x1="639.0" y1="414" x2="639.0" y2="417" stroke="#8a8a8a" stroke-width="1"/>
<text x="639.0" y="434" font-size="12" text-anchor="middle" fill="#1a1a1a">20</text>
<line x1="686.3" y1="210.5" x2="686.3" y2="213.5" stroke="#333" stroke-width="0.9"/>
<line x1="686.3" y1="414" x2="686.3" y2="417" stroke="#8a8a8a" stroke-width="1"/>
<text x="686.3" y="434" font-size="12" text-anchor="middle" fill="#1a1a1a">30</text>
<line x1="400.2" y1="413.90" x2="402.7" y2="413.90" stroke="#8a8a8a" stroke-width="1"/>
<text x="394.5" y="418.80" font-size="12" text-anchor="end" fill="#1a1a1a">0.20</text>
<line x1="400.2" y1="378.78" x2="402.7" y2="378.78" stroke="#8a8a8a" stroke-width="1"/>
<text x="394.5" y="383.68" font-size="12" text-anchor="end" fill="#1a1a1a">0.25</text>
<line x1="400.2" y1="343.66" x2="402.7" y2="343.66" stroke="#8a8a8a" stroke-width="1"/>
<text x="394.5" y="348.56" font-size="12" text-anchor="end" fill="#1a1a1a">0.30</text>
<line x1="400.2" y1="308.54" x2="402.7" y2="308.54" stroke="#8a8a8a" stroke-width="1"/>
<text x="394.5" y="313.44" font-size="12" text-anchor="end" fill="#1a1a1a">0.35</text>
<line x1="400.2" y1="273.42" x2="402.7" y2="273.42" stroke="#8a8a8a" stroke-width="1"/>
<text x="394.5" y="278.32" font-size="12" text-anchor="end" fill="#1a1a1a">0.40</text>
<line x1="400.2" y1="238.30" x2="402.7" y2="238.30" stroke="#8a8a8a" stroke-width="1"/>
<text x="394.5" y="243.20" font-size="12" text-anchor="end" fill="#1a1a1a">0.45</text>
<line x1="686" y1="381.70" x2="689" y2="381.70" stroke="#8a8a8a" stroke-width="1"/>
<text x="697.6" y="386.00" font-size="12" fill="#1a1a1a">0.0</text>
<line x1="686" y1="338.90" x2="689" y2="338.90" stroke="#8a8a8a" stroke-width="1"/>
<text x="697.6" y="343.20" font-size="12" fill="#1a1a1a">0.2</text>
<line x1="686" y1="296.10" x2="689" y2="296.10" stroke="#8a8a8a" stroke-width="1"/>
<text x="697.6" y="300.40" font-size="12" fill="#1a1a1a">0.4</text>
<line x1="686" y1="253.30" x2="689" y2="253.30" stroke="#8a8a8a" stroke-width="1"/>
<text x="697.6" y="257.60" font-size="12" fill="#1a1a1a">0.6</text>
<line x1="686" y1="210.50" x2="689" y2="210.50" stroke="#8a8a8a" stroke-width="1"/>
<text x="697.6" y="214.80" font-size="12" fill="#1a1a1a">0.8</text>
<line x1="582" y1="24.8" x2="594.3" y2="24.8" stroke="#333" stroke-width="1.7"/>
<line x1="598.9" y1="24.8" x2="607" y2="24.8" stroke="#333" stroke-width="1.7"/>
<text x="612.8" y="28.00" font-size="11" fill="#1a1a1a">total</text>
<line x1="582" y1="41.55" x2="607.2" y2="41.55" stroke="#2a2af5" stroke-width="1.5"/>
<text x="612.8" y="44.75" font-size="11" fill="#1a1a1a">H<tspan font-size="7.5" dy="3">2</tspan><tspan dy="-3">O</tspan></text>
<line x1="582" y1="59.55" x2="607.2" y2="59.55" stroke="#7cf03c" stroke-width="1.5"/>
<text x="612.8" y="62.75" font-size="11" fill="#1a1a1a">L18W-PGLa</text>
<line x1="582" y1="75.3" x2="607.2" y2="75.3" stroke="#f2ef22" stroke-width="1.5"/>
<text x="612.8" y="78.50" font-size="11" fill="#1a1a1a">PG2</text>
<line x1="582" y1="91.3" x2="607.2" y2="91.3" stroke="#e39a6c" stroke-width="1.5"/>
<text x="612.8" y="94.50" font-size="11" fill="#1a1a1a">ENX</text>
<line x1="582" y1="109.05" x2="607.2" y2="109.05" stroke="#d61e1e" stroke-width="1.5"/>
<text x="612.8" y="112.25" font-size="11" fill="#1a1a1a">PO<tspan font-size="7.5" dy="3">4</tspan></text>
<line x1="582" y1="126.55" x2="607.2" y2="126.55" stroke="#6a1d9a" stroke-width="1.5"/>
<text x="612.8" y="129.75" font-size="11" fill="#1a1a1a">CG</text>
<line x1="582" y1="142.55" x2="607.2" y2="142.55" stroke="#3f8a2a" stroke-width="1.5"/>
<text x="612.8" y="145.75" font-size="11" fill="#1a1a1a">CH</text>
<line x1="582" y1="160.05" x2="607.2" y2="160.05" stroke="#8f8f1e" stroke-width="1.5"/>
<text x="612.8" y="163.25" font-size="11" fill="#1a1a1a">CH<tspan font-size="7.5" dy="3">3</tspan></text>
<line x1="582" y1="180.05" x2="607.2" y2="180.05" stroke="#b4b4b4" stroke-width="1.5"/>
<text x="612.8" y="183.25" font-size="11" fill="#1a1a1a">CH<tspan font-size="7.5" dy="3">2</tspan></text>
<line x1="582" y1="197.05" x2="607.2" y2="197.05" stroke="#111" stroke-width="1.5"/>
<text x="612.8" y="200.25" font-size="11" fill="#1a1a1a">HC-Core</text>
<path d="M402.90,317.67 L403.40,317.67 L403.90,317.67 L404.40,317.66 L404.90,317.66 L405.40,317.65 L405.90,317.64 L406.40,317.63 L406.90,317.62 L407.40,317.60 L407.90,317.57 L408.40,317.54 L408.90,317.51 L409.40,317.47 L409.90,317.42 L410.40,317.36 L410.90,317.29 L411.40,317.22 L411.90,317.13 L412.40,317.04 L412.90,316.93 L413.40,316.81 L413.90,316.68 L414.40,316.53 L414.90,316.37 L415.40,316.20 L415.90,316.01 L416.40,315.81 L416.90,315.59 L417.40,315.36 L417.90,315.10 L418.40,314.83 L418.90,314.54 L419.40,314.23 L419.90,313.90 L420.40,313.55 L420.90,313.17 L421.40,312.78 L421.90,312.36 L422.40,311.92 L422.90,311.46 L423.40,310.97 L423.90,310.45 L424.40,309.91 L424.90,309.35 L425.40,308.75 L425.90,308.13 L426.40,307.48 L426.90,306.81 L427.40,306.10 L427.90,305.36 L428.40,304.59 L428.90,303.78 L429.40,302.94 L429.90,302.07 L430.40,301.15 L430.90,300.19 L431.40,299.19 L431.90,298.14 L432.40,297.04 L432.90,295.90 L433.40,294.70 L433.90,293.45 L434.40,292.14 L434.90,290.78 L435.40,289.36 L435.90,287.87 L436.40,286.34 L436.90,284.76 L437.40,283.14 L437.90,281.49 L438.40,279.82 L438.90,278.13 L439.40,276.42 L439.90,274.72 L440.40,273.01 L440.90,271.32 L441.40,269.64 L441.90,267.99 L442.40,266.37 L442.90,264.79 L443.40,263.25 L443.90,261.75 L444.40,260.29 L444.90,258.88 L445.40,257.53 L445.90,256.22 L446.40,254.98 L446.90,253.78 L447.40,252.65 L447.90,251.59 L448.40,250.58 L448.90,249.65 L449.40,248.78 L449.90,247.98 L450.40,247.26 L450.90,246.62 L451.40,246.06 L451.90,245.57 L452.40,245.18 L452.90,244.87 L453.40,244.64 L453.90,244.51 L454.40,244.48 L454.90,244.53 L455.40,244.67 L455.90,244.89 L456.40,245.19 L456.90,245.56 L457.40,246.00 L457.90,246.51 L458.40,247.08 L458.90,247.71 L459.40,248.39 L459.90,249.12 L460.40,249.90 L460.90,250.73 L461.40,251.60 L461.90,252.51 L462.40,253.47 L462.90,254.48 L463.40,255.54 L463.90,256.64 L464.40,257.78 L464.90,258.98 L465.40,260.21 L465.90,261.50 L466.40,262.83 L466.90,264.21 L467.40,265.64 L467.90,267.11 L468.40,268.63 L468.90,270.19 L469.40,271.80 L469.90,273.46 L470.40,275.17 L470.90,276.92 L471.40,278.72 L471.90,280.57 L472.40,282.46 L472.90,284.40 L473.40,286.38 L473.90,288.40 L474.40,290.44 L474.90,292.50 L475.40,294.58 L475.90,296.65 L476.40,298.73 L476.90,300.79 L477.40,302.84 L477.90,304.86 L478.40,306.85 L478.90,308.80 L479.40,310.71 L479.90,312.57 L480.40,314.39 L480.90,316.17 L481.40,317.90 L481.90,319.58 L482.40,321.21 L482.90,322.79 L483.40,324.32 L483.90,325.79 L484.40,327.21 L484.90,328.57 L485.40,329.88 L485.90,331.13 L486.40,332.32 L486.90,333.45 L487.40,334.54 L487.90,335.57 L488.40,336.54 L488.90,337.48 L489.40,338.36 L489.90,339.20 L490.40,339.99 L490.90,340.74 L491.40,341.45 L491.90,342.11 L492.40,342.74 L492.90,343.34 L493.40,343.90 L493.90,344.42 L494.40,344.91 L494.90,345.37 L495.40,345.81 L495.90,346.21 L496.40,346.59 L496.90,346.95 L497.40,347.29 L497.90,347.60 L498.40,347.90 L498.90,348.18 L499.40,348.44 L499.90,348.69 L500.40,348.93 L500.90,349.16 L501.40,349.38 L501.90,349.60 L502.40,349.81 L502.90,350.02 L503.40,350.22 L503.90,350.43 L504.40,350.63 L504.90,350.84 L505.40,351.06 L505.90,351.28 L506.40,351.52 L506.90,351.76 L507.40,352.01 L507.90,352.28 L508.40,352.56 L508.90,352.86 L509.40,353.18 L509.90,353.52 L510.40,353.88 L510.90,354.27 L511.40,354.68 L511.90,355.12 L512.40,355.59 L512.90,356.08 L513.40,356.59 L513.90,357.13 L514.40,357.69 L514.90,358.27 L515.40,358.87 L515.90,359.49 L516.40,360.13 L516.90,360.78 L517.40,361.45 L517.90,362.14 L518.40,362.84 L518.90,363.55 L519.40,364.27 L519.90,365.01 L520.40,365.75 L520.90,366.51 L521.40,367.27 L521.90,368.04 L522.40,368.81 L522.90,369.59 L523.40,370.37 L523.90,371.16 L524.40,371.94 L524.90,372.73 L525.40,373.51 L525.90,374.30 L526.40,375.08 L526.90,375.86 L527.40,376.63 L527.90,377.40 L528.40,378.16 L528.90,378.91 L529.40,379.66 L529.90,380.39 L530.40,381.11 L530.90,381.83 L531.40,382.53 L531.90,383.21 L532.40,383.88 L532.90,384.53 L533.40,385.17 L533.90,385.79 L534.40,386.39 L534.90,386.97 L535.40,387.52 L535.90,388.06 L536.40,388.57 L536.90,389.06 L537.40,389.52 L537.90,389.96 L538.40,390.37 L538.90,390.75 L539.40,391.10 L539.90,391.42 L540.40,391.71 L540.90,391.97 L541.40,392.19 L541.90,392.38 L542.40,392.53 L542.90,392.65 L543.40,392.73 L543.90,392.77 L544.40,392.77" fill="none" stroke="#111" stroke-width="1.4"/>
<path d="M544.80,393.20 C546.65,392.92 552.23,392.33 555.90,391.50 C559.57,390.67 563.17,389.10 566.80,388.20 C570.43,387.30 574.07,386.72 577.70,386.10 C581.33,385.48 585.33,385.23 588.60,384.50 C591.87,383.77 594.77,383.25 597.30,381.70 C599.83,380.15 601.62,378.28 603.80,375.20 C605.98,372.12 607.85,369.57 610.40,363.20 C612.95,356.83 616.48,346.98 619.10,337.00 C621.72,327.02 623.90,312.37 626.10,303.30 C628.30,294.23 630.23,288.12 632.30,282.60 C634.37,277.08 636.43,273.47 638.50,270.20 C640.57,266.93 641.95,265.25 644.70,263.00 C647.45,260.75 651.55,258.78 655.00,256.70 C658.45,254.62 661.95,252.22 665.40,250.50 C668.85,248.78 672.35,247.33 675.70,246.40 C679.05,245.47 683.87,245.15 685.50,244.90" fill="none" stroke="#3a8d8a" stroke-width="1.3"/>
<path d="M544.80,393.20 C546.65,392.92 552.23,392.33 555.90,391.50 C559.57,390.67 563.17,389.10 566.80,388.20 C570.43,387.30 574.07,386.72 577.70,386.10 C581.33,385.48 585.33,385.23 588.60,384.50 C591.87,383.77 594.77,383.25 597.30,381.70 C599.83,380.15 601.27,378.65 603.80,375.20 C606.33,371.75 609.58,367.37 612.50,361.00 C615.42,354.63 618.35,345.23 621.30,337.00 C624.25,328.77 627.68,318.60 630.20,311.60 C632.72,304.60 634.33,298.97 636.40,295.00 C638.47,291.03 639.83,289.17 642.60,287.80 C645.37,286.43 649.20,287.32 653.00,286.80 C656.80,286.28 661.62,285.33 665.40,284.70 C669.18,284.07 672.35,283.35 675.70,283.00 C679.05,282.65 683.87,282.67 685.50,282.60" fill="none" stroke="#22228f" stroke-width="1.3"/>
<path d="M544.80,393.20 C546.65,392.92 552.23,392.33 555.90,391.50 C559.57,390.67 563.17,389.10 566.80,388.20 C570.43,387.30 574.07,386.72 577.70,386.10 C581.33,385.48 585.33,385.23 588.60,384.50 C591.87,383.77 594.77,383.25 597.30,381.70 C599.83,380.15 601.62,377.92 603.80,375.20 C605.98,372.48 608.22,369.58 610.40,365.40 C612.58,361.22 614.73,355.18 616.90,350.10 C619.07,345.02 621.22,339.62 623.40,334.90 C625.58,330.18 627.82,325.37 630.00,321.80 C632.18,318.23 634.40,315.20 636.50,313.50 C638.60,311.80 639.85,311.40 642.60,311.60 C645.35,311.80 649.20,313.48 653.00,314.70 C656.80,315.92 659.98,318.13 665.40,318.90 C670.82,319.67 682.15,319.23 685.50,319.30" fill="none" stroke="#e8783e" stroke-width="1.3"/>
<line x1="451" y1="210.5" x2="451" y2="414" stroke="#8a8f82" stroke-width="1.8" stroke-dasharray="16,5.5" stroke-dashoffset="5.5"/>
<line x1="474.1" y1="195" x2="474.1" y2="278" stroke="#333" stroke-width="1.2"/>
<path d="M470.4,277 L478.2,277 L474.2,284.5 Z" fill="#222"/>
<text x="435.6" y="229.5" font-size="11" fill="#1a1a1a" class="sm">D<tspan font-size="8.5" dy="2.3">B</tspan></text>
<text x="478.5" y="228.8" font-size="11.5" fill="#1a1a1a" style="stroke-width:0.6px">z</text>
<text x="483.3" y="232" font-size="8" fill="#1a1a1a" class="sm">L18W-PGLA</text>
<text x="663" y="242.5" font-size="12" fill="#1a1a1a">100</text>
<text x="663.5" y="275" font-size="12" fill="#1a1a1a">75</text>
<text x="663.5" y="311.6" font-size="12" fill="#1a1a1a">50</text>
<text x="409.3" y="410" font-size="11" fill="#1a1a1a">X-rays</text>
<text x="681" y="410" font-size="11" text-anchor="end" fill="#1a1a1a">Neutrons</text>
<text x="452.3" y="453.6" font-size="12" font-weight="bold" fill="#1a1a1a">Distance from Bilayer Center [Å]</text>
<text transform="translate(358.4,162.9) rotate(-90)" font-size="12" font-weight="bold" fill="#1a1a1a">Volume probability</text>
<text transform="translate(360.4,341.1) rotate(-90)" font-size="12" font-weight="bold" fill="#1a1a1a">SLD [e/Å<tspan font-size="7.5" font-weight="normal" dy="-5.5" style="stroke-width:0.15px">3</tspan><tspan dy="5.5">]</tspan></text>
<text transform="translate(732.9,342.3) rotate(-90)" font-size="12" font-weight="bold" fill="#1a1a1a">NSLD [fm/Å<tspan font-size="7.5" font-weight="normal" dy="-5.5" style="stroke-width:0.15px">3</tspan><tspan dy="5.5">]</tspan></text>
<text x="352.6" y="16.5" font-size="22.5" font-weight="bold" fill="#000">C</text>
<text x="352" y="225.3" font-size="22.5" font-weight="bold" fill="#000">D</text>
</svg></div></body></html>
